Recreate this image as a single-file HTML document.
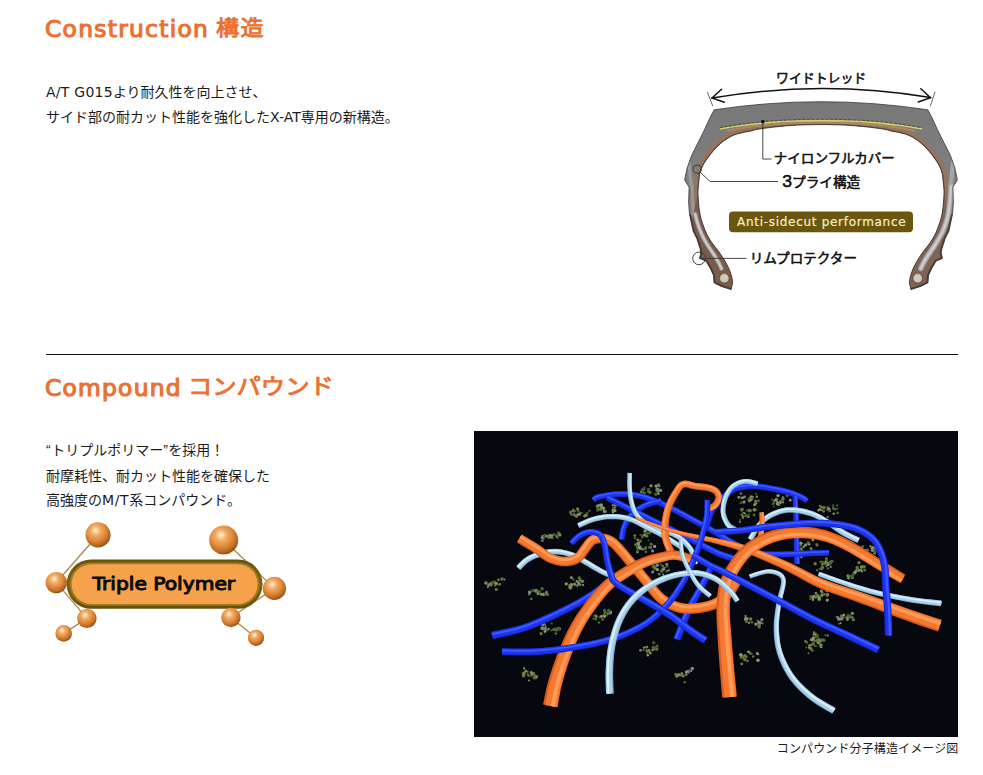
<!DOCTYPE html>
<html lang="ja">
<head>
<meta charset="utf-8">
<title>Construction / Compound</title>
<style>
html,body{margin:0;padding:0;background:#fff;}
body{width:983px;height:775px;position:relative;overflow:hidden;
  font-family:"DejaVu Sans","Liberation Sans","Noto Sans CJK JP",sans-serif;color:#1c1c1c;}
h2{position:absolute;left:0;margin:0;width:500px;height:30px;font-weight:normal;color:#ec7030;white-space:nowrap;}
h2 span{position:absolute;top:0;display:block;line-height:30px;transform-origin:0 50%;}
h2 .en{left:45.4px;top:-0.3px;font-size:22.2px;-webkit-text-stroke:1.1px #ec7030;letter-spacing:1.2px;transform:scaleX(1.054);}
#h2 .en{letter-spacing:1.15px;}
h2 .jp{font-family:"Liberation Sans","Noto Sans CJK JP",sans-serif;-webkit-text-stroke:0.9px #ec7030;}
#h1{top:14px;}
#h2{top:373px;}
#h1 .jp{left:216.4px;top:-0.6px;font-size:21px;letter-spacing:1.2px;transform:scaleX(1.1);}
#h2 .jp{left:188px;top:-0.6px;font-size:22px;transform:scaleX(1.104);}
p{position:absolute;left:46px;margin:0;font-size:14px;line-height:25px;white-space:nowrap;}
.lt{letter-spacing:0.25px;}
.q{font-family:"Liberation Sans","Noto Sans CJK JP",sans-serif;margin-right:0.5px;}
.l2{position:relative;top:0.7px;}
.mt{letter-spacing:0.6px;}
hr{position:absolute;left:46px;top:354px;width:912px;height:1px;border:0;margin:0;background:#111;}
#p1{top:80px;}
#p2{top:438px;}
#cap{position:absolute;right:24.6px;top:740px;font-size:12px;line-height:18px;white-space:nowrap;letter-spacing:0.12px;}
svg{position:absolute;display:block;}
#mol{left:474px;top:431px;}
#tire{left:670px;top:55px;}
#tp{left:36px;top:510px;}
</style>
</head>
<body>
<h2 id="h1"><span class="en">Construction</span> <span class="jp">構造</span></h2>
<p id="p1"><span class="lt">A/T G015</span>より耐久性を向上させ、<br>サイド部の耐カット性能を強化したX-AT専用の新構造。</p>
<svg id="tire" width="303" height="260" viewBox="670 55 303 260" aria-label="tire construction diagram">
<defs><clipPath id="tclip"><path d="M714.2,109.8 Q821.0,93.6 927.8,109.8 L932.2,118.1 L937.6,129.9 L943.9,142.5 L950.3,155.2 L954.8,167.8 L957.4,179.9 L954.7,184.4 L952.9,187.1 L953.4,202.5 L952.5,214.2 L950.6,223.2 L948.8,231.3 L945.2,238.5 L942.0,248.5 L941.2,253.0 L942.5,258.4 L936.2,261.0 L931.7,268.4 L928.5,275.6 L928.0,282.8 L920.8,286.4 L910.9,289.6 C910.7,288.3 909.5,284.5 909.5,282.0 C909.5,279.5 910.2,277.1 910.9,274.7 C911.6,272.3 912.4,270.1 913.6,267.5 C914.8,264.9 916.5,262.0 918.1,259.3 C919.8,256.6 921.5,253.9 923.5,251.2 C925.5,248.5 927.9,245.9 929.9,243.0 C931.9,240.1 933.8,237.0 935.3,234.0 C936.8,231.0 937.8,228.0 938.9,225.0 C940.0,222.0 940.9,219.6 941.6,216.0 C942.4,212.4 943.0,207.5 943.4,203.4 C943.8,199.3 944.1,195.5 944.0,191.6 C943.9,187.7 943.3,183.1 943.0,180.0 C942.7,176.9 942.7,175.5 942.1,173.2 C941.5,170.9 940.6,168.4 939.4,166.0 C938.2,163.6 936.7,161.4 934.9,158.8 C933.1,156.2 930.9,153.3 928.6,150.7 C926.3,148.1 924.0,145.7 921.3,143.4 C918.6,141.1 915.3,138.8 912.3,137.1 C909.3,135.4 906.7,134.5 903.3,133.5 C899.9,132.5 895.9,132.0 892.0,131.2 C888.1,130.4 886.7,129.5 880.0,128.6 C873.3,127.7 861.8,126.3 852.0,125.6 C842.2,124.9 831.3,124.6 821.0,124.6 C810.7,124.6 799.8,124.9 790.0,125.6 C780.2,126.3 768.7,127.7 762.0,128.6 C755.3,129.5 753.9,130.4 750.0,131.2 C746.1,132.0 742.1,132.5 738.7,133.5 C735.3,134.5 732.7,135.4 729.7,137.1 C726.7,138.8 723.4,141.1 720.7,143.4 C718.0,145.7 715.7,148.1 713.4,150.7 C711.1,153.3 708.9,156.2 707.1,158.8 C705.3,161.4 703.8,163.6 702.6,166.0 C701.4,168.4 700.5,170.9 699.9,173.2 C699.3,175.5 699.3,176.9 699.0,180.0 C698.7,183.1 698.1,187.7 698.0,191.6 C697.9,195.5 698.2,199.3 698.6,203.4 C699.0,207.5 699.6,212.4 700.4,216.0 C701.1,219.6 702.0,222.0 703.1,225.0 C704.2,228.0 705.2,231.0 706.7,234.0 C708.2,237.0 710.1,240.1 712.1,243.0 C714.1,245.9 716.5,248.5 718.5,251.2 C720.5,253.9 722.2,256.6 723.9,259.3 C725.5,262.0 727.2,264.9 728.4,267.5 C729.6,270.1 730.4,272.3 731.1,274.7 C731.8,277.1 732.5,279.5 732.5,282.0 C732.5,284.5 731.3,288.3 731.1,289.6 L721.2,286.4 L714.0,282.8 L713.5,275.6 L710.3,268.4 L705.8,261.0 L699.5,258.4 L700.8,253.0 L700.0,248.5 L696.8,238.5 L693.2,231.3 L691.4,223.2 L689.5,214.2 L688.6,202.5 L689.1,187.1 L687.3,184.4 L684.6,179.9 L687.2,167.8 L691.7,155.2 L698.1,142.5 L704.4,129.9 L709.8,118.1 L714.2,109.8Z"/></clipPath>
<linearGradient id="tg" x1="0" y1="0" x2="0" y2="1"><stop offset="0" stop-color="#787878"/><stop offset="0.35" stop-color="#7e7e7e"/><stop offset="1" stop-color="#888888"/></linearGradient></defs>
<path d="M714.2,109.8 Q821.0,93.6 927.8,109.8 L932.2,118.1 L937.6,129.9 L943.9,142.5 L950.3,155.2 L954.8,167.8 L957.4,179.9 L954.7,184.4 L952.9,187.1 L953.4,202.5 L952.5,214.2 L950.6,223.2 L948.8,231.3 L945.2,238.5 L942.0,248.5 L941.2,253.0 L942.5,258.4 L936.2,261.0 L931.7,268.4 L928.5,275.6 L928.0,282.8 L920.8,286.4 L910.9,289.6 C910.7,288.3 909.5,284.5 909.5,282.0 C909.5,279.5 910.2,277.1 910.9,274.7 C911.6,272.3 912.4,270.1 913.6,267.5 C914.8,264.9 916.5,262.0 918.1,259.3 C919.8,256.6 921.5,253.9 923.5,251.2 C925.5,248.5 927.9,245.9 929.9,243.0 C931.9,240.1 933.8,237.0 935.3,234.0 C936.8,231.0 937.8,228.0 938.9,225.0 C940.0,222.0 940.9,219.6 941.6,216.0 C942.4,212.4 943.0,207.5 943.4,203.4 C943.8,199.3 944.1,195.5 944.0,191.6 C943.9,187.7 943.3,183.1 943.0,180.0 C942.7,176.9 942.7,175.5 942.1,173.2 C941.5,170.9 940.6,168.4 939.4,166.0 C938.2,163.6 936.7,161.4 934.9,158.8 C933.1,156.2 930.9,153.3 928.6,150.7 C926.3,148.1 924.0,145.7 921.3,143.4 C918.6,141.1 915.3,138.8 912.3,137.1 C909.3,135.4 906.7,134.5 903.3,133.5 C899.9,132.5 895.9,132.0 892.0,131.2 C888.1,130.4 886.7,129.5 880.0,128.6 C873.3,127.7 861.8,126.3 852.0,125.6 C842.2,124.9 831.3,124.6 821.0,124.6 C810.7,124.6 799.8,124.9 790.0,125.6 C780.2,126.3 768.7,127.7 762.0,128.6 C755.3,129.5 753.9,130.4 750.0,131.2 C746.1,132.0 742.1,132.5 738.7,133.5 C735.3,134.5 732.7,135.4 729.7,137.1 C726.7,138.8 723.4,141.1 720.7,143.4 C718.0,145.7 715.7,148.1 713.4,150.7 C711.1,153.3 708.9,156.2 707.1,158.8 C705.3,161.4 703.8,163.6 702.6,166.0 C701.4,168.4 700.5,170.9 699.9,173.2 C699.3,175.5 699.3,176.9 699.0,180.0 C698.7,183.1 698.1,187.7 698.0,191.6 C697.9,195.5 698.2,199.3 698.6,203.4 C699.0,207.5 699.6,212.4 700.4,216.0 C701.1,219.6 702.0,222.0 703.1,225.0 C704.2,228.0 705.2,231.0 706.7,234.0 C708.2,237.0 710.1,240.1 712.1,243.0 C714.1,245.9 716.5,248.5 718.5,251.2 C720.5,253.9 722.2,256.6 723.9,259.3 C725.5,262.0 727.2,264.9 728.4,267.5 C729.6,270.1 730.4,272.3 731.1,274.7 C731.8,277.1 732.5,279.5 732.5,282.0 C732.5,284.5 731.3,288.3 731.1,289.6 L721.2,286.4 L714.0,282.8 L713.5,275.6 L710.3,268.4 L705.8,261.0 L699.5,258.4 L700.8,253.0 L700.0,248.5 L696.8,238.5 L693.2,231.3 L691.4,223.2 L689.5,214.2 L688.6,202.5 L689.1,187.1 L687.3,184.4 L684.6,179.9 L687.2,167.8 L691.7,155.2 L698.1,142.5 L704.4,129.9 L709.8,118.1 L714.2,109.8Z" fill="url(#tg)"/>
<g clip-path="url(#tclip)">
<path d="M688.2,160.0 C688.5,161.7 689.4,166.7 689.8,170.0 C690.2,173.3 690.1,176.7 690.6,180.0 C691.1,183.3 692.2,186.2 692.6,190.0 C693.0,193.8 692.8,199.0 693.0,203.0 C693.2,207.0 693.5,210.5 694.0,214.0 C694.5,217.5 695.7,222.3 696.0,224.0" fill="none" stroke="#9a9a9a" stroke-width="3.4" stroke-linecap="round"/>
<path d="M953.8,160.0 C953.5,161.7 952.6,166.7 952.2,170.0 C951.8,173.3 951.9,176.7 951.4,180.0 C950.9,183.3 949.8,186.2 949.4,190.0 C949.0,193.8 949.2,199.0 949.0,203.0 C948.8,207.0 948.5,210.5 948.0,214.0 C947.5,217.5 946.3,222.3 946.0,224.0" fill="none" stroke="#a6a6a6" stroke-width="4.2" stroke-linecap="round"/>
<path d="M910.9,289.6 C910.7,288.3 909.5,284.5 909.5,282.0 C909.5,279.5 910.2,277.1 910.9,274.7 C911.6,272.3 912.4,270.1 913.6,267.5 C914.8,264.9 916.5,262.0 918.1,259.3 C919.8,256.6 921.5,253.9 923.5,251.2 C925.5,248.5 927.9,245.9 929.9,243.0 C931.9,240.1 933.8,237.0 935.3,234.0 C936.8,231.0 937.8,228.0 938.9,225.0 C940.0,222.0 940.9,219.6 941.6,216.0 C942.4,212.4 943.0,207.5 943.4,203.4 C943.8,199.3 944.1,195.5 944.0,191.6 C943.9,187.7 943.3,183.1 943.0,180.0 C942.7,176.9 942.7,175.5 942.1,173.2 C941.5,170.9 940.6,168.4 939.4,166.0 C938.2,163.6 936.7,161.4 934.9,158.8 C933.1,156.2 930.9,153.3 928.6,150.7 C926.3,148.1 924.0,145.7 921.3,143.4 C918.6,141.1 915.3,138.8 912.3,137.1 C909.3,135.4 906.7,134.5 903.3,133.5 C899.9,132.5 895.9,132.0 892.0,131.2 C888.1,130.4 886.7,129.5 880.0,128.6 C873.3,127.7 861.8,126.3 852.0,125.6 C842.2,124.9 831.3,124.6 821.0,124.6 C810.7,124.6 799.8,124.9 790.0,125.6 C780.2,126.3 768.7,127.7 762.0,128.6 C755.3,129.5 753.9,130.4 750.0,131.2 C746.1,132.0 742.1,132.5 738.7,133.5 C735.3,134.5 732.7,135.4 729.7,137.1 C726.7,138.8 723.4,141.1 720.7,143.4 C718.0,145.7 715.7,148.1 713.4,150.7 C711.1,153.3 708.9,156.2 707.1,158.8 C705.3,161.4 703.8,163.6 702.6,166.0 C701.4,168.4 700.5,170.9 699.9,173.2 C699.3,175.5 699.3,176.9 699.0,180.0 C698.7,183.1 698.1,187.7 698.0,191.6 C697.9,195.5 698.2,199.3 698.6,203.4 C699.0,207.5 699.6,212.4 700.4,216.0 C701.1,219.6 702.0,222.0 703.1,225.0 C704.2,228.0 705.2,231.0 706.7,234.0 C708.2,237.0 710.1,240.1 712.1,243.0 C714.1,245.9 716.5,248.5 718.5,251.2 C720.5,253.9 722.2,256.6 723.9,259.3 C725.5,262.0 727.2,264.9 728.4,267.5 C729.6,270.1 730.4,272.3 731.1,274.7 C731.8,277.1 732.5,279.5 732.5,282.0 C732.5,284.5 731.3,288.3 731.1,289.6" fill="none" stroke="#96735f" stroke-width="8.6" stroke-linejoin="round"/>
<path d="M910.9,289.6 C910.7,288.3 909.5,284.5 909.5,282.0 C909.5,279.5 910.2,277.1 910.9,274.7 C911.6,272.3 912.4,270.1 913.6,267.5 C914.8,264.9 916.5,262.0 918.1,259.3 C919.8,256.6 921.5,253.9 923.5,251.2 C925.5,248.5 927.9,245.9 929.9,243.0 C931.9,240.1 933.8,237.0 935.3,234.0 C936.8,231.0 937.8,228.0 938.9,225.0 C940.0,222.0 940.9,219.6 941.6,216.0 C942.4,212.4 943.0,207.5 943.4,203.4 C943.8,199.3 944.1,195.5 944.0,191.6 C943.9,187.7 943.3,183.1 943.0,180.0 C942.7,176.9 942.7,175.5 942.1,173.2 C941.5,170.9 940.6,168.4 939.4,166.0 C938.2,163.6 936.7,161.4 934.9,158.8 C933.1,156.2 930.9,153.3 928.6,150.7 C926.3,148.1 924.0,145.7 921.3,143.4 C918.6,141.1 915.3,138.8 912.3,137.1 C909.3,135.4 906.7,134.5 903.3,133.5 C899.9,132.5 895.9,132.0 892.0,131.2 C888.1,130.4 886.7,129.5 880.0,128.6 C873.3,127.7 861.8,126.3 852.0,125.6 C842.2,124.9 831.3,124.6 821.0,124.6 C810.7,124.6 799.8,124.9 790.0,125.6 C780.2,126.3 768.7,127.7 762.0,128.6 C755.3,129.5 753.9,130.4 750.0,131.2 C746.1,132.0 742.1,132.5 738.7,133.5 C735.3,134.5 732.7,135.4 729.7,137.1 C726.7,138.8 723.4,141.1 720.7,143.4 C718.0,145.7 715.7,148.1 713.4,150.7 C711.1,153.3 708.9,156.2 707.1,158.8 C705.3,161.4 703.8,163.6 702.6,166.0 C701.4,168.4 700.5,170.9 699.9,173.2 C699.3,175.5 699.3,176.9 699.0,180.0 C698.7,183.1 698.1,187.7 698.0,191.6 C697.9,195.5 698.2,199.3 698.6,203.4 C699.0,207.5 699.6,212.4 700.4,216.0 C701.1,219.6 702.0,222.0 703.1,225.0 C704.2,228.0 705.2,231.0 706.7,234.0 C708.2,237.0 710.1,240.1 712.1,243.0 C714.1,245.9 716.5,248.5 718.5,251.2 C720.5,253.9 722.2,256.6 723.9,259.3 C725.5,262.0 727.2,264.9 728.4,267.5 C729.6,270.1 730.4,272.3 731.1,274.7 C731.8,277.1 732.5,279.5 732.5,282.0 C732.5,284.5 731.3,288.3 731.1,289.6" fill="none" stroke="#6c4c3b" stroke-width="1.6" stroke-linejoin="round"/>
<path d="M691.4,223.2 L693.2,231.3 L696.8,238.5 L700.0,248.5 L700.8,253.0 L699.5,258.4 L705.8,261.0 L710.3,268.4 L713.5,275.6 L714.0,282.8 L721.2,286.4 L731.1,289.6 L732.5,282.0 L731.1,274.7 L728.4,267.5 L723.9,259.3 L718.5,251.2 L712.1,243.0 L706.7,234.0 L703.1,225.0 L700.4,216.0 L698.6,203.4 L698.0,191.6Z" fill="#7b5c4c"/>
<path d="M950.6,223.2 L948.8,231.3 L945.2,238.5 L942.0,248.5 L941.2,253.0 L942.5,258.4 L936.2,261.0 L931.7,268.4 L928.5,275.6 L928.0,282.8 L920.8,286.4 L910.9,289.6 L909.5,282.0 L910.9,274.7 L913.6,267.5 L918.1,259.3 L923.5,251.2 L929.9,243.0 L935.3,234.0 L938.9,225.0 L941.6,216.0 L943.4,203.4 L944.0,191.6Z" fill="#7e6356"/>
<path d="M689.5,214.2 L691.4,223.2 L693.2,231.3 L696.8,238.5 L700.0,248.5 L700.8,253.0 L699.5,258.4 L705.8,261.0 L710.3,268.4 L713.5,275.6 L714.0,282.8 L721.2,286.4 L731.1,289.6" fill="none" stroke="#4a3a32" stroke-width="3"/>
<path d="M952.5,214.2 L950.6,223.2 L948.8,231.3 L945.2,238.5 L942.0,248.5 L941.2,253.0 L942.5,258.4 L936.2,261.0 L931.7,268.4 L928.5,275.6 L928.0,282.8 L920.8,286.4 L910.9,289.6" fill="none" stroke="#4a3a32" stroke-width="3"/>
<path d="M695.2,214.0 C695.5,215.3 696.4,219.4 697.2,222.0 C698.0,224.6 698.9,227.1 699.8,229.5 C700.7,231.9 701.6,234.2 702.8,236.5 C703.9,238.8 705.4,241.4 706.7,243.6 C708.0,245.8 709.3,247.6 710.6,249.6 C711.9,251.6 713.3,253.6 714.4,255.3 C715.5,257.0 716.3,258.5 717.2,260.0 C718.1,261.5 718.9,263.0 719.6,264.4 C720.3,265.8 721.1,267.9 721.4,268.6" fill="none" stroke="#9c8f88" stroke-width="4.4" stroke-linecap="round"/>
<path d="M695.2,214.0 C695.5,215.3 696.4,219.4 697.2,222.0 C698.0,224.6 698.9,227.1 699.8,229.5 C700.7,231.9 701.6,234.2 702.8,236.5 C703.9,238.8 705.4,241.4 706.7,243.6 C708.0,245.8 709.3,247.6 710.6,249.6 C711.9,251.6 713.3,253.6 714.4,255.3 C715.5,257.0 716.3,258.5 717.2,260.0 C718.1,261.5 718.9,263.0 719.6,264.4 C720.3,265.8 721.1,267.9 721.4,268.6" fill="none" stroke="#b9b5b2" stroke-width="3" stroke-linecap="round"/>
<path d="M695.2,214.0 C695.5,215.3 696.4,219.4 697.2,222.0 C698.0,224.6 698.9,227.1 699.8,229.5 C700.7,231.9 701.6,234.2 702.8,236.5 C703.9,238.8 705.4,241.4 706.7,243.6 C708.0,245.8 709.3,247.6 710.6,249.6 C711.9,251.6 713.3,253.6 714.4,255.3 C715.5,257.0 716.3,258.5 717.2,260.0 C718.1,261.5 718.9,263.0 719.6,264.4 C720.3,265.8 721.1,267.9 721.4,268.6" fill="none" stroke="#d0d0d0" stroke-width="1.4" stroke-linecap="round"/>
<path d="M951.2,186.0 C951.1,187.7 950.7,192.7 950.4,196.0 C950.1,199.3 949.8,202.7 949.4,206.0 C949.0,209.3 948.5,212.9 947.8,216.0 C947.1,219.1 946.3,221.9 945.4,224.5 C944.5,227.1 943.6,229.2 942.6,231.5 C941.6,233.8 940.4,235.8 939.2,238.0 C938.0,240.2 936.6,242.5 935.3,244.6 C934.0,246.7 932.7,248.5 931.4,250.4 C930.1,252.3 928.7,254.3 927.6,256.0 C926.5,257.7 925.7,259.1 924.8,260.6 C923.9,262.1 923.1,263.7 922.4,265.0 C921.7,266.3 921.1,268.0 920.8,268.6" fill="none" stroke="#9f9792" stroke-width="5.6" stroke-linecap="round"/>
<path d="M951.2,186.0 C951.1,187.7 950.7,192.7 950.4,196.0 C950.1,199.3 949.8,202.7 949.4,206.0 C949.0,209.3 948.5,212.9 947.8,216.0 C947.1,219.1 946.3,221.9 945.4,224.5 C944.5,227.1 943.6,229.2 942.6,231.5 C941.6,233.8 940.4,235.8 939.2,238.0 C938.0,240.2 936.6,242.5 935.3,244.6 C934.0,246.7 932.7,248.5 931.4,250.4 C930.1,252.3 928.7,254.3 927.6,256.0 C926.5,257.7 925.7,259.1 924.8,260.6 C923.9,262.1 923.1,263.7 922.4,265.0 C921.7,266.3 921.1,268.0 920.8,268.6" fill="none" stroke="#b4b2b0" stroke-width="4.2" stroke-linecap="round"/>
<path d="M951.2,186.0 C951.1,187.7 950.7,192.7 950.4,196.0 C950.1,199.3 949.8,202.7 949.4,206.0 C949.0,209.3 948.5,212.9 947.8,216.0 C947.1,219.1 946.3,221.9 945.4,224.5 C944.5,227.1 943.6,229.2 942.6,231.5 C941.6,233.8 940.4,235.8 939.2,238.0 C938.0,240.2 936.6,242.5 935.3,244.6 C934.0,246.7 932.7,248.5 931.4,250.4 C930.1,252.3 928.7,254.3 927.6,256.0 C926.5,257.7 925.7,259.1 924.8,260.6 C923.9,262.1 923.1,263.7 922.4,265.0 C921.7,266.3 921.1,268.0 920.8,268.6" fill="none" stroke="#cdcdcd" stroke-width="2" stroke-linecap="round"/>
<path d="M727.0,130.8 C730.8,130.1 742.0,127.7 750.0,126.6 C758.0,125.5 767.0,124.8 775.0,124.2 C783.0,123.6 790.3,123.1 798.0,122.8 C805.7,122.5 813.3,122.4 821.0,122.4 C828.7,122.4 836.3,122.5 844.0,122.8 C851.7,123.1 859.0,123.6 867.0,124.2 C875.0,124.8 884.0,125.5 892.0,126.6 C900.0,127.7 911.2,130.1 915.0,130.8" fill="none" stroke="#a98a58" stroke-width="2.2"/>
<path d="M719.8,129.0 C724.0,128.3 736.6,126.1 745.0,125.0 C753.4,123.9 761.7,123.1 770.0,122.4 C778.3,121.7 786.5,121.3 795.0,121.0 C803.5,120.7 812.3,120.6 821.0,120.6 C829.7,120.6 838.5,120.7 847.0,121.0 C855.5,121.3 863.7,121.7 872.0,122.4 C880.3,123.1 888.6,123.9 897.0,125.0 C905.4,126.1 918.0,128.3 922.2,129.0" fill="none" stroke="#d8cd72" stroke-width="1.6"/>
<path d="M719.8,127.6 C724.0,126.9 736.6,124.7 745.0,123.6 C753.4,122.5 761.7,121.7 770.0,121.0 C778.3,120.3 786.5,119.9 795.0,119.6 C803.5,119.3 812.3,119.2 821.0,119.2 C829.7,119.2 838.5,119.3 847.0,119.6 C855.5,119.9 863.7,120.3 872.0,121.0 C880.3,121.7 888.6,122.5 897.0,123.6 C905.4,124.7 918.0,126.9 922.2,127.6" fill="none" stroke="#4f5a2c" stroke-width="1.1" stroke-dasharray="3.2 1.4"/>
</g>
<path d="M714.2,109.8 Q821.0,93.6 927.8,109.8 L932.2,118.1 L937.6,129.9 L943.9,142.5 L950.3,155.2 L954.8,167.8 L957.4,179.9 L954.7,184.4 L952.9,187.1 L953.4,202.5 L952.5,214.2 L950.6,223.2 L948.8,231.3 L945.2,238.5 L942.0,248.5 L941.2,253.0 L942.5,258.4 L936.2,261.0 L931.7,268.4 L928.5,275.6 L928.0,282.8 L920.8,286.4 L910.9,289.6 C910.7,288.3 909.5,284.5 909.5,282.0 C909.5,279.5 910.2,277.1 910.9,274.7 C911.6,272.3 912.4,270.1 913.6,267.5 C914.8,264.9 916.5,262.0 918.1,259.3 C919.8,256.6 921.5,253.9 923.5,251.2 C925.5,248.5 927.9,245.9 929.9,243.0 C931.9,240.1 933.8,237.0 935.3,234.0 C936.8,231.0 937.8,228.0 938.9,225.0 C940.0,222.0 940.9,219.6 941.6,216.0 C942.4,212.4 943.0,207.5 943.4,203.4 C943.8,199.3 944.1,195.5 944.0,191.6 C943.9,187.7 943.3,183.1 943.0,180.0 C942.7,176.9 942.7,175.5 942.1,173.2 C941.5,170.9 940.6,168.4 939.4,166.0 C938.2,163.6 936.7,161.4 934.9,158.8 C933.1,156.2 930.9,153.3 928.6,150.7 C926.3,148.1 924.0,145.7 921.3,143.4 C918.6,141.1 915.3,138.8 912.3,137.1 C909.3,135.4 906.7,134.5 903.3,133.5 C899.9,132.5 895.9,132.0 892.0,131.2 C888.1,130.4 886.7,129.5 880.0,128.6 C873.3,127.7 861.8,126.3 852.0,125.6 C842.2,124.9 831.3,124.6 821.0,124.6 C810.7,124.6 799.8,124.9 790.0,125.6 C780.2,126.3 768.7,127.7 762.0,128.6 C755.3,129.5 753.9,130.4 750.0,131.2 C746.1,132.0 742.1,132.5 738.7,133.5 C735.3,134.5 732.7,135.4 729.7,137.1 C726.7,138.8 723.4,141.1 720.7,143.4 C718.0,145.7 715.7,148.1 713.4,150.7 C711.1,153.3 708.9,156.2 707.1,158.8 C705.3,161.4 703.8,163.6 702.6,166.0 C701.4,168.4 700.5,170.9 699.9,173.2 C699.3,175.5 699.3,176.9 699.0,180.0 C698.7,183.1 698.1,187.7 698.0,191.6 C697.9,195.5 698.2,199.3 698.6,203.4 C699.0,207.5 699.6,212.4 700.4,216.0 C701.1,219.6 702.0,222.0 703.1,225.0 C704.2,228.0 705.2,231.0 706.7,234.0 C708.2,237.0 710.1,240.1 712.1,243.0 C714.1,245.9 716.5,248.5 718.5,251.2 C720.5,253.9 722.2,256.6 723.9,259.3 C725.5,262.0 727.2,264.9 728.4,267.5 C729.6,270.1 730.4,272.3 731.1,274.7 C731.8,277.1 732.5,279.5 732.5,282.0 C732.5,284.5 731.3,288.3 731.1,289.6 L721.2,286.4 L714.0,282.8 L713.5,275.6 L710.3,268.4 L705.8,261.0 L699.5,258.4 L700.8,253.0 L700.0,248.5 L696.8,238.5 L693.2,231.3 L691.4,223.2 L689.5,214.2 L688.6,202.5 L689.1,187.1 L687.3,184.4 L684.6,179.9 L687.2,167.8 L691.7,155.2 L698.1,142.5 L704.4,129.9 L709.8,118.1 L714.2,109.8Z" fill="none" stroke="#383838" stroke-width="0.8" stroke-linejoin="round"/>
<circle cx="724.3" cy="278.2" r="5.3" fill="#5a4538"/>
<circle cx="724.3" cy="278.2" r="4.6" fill="#c8b27a"/>
<circle cx="724.3" cy="278.2" r="3.6" fill="#cbcbcb"/>
<circle cx="917.7" cy="278.2" r="5.3" fill="#5a4538"/>
<circle cx="917.7" cy="278.2" r="4.6" fill="#c8b27a"/>
<circle cx="917.7" cy="278.2" r="3.6" fill="#cbcbcb"/>
<g fill="none" stroke="#111" stroke-linecap="round">
<path stroke-width="1.5" d="M712,98 Q821,79.4 930.5,97.6"/>
<path stroke-width="1.5" d="M721.6,89.2 L712,98 L724.2,102.2"/>
<path stroke-width="1.5" d="M920.8,88.8 L930.5,97.6 L918.3,102"/>
<path stroke-width="0.8" stroke="#444" d="M707.5,92.2 L712.6,105.8"/>
<path stroke-width="0.8" stroke="#444" d="M935,92 L930.4,106"/>
</g>
<g fill="none" stroke="#333" stroke-width="0.9">
<path d="M762.8,121.6 L762.8,159 L771.5,159"/>
<path d="M700.2,172.3 L710.3,181.5 L778,181.5"/>
<path d="M705.4,258.4 L746.5,258.4"/>
<circle cx="697.2" cy="169.2" r="4.1"/>
<circle cx="699" cy="258.4" r="6.3"/>
</g>
<circle cx="762.8" cy="121.6" r="1.9" fill="#111"/>
<rect x="729" y="211.4" width="184" height="20.8" rx="4" fill="#6b560f"/>
<g font-family="'Liberation Sans','Noto Sans CJK JP',sans-serif" font-size="13.2" fill="#111" stroke="#111" stroke-width="0.55" stroke-linejoin="round">
<text x="776" y="82.9" textLength="90.2" lengthAdjust="spacingAndGlyphs">ワイドトレッド</text>
<text x="773.8" y="163" textLength="121" lengthAdjust="spacingAndGlyphs">ナイロンフルカバー</text>
<text x="782.2" y="186.5" textLength="78" lengthAdjust="spacingAndGlyphs"><tspan font-size="17">3</tspan>プライ構造</text>
<text x="749.8" y="262.8" textLength="107.2" lengthAdjust="spacingAndGlyphs">リムプロテクター</text>
</g>
<text x="737" y="226.2" textLength="168.6" lengthAdjust="spacing" font-family="'DejaVu Sans','Liberation Sans',sans-serif" font-size="12" fill="#f6efc4" stroke="#f6efc4" stroke-width="0.2">Anti-sidecut performance</text>
</svg>
<hr>
<h2 id="h2"><span class="en">Compound</span> <span class="jp">コンパウンド</span></h2>
<p id="p2"><span class="q">“</span>トリプルポリマー<span class="q">”</span>を採用！<br><span class="l2">耐摩耗性、耐カット性能を確保した</span><br>高強度の<span class="mt">M/T</span>系コンパウンド。</p>
<svg id="tp" width="270" height="150" viewBox="36 510 270 150" aria-label="Triple Polymer">
  <defs>
    <radialGradient id="ball" cx="0.42" cy="0.36" r="0.62" fx="0.40" fy="0.32">
      <stop offset="0" stop-color="#fff3e0"/>
      <stop offset="0.12" stop-color="#fcd9a8"/>
      <stop offset="0.3" stop-color="#f4ad66"/>
      <stop offset="0.62" stop-color="#e08a3c"/>
      <stop offset="0.88" stop-color="#bd6a22"/>
      <stop offset="1" stop-color="#9c5416"/>
    </radialGradient>
    <linearGradient id="rim" x1="0" y1="0" x2="0" y2="1">
      <stop offset="0" stop-color="#6a520c"/>
      <stop offset="0.5" stop-color="#7c6212"/>
      <stop offset="1" stop-color="#66500a"/>
    </linearGradient>
  </defs>
  <g stroke="#a48a48" stroke-width="1.3" fill="none">
    <path d="M98,535 L56.3,582.6 L86.9,618.4 L63.7,633.4"/>
    <path d="M223.7,540 L274.4,588.4 L230.9,617.5 L256,637.8"/>
  </g>
  <rect x="66.6" y="559.4" width="196" height="49.4" rx="24.7" fill="url(#rim)"/>
  <rect x="69.6" y="562.4" width="190" height="43.4" rx="21.7" fill="#9c7c1c"/>
  <rect x="71.6" y="564.2" width="186" height="39.8" rx="19.9" fill="#f6a24c"/>
  <circle cx="98" cy="534.8" r="12.6" fill="url(#ball)"/>
  <circle cx="56.3" cy="582.6" r="10.7" fill="url(#ball)"/>
  <circle cx="86.9" cy="618.4" r="9.7" fill="url(#ball)"/>
  <circle cx="63.7" cy="633.4" r="8.3" fill="url(#ball)"/>
  <circle cx="223.7" cy="540" r="14.5" fill="url(#ball)"/>
  <circle cx="274.4" cy="588.4" r="11.6" fill="url(#ball)"/>
  <circle cx="230.9" cy="617.5" r="9.7" fill="url(#ball)"/>
  <circle cx="256" cy="637.8" r="8.1" fill="url(#ball)"/>
  <text x="92.6" y="589.6" textLength="142.6" lengthAdjust="spacingAndGlyphs" font-family="'DejaVu Sans','Liberation Sans',sans-serif" font-size="18.4" fill="#0b0b0b" stroke="#0b0b0b" stroke-width="1.05" stroke-linejoin="round">Triple Polymer</text>
</svg>

<svg id="mol" width="484" height="306" viewBox="0 0 983 621" preserveAspectRatio="none" aria-label="compound molecular structure">
<rect width="983" height="621" fill="#07070f"/>
<g opacity="0.7">
<circle cx="141.3" cy="218.1" r="2.2" fill="#a8c0cc"/><circle cx="157.6" cy="212.3" r="2.3" fill="#a8c0cc"/><circle cx="138.1" cy="216.6" r="2.7" fill="#a8c0cc"/><circle cx="168.1" cy="212.9" r="3.5" fill="#6a9636"/><circle cx="159.5" cy="211.8" r="2.6" fill="#a8c0cc"/><circle cx="172.9" cy="208.3" r="2.9" fill="#6a9636"/><circle cx="139.2" cy="213.7" r="2.5" fill="#a8c0cc"/><circle cx="168.1" cy="214.3" r="2.2" fill="#90b050"/><circle cx="158.0" cy="215.0" r="2.1" fill="#88a84e"/><circle cx="138.9" cy="222.5" r="2.8" fill="#90b050"/><circle cx="156.5" cy="215.6" r="2.6" fill="#b4c870"/><circle cx="143.6" cy="212.3" r="3.1" fill="#90b050"/><circle cx="143.4" cy="212.4" r="3.2" fill="#557f2c"/><circle cx="146.0" cy="214.7" r="2.2" fill="#6a9636"/><circle cx="151.9" cy="216.1" r="2.7" fill="#b4c870"/><circle cx="171.6" cy="206.4" r="3.2" fill="#6a9636"/><circle cx="158.8" cy="217.3" r="2.6" fill="#88a84e"/><circle cx="153.9" cy="211.8" r="2.7" fill="#ccd890"/><circle cx="169.7" cy="216.5" r="2.1" fill="#88a84e"/><circle cx="163.2" cy="210.2" r="3.0" fill="#557f2c"/><circle cx="174.4" cy="210.9" r="3.4" fill="#b4c870"/><circle cx="147.9" cy="213.0" r="2.6" fill="#b4c870"/>
<circle cx="214.8" cy="165.9" r="2.4" fill="#88a84e"/><circle cx="210.9" cy="169.7" r="2.8" fill="#ccd890"/><circle cx="201.5" cy="162.1" r="3.3" fill="#90b050"/><circle cx="229.7" cy="166.8" r="3.1" fill="#557f2c"/><circle cx="234.3" cy="161.8" r="2.2" fill="#90b050"/><circle cx="201.8" cy="160.7" r="3.1" fill="#90b050"/><circle cx="195.6" cy="167.7" r="2.0" fill="#557f2c"/><circle cx="211.6" cy="162.1" r="3.0" fill="#557f2c"/><circle cx="208.1" cy="173.0" r="3.0" fill="#a8c0cc"/><circle cx="225.0" cy="172.2" r="3.4" fill="#b4c870"/><circle cx="226.5" cy="171.4" r="2.6" fill="#b4c870"/><circle cx="210.4" cy="158.2" r="3.0" fill="#b4c870"/><circle cx="197.7" cy="169.3" r="2.2" fill="#90b050"/><circle cx="219.1" cy="166.3" r="2.0" fill="#6a9636"/><circle cx="201.3" cy="169.9" r="2.1" fill="#6a9636"/><circle cx="203.5" cy="168.7" r="2.2" fill="#b4c870"/><circle cx="205.0" cy="162.5" r="2.2" fill="#6a9636"/><circle cx="214.7" cy="169.3" r="2.8" fill="#b4c870"/><circle cx="207.8" cy="171.0" r="2.4" fill="#88a84e"/><circle cx="228.5" cy="171.5" r="2.8" fill="#90b050"/><circle cx="203.5" cy="170.6" r="2.9" fill="#88a84e"/><circle cx="196.0" cy="164.4" r="2.5" fill="#a8c0cc"/>
<circle cx="253.7" cy="159.1" r="2.6" fill="#90b050"/><circle cx="258.8" cy="149.7" r="3.2" fill="#a8c0cc"/><circle cx="263.2" cy="156.8" r="3.4" fill="#ccd890"/><circle cx="282.5" cy="164.6" r="2.6" fill="#ccd890"/><circle cx="282.2" cy="156.7" r="2.0" fill="#88a84e"/><circle cx="251.3" cy="161.5" r="2.8" fill="#557f2c"/><circle cx="257.7" cy="151.3" r="3.5" fill="#ccd890"/><circle cx="289.5" cy="151.5" r="2.1" fill="#557f2c"/><circle cx="254.0" cy="150.4" r="3.0" fill="#b4c870"/><circle cx="286.0" cy="155.6" r="2.0" fill="#ccd890"/><circle cx="286.3" cy="150.3" r="3.1" fill="#ccd890"/><circle cx="286.5" cy="161.2" r="3.1" fill="#ccd890"/><circle cx="258.1" cy="159.8" r="2.5" fill="#88a84e"/><circle cx="281.9" cy="151.0" r="2.6" fill="#88a84e"/><circle cx="266.2" cy="163.4" r="3.6" fill="#90b050"/><circle cx="251.0" cy="152.5" r="3.4" fill="#a8c0cc"/><circle cx="282.4" cy="161.0" r="3.1" fill="#b4c870"/><circle cx="264.2" cy="163.3" r="2.9" fill="#a8c0cc"/><circle cx="250.9" cy="158.1" r="2.8" fill="#6a9636"/><circle cx="287.2" cy="146.2" r="3.6" fill="#b4c870"/><circle cx="257.8" cy="156.2" r="2.5" fill="#90b050"/><circle cx="259.6" cy="154.3" r="2.5" fill="#a8c0cc"/>
<circle cx="374.2" cy="126.9" r="3.1" fill="#b4c870"/><circle cx="372.9" cy="122.0" r="2.7" fill="#a8c0cc"/><circle cx="375.9" cy="111.4" r="2.8" fill="#a8c0cc"/><circle cx="374.8" cy="118.3" r="2.3" fill="#ccd890"/><circle cx="340.4" cy="123.2" r="3.0" fill="#b4c870"/><circle cx="344.6" cy="118.5" r="2.5" fill="#6a9636"/><circle cx="359.7" cy="110.9" r="3.4" fill="#6a9636"/><circle cx="342.0" cy="118.7" r="2.4" fill="#90b050"/><circle cx="370.0" cy="111.8" r="3.4" fill="#ccd890"/><circle cx="342.6" cy="121.6" r="3.0" fill="#557f2c"/><circle cx="359.3" cy="111.6" r="2.8" fill="#b4c870"/><circle cx="372.1" cy="118.0" r="3.5" fill="#a8c0cc"/><circle cx="369.0" cy="128.4" r="3.5" fill="#557f2c"/><circle cx="374.6" cy="109.1" r="3.3" fill="#90b050"/><circle cx="346.0" cy="125.9" r="3.1" fill="#6a9636"/><circle cx="357.6" cy="124.4" r="3.1" fill="#90b050"/><circle cx="371.6" cy="121.3" r="3.0" fill="#88a84e"/><circle cx="354.5" cy="118.7" r="3.4" fill="#557f2c"/><circle cx="378.9" cy="120.5" r="3.4" fill="#b4c870"/><circle cx="348.1" cy="134.7" r="3.3" fill="#88a84e"/><circle cx="345.9" cy="115.5" r="2.7" fill="#557f2c"/><circle cx="354.6" cy="123.4" r="3.2" fill="#6a9636"/>
<circle cx="341.3" cy="213.0" r="2.8" fill="#557f2c"/><circle cx="333.4" cy="219.8" r="2.2" fill="#6a9636"/><circle cx="354.8" cy="207.1" r="2.4" fill="#6a9636"/><circle cx="330.8" cy="234.4" r="2.3" fill="#ccd890"/><circle cx="351.0" cy="213.2" r="3.3" fill="#88a84e"/><circle cx="326.6" cy="212.2" r="2.9" fill="#90b050"/><circle cx="337.8" cy="210.6" r="2.1" fill="#557f2c"/><circle cx="346.4" cy="211.0" r="3.4" fill="#b4c870"/><circle cx="333.6" cy="222.1" r="2.1" fill="#557f2c"/><circle cx="352.0" cy="207.4" r="2.4" fill="#6a9636"/><circle cx="337.1" cy="238.1" r="3.5" fill="#b4c870"/><circle cx="333.0" cy="221.2" r="2.1" fill="#90b050"/><circle cx="354.4" cy="221.6" r="2.1" fill="#557f2c"/><circle cx="327.0" cy="217.0" r="3.0" fill="#557f2c"/><circle cx="341.9" cy="215.7" r="2.3" fill="#88a84e"/><circle cx="338.1" cy="223.2" r="3.6" fill="#6a9636"/><circle cx="328.1" cy="230.6" r="2.8" fill="#90b050"/><circle cx="331.9" cy="221.2" r="2.2" fill="#b4c870"/><circle cx="347.4" cy="203.1" r="3.4" fill="#ccd890"/><circle cx="357.2" cy="206.9" r="3.1" fill="#557f2c"/><circle cx="353.0" cy="199.6" r="3.2" fill="#88a84e"/><circle cx="332.7" cy="230.2" r="3.6" fill="#557f2c"/>
<circle cx="332.0" cy="227.1" r="2.3" fill="#b4c870"/><circle cx="334.8" cy="227.5" r="2.6" fill="#ccd890"/><circle cx="349.1" cy="245.3" r="2.5" fill="#88a84e"/><circle cx="348.6" cy="236.4" r="2.4" fill="#90b050"/><circle cx="330.9" cy="231.8" r="2.5" fill="#a8c0cc"/><circle cx="331.0" cy="238.8" r="2.3" fill="#557f2c"/><circle cx="337.6" cy="234.9" r="2.8" fill="#557f2c"/><circle cx="337.9" cy="238.1" r="3.2" fill="#a8c0cc"/><circle cx="333.6" cy="236.7" r="2.1" fill="#a8c0cc"/><circle cx="331.6" cy="232.3" r="3.0" fill="#557f2c"/><circle cx="332.0" cy="245.7" r="3.1" fill="#90b050"/><circle cx="359.0" cy="236.5" r="2.6" fill="#a8c0cc"/><circle cx="342.7" cy="240.0" r="3.0" fill="#88a84e"/><circle cx="336.0" cy="235.5" r="3.3" fill="#ccd890"/><circle cx="366.4" cy="234.2" r="2.8" fill="#ccd890"/><circle cx="367.2" cy="234.2" r="2.8" fill="#ccd890"/><circle cx="362.7" cy="243.5" r="3.3" fill="#a8c0cc"/><circle cx="359.8" cy="229.7" r="3.0" fill="#88a84e"/><circle cx="332.4" cy="242.9" r="2.6" fill="#6a9636"/><circle cx="347.8" cy="239.7" r="3.0" fill="#6a9636"/><circle cx="355.4" cy="236.1" r="2.7" fill="#6a9636"/><circle cx="333.9" cy="229.7" r="3.4" fill="#a8c0cc"/>
<circle cx="45.8" cy="309.3" r="2.1" fill="#ccd890"/><circle cx="33.8" cy="309.2" r="3.2" fill="#88a84e"/><circle cx="33.9" cy="312.2" r="2.6" fill="#ccd890"/><circle cx="41.8" cy="306.1" r="2.5" fill="#88a84e"/><circle cx="28.0" cy="316.8" r="2.2" fill="#a8c0cc"/><circle cx="35.1" cy="312.5" r="3.1" fill="#88a84e"/><circle cx="51.3" cy="311.3" r="2.4" fill="#b4c870"/><circle cx="53.3" cy="310.7" r="2.3" fill="#88a84e"/><circle cx="44.1" cy="309.2" r="2.7" fill="#b4c870"/><circle cx="29.6" cy="313.8" r="2.3" fill="#a8c0cc"/><circle cx="62.1" cy="301.4" r="2.1" fill="#b4c870"/><circle cx="45.0" cy="309.5" r="3.6" fill="#b4c870"/><circle cx="46.5" cy="321.8" r="2.9" fill="#6a9636"/><circle cx="29.4" cy="311.6" r="2.4" fill="#a8c0cc"/><circle cx="37.1" cy="307.4" r="3.4" fill="#557f2c"/><circle cx="49.7" cy="301.9" r="2.8" fill="#90b050"/><circle cx="56.8" cy="300.3" r="3.1" fill="#b4c870"/><circle cx="42.7" cy="313.6" r="2.2" fill="#88a84e"/><circle cx="37.5" cy="309.4" r="2.5" fill="#6a9636"/><circle cx="44.1" cy="321.6" r="2.2" fill="#b4c870"/><circle cx="58.5" cy="299.2" r="2.4" fill="#557f2c"/><circle cx="24.2" cy="308.6" r="3.6" fill="#b4c870"/>
<circle cx="124.2" cy="324.4" r="2.4" fill="#6a9636"/><circle cx="112.2" cy="331.2" r="2.5" fill="#88a84e"/><circle cx="147.4" cy="326.8" r="2.5" fill="#a8c0cc"/><circle cx="141.2" cy="331.6" r="3.5" fill="#ccd890"/><circle cx="145.5" cy="329.9" r="2.9" fill="#a8c0cc"/><circle cx="138.3" cy="320.2" r="3.5" fill="#6a9636"/><circle cx="126.3" cy="326.0" r="2.5" fill="#ccd890"/><circle cx="111.9" cy="327.3" r="2.2" fill="#a8c0cc"/><circle cx="128.7" cy="325.5" r="3.2" fill="#88a84e"/><circle cx="136.4" cy="331.4" r="3.0" fill="#b4c870"/><circle cx="121.7" cy="323.4" r="3.0" fill="#90b050"/><circle cx="112.9" cy="327.2" r="3.4" fill="#a8c0cc"/><circle cx="130.0" cy="330.2" r="2.7" fill="#ccd890"/><circle cx="116.4" cy="340.7" r="2.4" fill="#90b050"/><circle cx="116.7" cy="324.4" r="2.4" fill="#557f2c"/><circle cx="132.7" cy="326.2" r="3.2" fill="#6a9636"/><circle cx="126.1" cy="322.5" r="2.4" fill="#b4c870"/><circle cx="140.3" cy="330.7" r="2.4" fill="#b4c870"/><circle cx="149.0" cy="331.3" r="3.3" fill="#88a84e"/><circle cx="144.2" cy="331.6" r="2.4" fill="#6a9636"/><circle cx="119.6" cy="323.9" r="3.4" fill="#557f2c"/><circle cx="145.1" cy="330.5" r="2.2" fill="#6a9636"/>
<circle cx="216.3" cy="312.4" r="2.0" fill="#b4c870"/><circle cx="197.8" cy="297.6" r="2.8" fill="#ccd890"/><circle cx="201.8" cy="301.4" r="2.2" fill="#90b050"/><circle cx="206.5" cy="312.8" r="2.2" fill="#88a84e"/><circle cx="217.0" cy="304.0" r="2.1" fill="#b4c870"/><circle cx="213.6" cy="297.7" r="3.3" fill="#6a9636"/><circle cx="196.1" cy="319.1" r="3.5" fill="#557f2c"/><circle cx="209.1" cy="305.2" r="3.0" fill="#a8c0cc"/><circle cx="213.1" cy="309.9" r="3.5" fill="#a8c0cc"/><circle cx="193.3" cy="314.0" r="2.4" fill="#557f2c"/><circle cx="209.9" cy="313.7" r="2.4" fill="#b4c870"/><circle cx="197.9" cy="311.9" r="3.4" fill="#ccd890"/><circle cx="204.1" cy="310.6" r="3.1" fill="#b4c870"/><circle cx="198.4" cy="315.7" r="2.3" fill="#6a9636"/><circle cx="219.7" cy="305.4" r="3.1" fill="#90b050"/><circle cx="221.2" cy="304.6" r="2.8" fill="#90b050"/><circle cx="212.4" cy="307.3" r="2.3" fill="#b4c870"/><circle cx="215.5" cy="302.4" r="3.4" fill="#88a84e"/><circle cx="187.3" cy="310.1" r="3.3" fill="#ccd890"/><circle cx="194.5" cy="312.4" r="2.4" fill="#90b050"/><circle cx="221.5" cy="312.5" r="2.3" fill="#a8c0cc"/><circle cx="195.2" cy="317.1" r="3.5" fill="#b4c870"/>
<circle cx="264.1" cy="374.4" r="3.6" fill="#6a9636"/><circle cx="247.3" cy="381.7" r="3.1" fill="#6a9636"/><circle cx="244.9" cy="374.6" r="3.2" fill="#557f2c"/><circle cx="278.4" cy="366.9" r="2.5" fill="#90b050"/><circle cx="253.6" cy="388.7" r="2.5" fill="#6a9636"/><circle cx="265.8" cy="367.2" r="2.6" fill="#ccd890"/><circle cx="254.4" cy="378.7" r="2.1" fill="#557f2c"/><circle cx="257.5" cy="377.0" r="2.9" fill="#6a9636"/><circle cx="265.2" cy="363.7" r="3.3" fill="#557f2c"/><circle cx="261.1" cy="381.9" r="3.1" fill="#6a9636"/><circle cx="246.6" cy="376.4" r="2.6" fill="#557f2c"/><circle cx="272.7" cy="365.4" r="3.0" fill="#6a9636"/><circle cx="249.3" cy="376.9" r="2.1" fill="#b4c870"/><circle cx="243.0" cy="380.7" r="2.4" fill="#6a9636"/><circle cx="270.5" cy="373.3" r="2.5" fill="#557f2c"/><circle cx="273.9" cy="363.0" r="2.4" fill="#6a9636"/><circle cx="266.5" cy="368.9" r="3.2" fill="#6a9636"/><circle cx="265.4" cy="376.4" r="3.0" fill="#ccd890"/><circle cx="277.2" cy="369.1" r="3.1" fill="#b4c870"/><circle cx="259.1" cy="376.2" r="2.6" fill="#ccd890"/><circle cx="248.5" cy="375.2" r="2.3" fill="#b4c870"/><circle cx="271.7" cy="371.0" r="2.5" fill="#88a84e"/>
<circle cx="141.0" cy="400.6" r="2.6" fill="#b4c870"/><circle cx="166.0" cy="411.1" r="2.8" fill="#6a9636"/><circle cx="150.6" cy="402.9" r="2.1" fill="#88a84e"/><circle cx="157.0" cy="404.8" r="2.3" fill="#557f2c"/><circle cx="152.0" cy="401.6" r="2.1" fill="#a8c0cc"/><circle cx="138.8" cy="400.9" r="3.6" fill="#b4c870"/><circle cx="173.8" cy="401.8" r="3.0" fill="#b4c870"/><circle cx="161.9" cy="402.8" r="2.9" fill="#88a84e"/><circle cx="165.9" cy="400.8" r="2.5" fill="#557f2c"/><circle cx="157.9" cy="390.5" r="2.4" fill="#557f2c"/><circle cx="145.5" cy="396.5" r="2.2" fill="#90b050"/><circle cx="170.3" cy="401.7" r="2.3" fill="#a8c0cc"/><circle cx="137.6" cy="399.6" r="2.4" fill="#a8c0cc"/><circle cx="167.2" cy="404.4" r="2.7" fill="#88a84e"/><circle cx="136.2" cy="411.0" r="3.3" fill="#90b050"/><circle cx="171.6" cy="400.7" r="3.4" fill="#6a9636"/><circle cx="144.2" cy="406.8" r="2.9" fill="#ccd890"/><circle cx="172.1" cy="402.7" r="2.8" fill="#557f2c"/><circle cx="142.3" cy="392.1" r="3.5" fill="#88a84e"/><circle cx="139.4" cy="393.9" r="3.1" fill="#a8c0cc"/><circle cx="148.9" cy="404.7" r="2.3" fill="#6a9636"/><circle cx="145.2" cy="400.9" r="3.2" fill="#a8c0cc"/>
<circle cx="126.8" cy="500.1" r="2.3" fill="#557f2c"/><circle cx="108.8" cy="488.3" r="2.1" fill="#90b050"/><circle cx="116.1" cy="489.5" r="2.6" fill="#ccd890"/><circle cx="116.8" cy="496.0" r="2.9" fill="#88a84e"/><circle cx="121.7" cy="492.9" r="3.1" fill="#557f2c"/><circle cx="111.2" cy="496.8" r="2.5" fill="#6a9636"/><circle cx="118.4" cy="492.1" r="3.2" fill="#ccd890"/><circle cx="125.8" cy="502.0" r="2.3" fill="#88a84e"/><circle cx="123.9" cy="497.2" r="2.7" fill="#90b050"/><circle cx="127.4" cy="498.4" r="2.9" fill="#b4c870"/><circle cx="109.6" cy="494.2" r="2.9" fill="#6a9636"/><circle cx="121.1" cy="493.4" r="2.1" fill="#b4c870"/><circle cx="120.8" cy="491.7" r="2.6" fill="#90b050"/><circle cx="100.8" cy="496.6" r="3.5" fill="#90b050"/><circle cx="101.9" cy="481.9" r="2.3" fill="#ccd890"/><circle cx="100.3" cy="492.3" r="3.6" fill="#6a9636"/><circle cx="111.7" cy="506.4" r="2.1" fill="#b4c870"/><circle cx="122.4" cy="500.9" r="3.3" fill="#88a84e"/><circle cx="101.6" cy="492.8" r="3.0" fill="#b4c870"/><circle cx="104.0" cy="488.6" r="2.3" fill="#b4c870"/><circle cx="105.2" cy="487.3" r="2.6" fill="#b4c870"/><circle cx="100.5" cy="495.7" r="3.3" fill="#88a84e"/>
<circle cx="370.8" cy="442.8" r="3.3" fill="#88a84e"/><circle cx="338.2" cy="445.1" r="2.7" fill="#a8c0cc"/><circle cx="368.3" cy="440.5" r="2.9" fill="#557f2c"/><circle cx="349.1" cy="439.1" r="2.6" fill="#88a84e"/><circle cx="355.2" cy="445.1" r="2.7" fill="#b4c870"/><circle cx="353.2" cy="446.3" r="3.2" fill="#a8c0cc"/><circle cx="354.6" cy="448.1" r="2.1" fill="#6a9636"/><circle cx="352.2" cy="452.5" r="2.1" fill="#557f2c"/><circle cx="352.2" cy="444.5" r="2.2" fill="#88a84e"/><circle cx="370.3" cy="437.9" r="3.2" fill="#557f2c"/><circle cx="358.0" cy="450.4" r="3.0" fill="#b4c870"/><circle cx="366.3" cy="442.3" r="3.4" fill="#6a9636"/><circle cx="372.6" cy="435.8" r="2.2" fill="#90b050"/><circle cx="364.9" cy="429.5" r="3.5" fill="#557f2c"/><circle cx="372.2" cy="442.6" r="2.1" fill="#90b050"/><circle cx="353.0" cy="455.1" r="2.4" fill="#ccd890"/><circle cx="344.9" cy="439.7" r="2.2" fill="#b4c870"/><circle cx="351.8" cy="437.9" r="2.3" fill="#b4c870"/><circle cx="344.4" cy="444.5" r="2.3" fill="#6a9636"/><circle cx="351.4" cy="446.4" r="3.5" fill="#88a84e"/><circle cx="362.6" cy="444.4" r="2.4" fill="#ccd890"/><circle cx="363.9" cy="438.7" r="3.0" fill="#6a9636"/>
<circle cx="442.5" cy="481.4" r="2.4" fill="#6a9636"/><circle cx="430.7" cy="489.2" r="2.6" fill="#ccd890"/><circle cx="441.0" cy="487.3" r="2.2" fill="#a8c0cc"/><circle cx="428.0" cy="509.9" r="2.7" fill="#6a9636"/><circle cx="417.5" cy="495.5" r="2.8" fill="#ccd890"/><circle cx="422.2" cy="492.4" r="2.9" fill="#ccd890"/><circle cx="436.3" cy="490.1" r="2.4" fill="#6a9636"/><circle cx="422.0" cy="494.6" r="2.7" fill="#88a84e"/><circle cx="431.1" cy="494.1" r="3.0" fill="#90b050"/><circle cx="412.0" cy="495.2" r="2.0" fill="#6a9636"/><circle cx="425.5" cy="497.5" r="2.7" fill="#90b050"/><circle cx="423.2" cy="497.3" r="2.3" fill="#90b050"/><circle cx="434.0" cy="487.8" r="2.4" fill="#ccd890"/><circle cx="416.6" cy="496.3" r="2.1" fill="#6a9636"/><circle cx="415.7" cy="493.8" r="2.4" fill="#ccd890"/><circle cx="410.2" cy="493.7" r="3.3" fill="#88a84e"/><circle cx="443.5" cy="482.0" r="3.5" fill="#a8c0cc"/><circle cx="437.9" cy="485.6" r="2.3" fill="#90b050"/><circle cx="411.1" cy="498.6" r="2.4" fill="#90b050"/><circle cx="413.1" cy="497.3" r="2.2" fill="#ccd890"/><circle cx="433.8" cy="488.8" r="2.3" fill="#b4c870"/><circle cx="433.3" cy="487.9" r="3.0" fill="#a8c0cc"/>
<circle cx="564.0" cy="452.0" r="2.1" fill="#88a84e"/><circle cx="575.2" cy="451.4" r="2.8" fill="#ccd890"/><circle cx="560.6" cy="450.6" r="2.1" fill="#b4c870"/><circle cx="567.0" cy="457.7" r="2.4" fill="#90b050"/><circle cx="544.7" cy="458.7" r="3.4" fill="#557f2c"/><circle cx="576.9" cy="452.7" r="2.4" fill="#ccd890"/><circle cx="541.3" cy="453.7" r="3.3" fill="#88a84e"/><circle cx="559.5" cy="448.7" r="2.5" fill="#557f2c"/><circle cx="577.1" cy="452.9" r="2.0" fill="#a8c0cc"/><circle cx="550.3" cy="455.8" r="3.3" fill="#90b050"/><circle cx="549.9" cy="464.1" r="3.4" fill="#90b050"/><circle cx="555.6" cy="466.6" r="2.6" fill="#90b050"/><circle cx="576.8" cy="465.2" r="3.6" fill="#ccd890"/><circle cx="557.2" cy="448.1" r="2.8" fill="#ccd890"/><circle cx="543.8" cy="472.6" r="2.9" fill="#90b050"/><circle cx="553.0" cy="458.9" r="2.6" fill="#90b050"/><circle cx="562.6" cy="451.2" r="2.0" fill="#6a9636"/><circle cx="544.4" cy="457.2" r="2.6" fill="#90b050"/><circle cx="546.4" cy="459.8" r="3.0" fill="#88a84e"/><circle cx="542.2" cy="459.4" r="3.2" fill="#6a9636"/><circle cx="542.1" cy="454.6" r="3.5" fill="#ccd890"/><circle cx="560.7" cy="452.0" r="2.1" fill="#88a84e"/>
<circle cx="585.9" cy="390.4" r="2.3" fill="#90b050"/><circle cx="551.8" cy="380.8" r="3.5" fill="#ccd890"/><circle cx="578.6" cy="394.5" r="2.5" fill="#88a84e"/><circle cx="553.4" cy="386.8" r="3.3" fill="#6a9636"/><circle cx="576.0" cy="384.7" r="2.0" fill="#557f2c"/><circle cx="559.6" cy="388.0" r="2.1" fill="#557f2c"/><circle cx="578.8" cy="394.7" r="2.8" fill="#a8c0cc"/><circle cx="584.7" cy="382.6" r="3.2" fill="#a8c0cc"/><circle cx="580.2" cy="393.5" r="2.6" fill="#6a9636"/><circle cx="577.8" cy="387.7" r="2.9" fill="#a8c0cc"/><circle cx="577.8" cy="389.9" r="2.3" fill="#557f2c"/><circle cx="551.5" cy="375.2" r="2.5" fill="#90b050"/><circle cx="579.0" cy="391.5" r="2.8" fill="#6a9636"/><circle cx="581.4" cy="388.8" r="3.5" fill="#90b050"/><circle cx="572.5" cy="391.9" r="3.5" fill="#a8c0cc"/><circle cx="561.8" cy="381.7" r="3.5" fill="#90b050"/><circle cx="558.3" cy="389.5" r="2.1" fill="#ccd890"/><circle cx="579.3" cy="398.1" r="2.9" fill="#88a84e"/><circle cx="554.6" cy="381.0" r="3.4" fill="#b4c870"/><circle cx="579.3" cy="388.9" r="3.4" fill="#b4c870"/><circle cx="551.1" cy="382.7" r="2.8" fill="#a8c0cc"/><circle cx="564.5" cy="388.2" r="2.4" fill="#88a84e"/>
<circle cx="691.3" cy="435.0" r="2.1" fill="#88a84e"/><circle cx="691.5" cy="425.4" r="2.2" fill="#a8c0cc"/><circle cx="702.6" cy="427.8" r="2.7" fill="#90b050"/><circle cx="696.0" cy="426.0" r="2.9" fill="#557f2c"/><circle cx="673.3" cy="426.8" r="2.8" fill="#90b050"/><circle cx="681.4" cy="439.4" r="3.1" fill="#ccd890"/><circle cx="703.8" cy="434.2" r="3.2" fill="#90b050"/><circle cx="694.5" cy="436.8" r="2.3" fill="#557f2c"/><circle cx="684.3" cy="441.7" r="3.6" fill="#88a84e"/><circle cx="679.4" cy="451.1" r="2.2" fill="#88a84e"/><circle cx="687.2" cy="445.4" r="2.5" fill="#88a84e"/><circle cx="680.9" cy="435.7" r="3.0" fill="#6a9636"/><circle cx="674.8" cy="439.3" r="2.0" fill="#6a9636"/><circle cx="704.9" cy="437.6" r="3.1" fill="#b4c870"/><circle cx="689.3" cy="430.9" r="2.4" fill="#90b050"/><circle cx="698.5" cy="428.8" r="3.2" fill="#6a9636"/><circle cx="704.8" cy="425.6" r="3.0" fill="#88a84e"/><circle cx="704.2" cy="435.5" r="3.2" fill="#88a84e"/><circle cx="705.2" cy="433.5" r="2.4" fill="#ccd890"/><circle cx="675.9" cy="429.1" r="2.7" fill="#6a9636"/><circle cx="682.3" cy="434.7" r="2.4" fill="#b4c870"/><circle cx="685.7" cy="434.0" r="3.0" fill="#88a84e"/>
<circle cx="694.5" cy="329.3" r="2.8" fill="#b4c870"/><circle cx="706.8" cy="334.6" r="2.3" fill="#ccd890"/><circle cx="706.1" cy="333.6" r="3.5" fill="#b4c870"/><circle cx="683.4" cy="335.8" r="2.9" fill="#557f2c"/><circle cx="688.3" cy="342.4" r="2.6" fill="#a8c0cc"/><circle cx="708.2" cy="318.0" r="2.9" fill="#b4c870"/><circle cx="705.2" cy="324.5" r="2.6" fill="#ccd890"/><circle cx="693.9" cy="336.7" r="3.5" fill="#88a84e"/><circle cx="688.4" cy="337.2" r="3.5" fill="#ccd890"/><circle cx="706.7" cy="327.0" r="2.6" fill="#a8c0cc"/><circle cx="683.2" cy="340.7" r="2.1" fill="#6a9636"/><circle cx="717.5" cy="334.0" r="3.1" fill="#88a84e"/><circle cx="694.4" cy="336.8" r="2.6" fill="#88a84e"/><circle cx="718.3" cy="332.0" r="3.6" fill="#90b050"/><circle cx="716.0" cy="325.3" r="2.1" fill="#ccd890"/><circle cx="711.4" cy="331.4" r="2.8" fill="#90b050"/><circle cx="703.1" cy="336.1" r="3.1" fill="#557f2c"/><circle cx="717.4" cy="343.2" r="3.3" fill="#ccd890"/><circle cx="698.1" cy="333.7" r="3.2" fill="#90b050"/><circle cx="701.3" cy="341.7" r="3.4" fill="#ccd890"/><circle cx="690.2" cy="335.6" r="3.1" fill="#b4c870"/><circle cx="700.4" cy="338.0" r="3.2" fill="#ccd890"/>
<circle cx="744.7" cy="381.6" r="3.0" fill="#b4c870"/><circle cx="741.4" cy="391.2" r="2.2" fill="#557f2c"/><circle cx="747.0" cy="381.0" r="3.4" fill="#a8c0cc"/><circle cx="766.2" cy="377.6" r="2.8" fill="#90b050"/><circle cx="746.8" cy="375.5" r="3.5" fill="#90b050"/><circle cx="759.5" cy="374.1" r="3.0" fill="#557f2c"/><circle cx="758.7" cy="381.0" r="2.6" fill="#b4c870"/><circle cx="741.0" cy="382.1" r="3.3" fill="#b4c870"/><circle cx="744.5" cy="390.0" r="2.1" fill="#ccd890"/><circle cx="768.5" cy="370.1" r="3.3" fill="#a8c0cc"/><circle cx="768.7" cy="378.0" r="2.1" fill="#a8c0cc"/><circle cx="770.5" cy="382.9" r="3.4" fill="#88a84e"/><circle cx="756.9" cy="378.9" r="2.8" fill="#90b050"/><circle cx="758.5" cy="383.0" r="2.7" fill="#b4c870"/><circle cx="739.4" cy="378.8" r="3.0" fill="#a8c0cc"/><circle cx="763.9" cy="377.1" r="3.3" fill="#90b050"/><circle cx="751.2" cy="373.4" r="2.7" fill="#ccd890"/><circle cx="751.1" cy="378.1" r="2.1" fill="#88a84e"/><circle cx="759.9" cy="377.3" r="2.1" fill="#a8c0cc"/><circle cx="763.6" cy="375.8" r="3.3" fill="#557f2c"/><circle cx="736.6" cy="376.9" r="2.1" fill="#90b050"/><circle cx="763.5" cy="377.9" r="2.2" fill="#88a84e"/>
<circle cx="778.0" cy="277.4" r="3.2" fill="#a8c0cc"/><circle cx="768.9" cy="297.7" r="2.5" fill="#b4c870"/><circle cx="768.5" cy="293.6" r="3.3" fill="#557f2c"/><circle cx="772.4" cy="288.2" r="3.6" fill="#a8c0cc"/><circle cx="787.0" cy="275.8" r="3.3" fill="#b4c870"/><circle cx="770.6" cy="291.0" r="3.1" fill="#557f2c"/><circle cx="763.2" cy="294.4" r="2.6" fill="#6a9636"/><circle cx="776.7" cy="283.6" r="2.9" fill="#b4c870"/><circle cx="759.2" cy="293.7" r="3.3" fill="#90b050"/><circle cx="774.4" cy="286.0" r="3.1" fill="#ccd890"/><circle cx="788.2" cy="284.9" r="2.2" fill="#a8c0cc"/><circle cx="779.0" cy="278.0" r="3.0" fill="#88a84e"/><circle cx="782.2" cy="283.1" r="3.0" fill="#b4c870"/><circle cx="767.6" cy="298.3" r="2.3" fill="#88a84e"/><circle cx="759.8" cy="295.8" r="2.0" fill="#88a84e"/><circle cx="782.0" cy="267.2" r="3.3" fill="#90b050"/><circle cx="777.0" cy="283.6" r="2.1" fill="#b4c870"/><circle cx="760.6" cy="298.5" r="3.0" fill="#a8c0cc"/><circle cx="793.4" cy="282.3" r="3.3" fill="#6a9636"/><circle cx="785.7" cy="281.7" r="2.9" fill="#b4c870"/><circle cx="789.1" cy="276.0" r="3.0" fill="#b4c870"/><circle cx="792.3" cy="275.6" r="3.6" fill="#88a84e"/>
<circle cx="707.6" cy="276.8" r="3.4" fill="#90b050"/><circle cx="715.8" cy="273.8" r="2.0" fill="#b4c870"/><circle cx="719.0" cy="278.9" r="2.3" fill="#6a9636"/><circle cx="696.8" cy="282.4" r="2.0" fill="#b4c870"/><circle cx="718.7" cy="268.9" r="3.5" fill="#90b050"/><circle cx="706.2" cy="279.7" r="3.1" fill="#88a84e"/><circle cx="724.0" cy="267.3" r="2.9" fill="#88a84e"/><circle cx="709.5" cy="267.8" r="3.5" fill="#88a84e"/><circle cx="701.8" cy="280.1" r="2.1" fill="#6a9636"/><circle cx="724.8" cy="265.5" r="3.3" fill="#88a84e"/><circle cx="692.9" cy="269.6" r="3.5" fill="#90b050"/><circle cx="724.6" cy="275.8" r="2.1" fill="#a8c0cc"/><circle cx="703.9" cy="265.7" r="2.3" fill="#88a84e"/><circle cx="727.9" cy="264.2" r="2.6" fill="#6a9636"/><circle cx="715.0" cy="265.1" r="3.2" fill="#b4c870"/><circle cx="707.4" cy="266.2" r="3.3" fill="#557f2c"/><circle cx="712.5" cy="269.0" r="3.1" fill="#88a84e"/><circle cx="723.2" cy="269.6" r="3.4" fill="#557f2c"/><circle cx="719.4" cy="271.5" r="2.5" fill="#ccd890"/><circle cx="707.2" cy="270.8" r="2.6" fill="#90b050"/><circle cx="715.7" cy="259.5" r="2.7" fill="#ccd890"/><circle cx="716.2" cy="261.8" r="2.4" fill="#557f2c"/>
<circle cx="684.4" cy="238.8" r="2.5" fill="#6a9636"/><circle cx="663.7" cy="227.9" r="3.6" fill="#ccd890"/><circle cx="668.3" cy="247.6" r="3.1" fill="#a8c0cc"/><circle cx="695.8" cy="229.9" r="2.9" fill="#557f2c"/><circle cx="680.4" cy="229.4" r="3.2" fill="#ccd890"/><circle cx="697.0" cy="231.7" r="2.5" fill="#90b050"/><circle cx="661.2" cy="232.2" r="2.9" fill="#557f2c"/><circle cx="662.0" cy="244.4" r="2.7" fill="#b4c870"/><circle cx="664.6" cy="241.8" r="2.6" fill="#90b050"/><circle cx="678.9" cy="226.2" r="3.4" fill="#557f2c"/><circle cx="679.3" cy="227.7" r="2.3" fill="#90b050"/><circle cx="664.3" cy="239.6" r="3.1" fill="#ccd890"/><circle cx="673.5" cy="231.2" r="3.4" fill="#a8c0cc"/><circle cx="669.6" cy="235.1" r="2.6" fill="#b4c870"/><circle cx="663.2" cy="232.1" r="2.5" fill="#90b050"/><circle cx="660.1" cy="232.1" r="2.8" fill="#557f2c"/><circle cx="664.9" cy="255.2" r="2.9" fill="#ccd890"/><circle cx="684.2" cy="237.7" r="2.4" fill="#90b050"/><circle cx="688.3" cy="221.0" r="2.9" fill="#ccd890"/><circle cx="685.5" cy="239.9" r="2.4" fill="#90b050"/><circle cx="662.2" cy="240.1" r="2.0" fill="#6a9636"/><circle cx="662.6" cy="242.3" r="3.4" fill="#557f2c"/>
<circle cx="817.9" cy="238.3" r="3.0" fill="#a8c0cc"/><circle cx="816.4" cy="235.8" r="3.5" fill="#88a84e"/><circle cx="789.1" cy="234.7" r="2.8" fill="#88a84e"/><circle cx="787.0" cy="239.3" r="2.3" fill="#ccd890"/><circle cx="819.0" cy="240.3" r="3.5" fill="#6a9636"/><circle cx="817.3" cy="236.5" r="3.4" fill="#6a9636"/><circle cx="816.1" cy="237.9" r="2.8" fill="#ccd890"/><circle cx="809.1" cy="236.8" r="3.6" fill="#ccd890"/><circle cx="783.6" cy="248.9" r="3.1" fill="#90b050"/><circle cx="793.5" cy="248.7" r="2.7" fill="#a8c0cc"/><circle cx="805.0" cy="233.7" r="2.2" fill="#b4c870"/><circle cx="799.4" cy="241.1" r="2.7" fill="#90b050"/><circle cx="813.9" cy="247.5" r="3.1" fill="#b4c870"/><circle cx="786.9" cy="236.4" r="2.3" fill="#6a9636"/><circle cx="814.3" cy="244.1" r="3.4" fill="#557f2c"/><circle cx="786.5" cy="246.2" r="3.5" fill="#b4c870"/><circle cx="816.6" cy="236.0" r="2.7" fill="#6a9636"/><circle cx="793.8" cy="241.9" r="2.4" fill="#ccd890"/><circle cx="784.3" cy="239.6" r="2.1" fill="#88a84e"/><circle cx="809.1" cy="242.0" r="3.4" fill="#a8c0cc"/><circle cx="798.2" cy="243.8" r="2.2" fill="#90b050"/><circle cx="791.9" cy="246.2" r="2.5" fill="#ccd890"/>
<circle cx="709.9" cy="163.5" r="2.2" fill="#b4c870"/><circle cx="738.5" cy="166.2" r="3.0" fill="#6a9636"/><circle cx="730.6" cy="167.7" r="2.5" fill="#ccd890"/><circle cx="710.8" cy="155.6" r="3.6" fill="#90b050"/><circle cx="717.3" cy="159.4" r="2.2" fill="#90b050"/><circle cx="711.1" cy="163.0" r="2.1" fill="#90b050"/><circle cx="729.5" cy="157.0" r="2.7" fill="#6a9636"/><circle cx="718.5" cy="174.6" r="2.2" fill="#a8c0cc"/><circle cx="699.8" cy="160.8" r="2.6" fill="#90b050"/><circle cx="702.5" cy="151.9" r="2.3" fill="#b4c870"/><circle cx="722.6" cy="162.6" r="2.4" fill="#ccd890"/><circle cx="706.8" cy="161.0" r="2.1" fill="#a8c0cc"/><circle cx="704.2" cy="153.0" r="2.3" fill="#557f2c"/><circle cx="706.1" cy="154.2" r="3.1" fill="#88a84e"/><circle cx="732.8" cy="158.4" r="3.1" fill="#6a9636"/><circle cx="721.0" cy="158.3" r="3.2" fill="#ccd890"/><circle cx="702.1" cy="159.6" r="3.0" fill="#ccd890"/><circle cx="738.3" cy="157.6" r="2.0" fill="#6a9636"/><circle cx="737.6" cy="151.1" r="2.4" fill="#557f2c"/><circle cx="722.3" cy="161.9" r="2.1" fill="#557f2c"/><circle cx="729.2" cy="151.4" r="2.8" fill="#557f2c"/><circle cx="718.5" cy="154.8" r="2.1" fill="#a8c0cc"/>
<circle cx="616.8" cy="148.4" r="3.1" fill="#ccd890"/><circle cx="617.5" cy="131.1" r="3.4" fill="#ccd890"/><circle cx="618.9" cy="149.0" r="2.8" fill="#b4c870"/><circle cx="627.7" cy="145.0" r="2.2" fill="#a8c0cc"/><circle cx="616.9" cy="149.1" r="2.2" fill="#90b050"/><circle cx="616.5" cy="146.6" r="3.5" fill="#ccd890"/><circle cx="608.7" cy="153.0" r="2.0" fill="#557f2c"/><circle cx="627.7" cy="135.0" r="2.7" fill="#a8c0cc"/><circle cx="613.6" cy="138.3" r="3.1" fill="#6a9636"/><circle cx="608.0" cy="146.7" r="2.7" fill="#6a9636"/><circle cx="628.4" cy="139.2" r="2.6" fill="#6a9636"/><circle cx="610.3" cy="141.5" r="2.4" fill="#a8c0cc"/><circle cx="613.7" cy="140.1" r="2.3" fill="#b4c870"/><circle cx="636.1" cy="131.3" r="2.6" fill="#88a84e"/><circle cx="622.9" cy="144.3" r="3.6" fill="#b4c870"/><circle cx="606.2" cy="139.5" r="2.5" fill="#557f2c"/><circle cx="614.2" cy="140.0" r="3.3" fill="#a8c0cc"/><circle cx="642.3" cy="140.3" r="2.6" fill="#ccd890"/><circle cx="627.0" cy="138.0" r="3.5" fill="#88a84e"/><circle cx="616.1" cy="145.4" r="3.1" fill="#b4c870"/><circle cx="607.0" cy="148.0" r="2.7" fill="#557f2c"/><circle cx="625.8" cy="142.1" r="2.4" fill="#6a9636"/>
<circle cx="552.3" cy="171.8" r="3.3" fill="#6a9636"/><circle cx="570.0" cy="161.5" r="2.1" fill="#6a9636"/><circle cx="560.3" cy="163.0" r="3.0" fill="#557f2c"/><circle cx="568.8" cy="170.4" r="3.0" fill="#6a9636"/><circle cx="544.0" cy="161.5" r="2.5" fill="#6a9636"/><circle cx="547.2" cy="166.0" r="2.3" fill="#88a84e"/><circle cx="540.5" cy="180.6" r="2.1" fill="#557f2c"/><circle cx="557.8" cy="161.1" r="2.7" fill="#90b050"/><circle cx="557.5" cy="173.9" r="2.5" fill="#a8c0cc"/><circle cx="543.2" cy="159.4" r="3.2" fill="#6a9636"/><circle cx="544.9" cy="158.9" r="3.0" fill="#90b050"/><circle cx="543.9" cy="170.0" r="2.6" fill="#88a84e"/><circle cx="569.8" cy="159.5" r="2.5" fill="#ccd890"/><circle cx="546.2" cy="173.0" r="2.3" fill="#90b050"/><circle cx="558.0" cy="169.9" r="2.3" fill="#557f2c"/><circle cx="572.4" cy="160.0" r="2.9" fill="#557f2c"/><circle cx="553.9" cy="161.6" r="2.1" fill="#557f2c"/><circle cx="539.8" cy="184.7" r="2.1" fill="#a8c0cc"/><circle cx="569.1" cy="160.0" r="3.3" fill="#b4c870"/><circle cx="549.5" cy="167.0" r="2.2" fill="#ccd890"/><circle cx="546.2" cy="175.9" r="2.7" fill="#90b050"/><circle cx="561.1" cy="161.3" r="3.1" fill="#90b050"/>
<circle cx="572.1" cy="142.2" r="3.4" fill="#88a84e"/><circle cx="574.6" cy="133.3" r="2.4" fill="#b4c870"/><circle cx="563.0" cy="134.0" r="3.4" fill="#b4c870"/><circle cx="537.9" cy="134.6" r="2.9" fill="#ccd890"/><circle cx="542.1" cy="126.9" r="2.7" fill="#90b050"/><circle cx="569.8" cy="149.9" r="3.0" fill="#ccd890"/><circle cx="542.7" cy="145.7" r="3.2" fill="#557f2c"/><circle cx="549.4" cy="133.6" r="2.8" fill="#b4c870"/><circle cx="561.8" cy="139.4" r="3.4" fill="#88a84e"/><circle cx="558.0" cy="139.5" r="2.5" fill="#b4c870"/><circle cx="559.6" cy="141.9" r="2.9" fill="#b4c870"/><circle cx="541.3" cy="135.2" r="2.5" fill="#557f2c"/><circle cx="572.1" cy="146.7" r="3.6" fill="#90b050"/><circle cx="573.1" cy="127.5" r="2.0" fill="#6a9636"/><circle cx="548.4" cy="144.1" r="3.2" fill="#a8c0cc"/><circle cx="559.4" cy="137.1" r="2.8" fill="#b4c870"/><circle cx="558.6" cy="137.8" r="2.1" fill="#557f2c"/><circle cx="564.8" cy="134.7" r="3.5" fill="#b4c870"/><circle cx="564.9" cy="137.2" r="2.8" fill="#557f2c"/><circle cx="563.9" cy="139.3" r="2.2" fill="#a8c0cc"/><circle cx="545.3" cy="135.7" r="3.0" fill="#ccd890"/><circle cx="577.9" cy="141.7" r="3.1" fill="#557f2c"/>
<circle cx="364.0" cy="275.4" r="3.3" fill="#6a9636"/><circle cx="380.2" cy="284.0" r="3.0" fill="#6a9636"/><circle cx="372.3" cy="272.3" r="3.4" fill="#a8c0cc"/><circle cx="376.1" cy="290.5" r="2.8" fill="#90b050"/><circle cx="392.4" cy="283.9" r="2.3" fill="#b4c870"/><circle cx="384.4" cy="291.6" r="2.2" fill="#a8c0cc"/><circle cx="383.2" cy="274.2" r="2.7" fill="#88a84e"/><circle cx="391.9" cy="274.4" r="3.1" fill="#557f2c"/><circle cx="381.8" cy="284.9" r="2.9" fill="#6a9636"/><circle cx="386.9" cy="277.7" r="2.3" fill="#90b050"/><circle cx="391.5" cy="270.6" r="2.8" fill="#a8c0cc"/><circle cx="366.1" cy="274.4" r="2.7" fill="#90b050"/><circle cx="364.5" cy="284.0" r="2.0" fill="#6a9636"/><circle cx="362.5" cy="286.5" r="2.8" fill="#a8c0cc"/><circle cx="379.3" cy="271.0" r="2.0" fill="#88a84e"/><circle cx="390.5" cy="284.9" r="2.2" fill="#557f2c"/><circle cx="369.6" cy="279.0" r="2.2" fill="#88a84e"/><circle cx="396.0" cy="282.6" r="2.1" fill="#a8c0cc"/><circle cx="367.8" cy="278.3" r="3.4" fill="#90b050"/><circle cx="383.4" cy="279.5" r="2.7" fill="#6a9636"/><circle cx="384.8" cy="280.4" r="3.4" fill="#a8c0cc"/><circle cx="372.5" cy="281.1" r="3.3" fill="#ccd890"/>
<circle cx="705.9" cy="422.6" r="2.4" fill="#6a9636"/><circle cx="695.3" cy="417.9" r="2.9" fill="#88a84e"/><circle cx="694.5" cy="412.5" r="3.3" fill="#6a9636"/><circle cx="691.9" cy="426.2" r="2.3" fill="#90b050"/><circle cx="699.1" cy="430.3" r="2.9" fill="#b4c870"/><circle cx="685.6" cy="423.5" r="3.4" fill="#a8c0cc"/><circle cx="691.2" cy="412.4" r="3.3" fill="#b4c870"/><circle cx="690.7" cy="409.1" r="2.6" fill="#90b050"/><circle cx="697.7" cy="415.3" r="3.1" fill="#557f2c"/><circle cx="695.6" cy="424.7" r="2.4" fill="#90b050"/><circle cx="686.7" cy="424.9" r="2.2" fill="#ccd890"/><circle cx="699.9" cy="424.9" r="3.3" fill="#ccd890"/><circle cx="689.3" cy="418.9" r="2.6" fill="#b4c870"/><circle cx="718.3" cy="414.8" r="2.5" fill="#90b050"/><circle cx="700.1" cy="421.2" r="2.2" fill="#88a84e"/><circle cx="711.2" cy="425.2" r="3.0" fill="#557f2c"/><circle cx="699.9" cy="425.2" r="3.0" fill="#b4c870"/><circle cx="689.0" cy="421.3" r="3.2" fill="#ccd890"/><circle cx="709.6" cy="424.3" r="3.2" fill="#88a84e"/><circle cx="697.5" cy="425.0" r="3.1" fill="#88a84e"/><circle cx="689.3" cy="430.7" r="2.3" fill="#88a84e"/><circle cx="713.6" cy="414.3" r="2.3" fill="#557f2c"/>
</g>
<path fill="#1426cc" d="M38.6,422.5 L45.5,421.0 L55.0,418.9 L66.4,416.5 L78.6,413.6 L90.9,410.5 L102.3,407.1 L112.9,403.4 L123.4,399.3 L133.7,394.9 L143.8,390.4 L153.6,385.9 L163.0,381.6 L172.1,377.4 L180.9,373.1 L189.5,368.9 L197.7,364.7 L205.7,360.4 L213.4,356.2 L220.8,352.0 L227.7,347.9 L234.4,343.7 L240.8,339.5 L247.3,335.2 L254.0,330.7 L260.8,325.7 L267.6,320.4 L274.2,315.1 L280.8,309.9 L287.3,305.0 L293.6,300.7 L300.0,296.9 L306.5,293.3 L313.0,289.9 L319.5,286.8 L326.0,283.9 L332.5,281.1 L339.4,278.5 L346.9,275.9 L354.4,273.5 L361.5,271.4 L367.5,269.6 L371.9,268.2 L368.1,255.8 L363.8,257.1 L357.8,258.9 L350.6,261.0 L342.8,263.4 L334.9,266.1 L327.5,268.9 L320.7,271.7 L313.9,274.7 L307.0,277.9 L300.2,281.4 L293.3,285.2 L286.4,289.3 L279.4,293.9 L272.5,299.0 L265.8,304.3 L259.1,309.6 L252.5,314.7 L246.0,319.3 L239.6,323.7 L233.2,327.9 L226.9,331.9 L220.4,335.8 L213.7,339.8 L206.6,343.8 L199.0,347.9 L191.2,352.0 L183.0,356.1 L174.6,360.2 L166.0,364.3 L157.0,368.4 L147.6,372.6 L137.9,377.0 L127.9,381.4 L117.8,385.6 L107.7,389.4 L97.7,392.9 L87.0,396.0 L75.1,399.0 L63.1,401.7 L51.9,404.0 L42.3,406.0 L35.4,407.5Z"/>
<path fill="#1d35ee" d="M38.1,420.1 L45.0,418.6 L54.5,416.5 L65.9,414.1 L78.1,411.3 L90.3,408.2 L101.5,404.8 L112.0,401.2 L122.5,397.1 L132.8,392.7 L142.9,388.3 L152.7,383.8 L162.1,379.5 L171.1,375.3 L179.9,371.1 L188.4,366.9 L196.7,362.6 L204.6,358.4 L212.3,354.2 L219.6,350.0 L226.5,345.9 L233.2,341.8 L239.6,337.7 L246.1,333.4 L252.7,328.9 L259.5,323.9 L266.2,318.7 L272.9,313.3 L279.5,308.1 L286.0,303.2 L292.5,298.9 L299.0,295.0 L305.5,291.4 L312.0,288.0 L318.6,284.9 L325.1,282.0 L331.7,279.2 L338.6,276.5 L346.2,273.9 L353.8,271.5 L360.9,269.4 L366.9,267.6 L371.3,266.2 L368.3,256.3 L363.9,257.6 L357.9,259.4 L350.7,261.5 L342.9,263.9 L335.1,266.6 L327.7,269.3 L320.9,272.2 L314.1,275.2 L307.3,278.4 L300.4,281.9 L293.6,285.6 L286.7,289.7 L279.7,294.4 L272.9,299.5 L266.1,304.7 L259.4,310.0 L252.9,315.1 L246.3,319.8 L239.9,324.1 L233.5,328.3 L227.2,332.4 L220.7,336.3 L214.0,340.3 L206.8,344.3 L199.3,348.4 L191.4,352.5 L183.3,356.6 L174.9,360.7 L166.2,364.8 L157.2,368.9 L147.8,373.2 L138.1,377.6 L128.1,381.9 L118.0,386.1 L107.9,390.0 L97.9,393.5 L87.1,396.6 L75.3,399.6 L63.2,402.3 L52.0,404.6 L42.4,406.6 L35.5,408.1Z"/>
<path fill="#3c5aff" d="M36.9,414.4 L43.8,412.9 L53.3,410.9 L64.6,408.5 L76.7,405.7 L88.8,402.7 L99.8,399.4 L110.1,395.9 L120.4,391.9 L130.6,387.6 L140.6,383.2 L150.4,378.8 L159.8,374.5 L168.8,370.3 L177.5,366.1 L186.0,362.0 L194.2,357.8 L202.1,353.7 L209.7,349.5 L217.0,345.4 L223.8,341.4 L230.3,337.3 L236.7,333.2 L243.1,329.0 L249.7,324.5 L256.3,319.7 L263.0,314.6 L269.7,309.3 L276.3,304.0 L283.0,299.0 L289.7,294.5 L296.4,290.5 L303.1,286.9 L309.8,283.5 L316.4,280.3 L323.1,277.3 L329.8,274.5 L337.0,271.8 L344.7,269.2 L352.3,266.7 L359.5,264.6 L365.5,262.8 L369.8,261.5 L368.8,258.0 L364.5,259.3 L358.4,261.1 L351.3,263.2 L343.5,265.7 L335.7,268.3 L328.4,271.1 L321.6,273.9 L314.9,276.9 L308.1,280.1 L301.3,283.5 L294.5,287.3 L287.7,291.3 L280.8,295.9 L274.0,301.0 L267.3,306.3 L260.6,311.5 L254.0,316.6 L247.5,321.4 L241.0,325.8 L234.6,330.0 L228.2,334.0 L221.8,338.0 L215.0,342.0 L207.8,346.0 L200.2,350.2 L192.3,354.3 L184.2,358.4 L175.8,362.5 L167.1,366.6 L158.1,370.8 L148.7,375.0 L138.9,379.4 L129.0,383.8 L118.8,388.0 L108.6,392.0 L98.5,395.5 L87.7,398.6 L75.8,401.6 L63.7,404.3 L52.4,406.7 L42.9,408.7 L35.9,410.2Z"/>
<path fill="#1426cc" d="M419.1,425.8 L420.5,422.2 L422.4,417.3 L424.6,411.4 L427.0,405.1 L429.5,398.8 L431.9,392.8 L434.1,387.0 L436.4,381.2 L438.8,375.4 L441.2,369.6 L443.7,363.9 L446.4,358.2 L449.2,352.6 L452.4,347.1 L455.7,341.4 L459.1,335.6 L462.6,329.5 L466.0,323.2 L469.6,316.2 L473.4,308.6 L477.2,300.8 L480.7,293.5 L483.7,287.3 L485.8,282.9 L474.2,277.1 L472.0,281.5 L468.9,287.7 L465.3,294.9 L461.4,302.6 L457.5,310.1 L454.0,316.8 L450.6,322.7 L447.2,328.5 L443.7,334.2 L440.2,340.0 L436.8,345.8 L433.6,351.8 L430.7,357.8 L427.9,363.9 L425.4,369.8 L422.9,375.7 L420.5,381.5 L418.1,387.2 L415.6,393.2 L413.1,399.6 L410.5,405.9 L408.2,411.8 L406.3,416.7 L404.9,420.2Z"/>
<path fill="#1d35ee" d="M416.9,424.9 L418.2,421.3 L420.1,416.4 L422.3,410.6 L424.8,404.2 L427.3,397.9 L429.7,391.9 L432.0,386.2 L434.3,380.4 L436.6,374.5 L439.1,368.7 L441.6,362.9 L444.3,357.2 L447.3,351.5 L450.4,345.9 L453.8,340.2 L457.2,334.4 L460.7,328.4 L464.1,322.2 L467.7,315.3 L471.5,307.6 L475.3,299.8 L478.8,292.5 L481.8,286.4 L484.0,282.0 L474.6,277.4 L472.4,281.8 L469.4,287.9 L465.8,295.1 L461.9,302.8 L458.0,310.3 L454.5,317.0 L451.1,323.0 L447.7,328.8 L444.2,334.5 L440.7,340.3 L437.3,346.1 L434.1,352.1 L431.2,358.1 L428.5,364.1 L425.9,370.1 L423.4,375.9 L421.1,381.7 L418.7,387.4 L416.2,393.4 L413.6,399.8 L411.1,406.2 L408.8,412.0 L406.8,416.9 L405.4,420.4Z"/>
<path fill="#3c5aff" d="M411.4,422.8 L412.8,419.2 L414.7,414.3 L417.0,408.5 L419.5,402.2 L422.0,395.8 L424.5,389.8 L426.8,384.1 L429.1,378.3 L431.5,372.4 L434.0,366.5 L436.7,360.6 L439.5,354.7 L442.5,349.0 L445.8,343.2 L449.2,337.5 L452.7,331.8 L456.1,325.9 L459.5,319.7 L463.1,312.9 L466.9,305.3 L470.8,297.6 L474.3,290.3 L477.4,284.2 L479.5,279.8 L476.3,278.2 L474.1,282.6 L471.0,288.7 L467.4,295.9 L463.6,303.6 L459.7,311.2 L456.2,317.9 L452.8,323.9 L449.3,329.8 L445.9,335.5 L442.4,341.3 L439.1,347.0 L435.9,353.0 L433.0,358.9 L430.3,364.9 L427.8,370.8 L425.3,376.7 L423.0,382.5 L420.6,388.2 L418.1,394.2 L415.6,400.6 L413.1,406.9 L410.8,412.8 L408.8,417.7 L407.4,421.2Z"/>
<path fill="#1426cc" d="M245.1,145.0 L246.6,144.1 L248.2,142.9 L249.8,141.8 L251.7,140.7 L254.1,139.7 L257.4,138.7 L262.0,137.8 L267.6,136.7 L273.9,135.7 L280.5,134.9 L287.0,134.3 L293.2,133.9 L299.2,133.8 L305.1,133.9 L311.1,134.1 L317.0,134.6 L323.0,135.3 L328.9,136.3 L334.9,137.5 L340.9,139.1 L347.0,140.8 L353.1,142.8 L359.3,144.9 L365.4,147.2 L371.4,149.6 L377.5,152.3 L383.6,155.1 L389.7,158.1 L395.9,161.2 L402.0,164.3 L408.2,167.4 L414.4,170.7 L420.5,174.0 L426.8,177.4 L433.0,180.8 L439.2,184.2 L445.4,187.5 L451.5,190.7 L457.5,193.9 L463.6,197.1 L469.7,200.5 L476.0,204.1 L482.6,208.0 L489.3,212.1 L496.2,216.4 L503.2,220.8 L510.1,225.1 L517.1,229.1 L524.4,233.2 L532.1,237.3 L539.9,241.3 L547.0,245.0 L553.0,248.0 L557.3,250.2 L562.7,239.8 L558.4,237.5 L552.4,234.5 L545.3,230.8 L537.6,226.9 L530.0,222.8 L522.9,218.9 L516.2,214.9 L509.4,210.8 L502.4,206.4 L495.5,202.1 L488.7,197.9 L482.0,193.9 L475.5,190.2 L469.2,186.8 L463.0,183.5 L457.0,180.3 L450.9,177.1 L444.8,173.8 L438.6,170.5 L432.4,167.1 L426.2,163.6 L419.9,160.3 L413.6,156.9 L407.4,153.7 L401.1,150.6 L394.9,147.5 L388.6,144.5 L382.3,141.5 L376.0,138.8 L369.6,136.2 L363.3,133.8 L356.9,131.6 L350.5,129.5 L344.0,127.7 L337.5,126.0 L331.1,124.7 L324.6,123.7 L318.2,122.9 L311.8,122.3 L305.5,122.1 L299.1,122.0 L292.8,122.1 L286.1,122.5 L279.2,123.2 L272.2,124.1 L265.7,125.1 L259.7,126.2 L254.6,127.3 L250.2,128.6 L246.5,130.1 L243.6,131.8 L241.4,133.3 L239.9,134.3 L238.9,135.0Z"/>
<path fill="#1d35ee" d="M244.1,143.4 L245.5,142.5 L247.1,141.4 L248.8,140.2 L250.9,139.0 L253.5,137.9 L257.0,136.9 L261.6,135.9 L267.3,134.9 L273.6,133.9 L280.3,133.0 L286.9,132.4 L293.2,132.0 L299.2,131.9 L305.2,132.0 L311.2,132.2 L317.2,132.7 L323.2,133.5 L329.3,134.4 L335.3,135.7 L341.4,137.2 L347.6,139.0 L353.7,141.0 L359.9,143.2 L366.1,145.4 L372.2,147.9 L378.3,150.6 L384.4,153.4 L390.5,156.4 L396.7,159.5 L402.9,162.6 L409.1,165.7 L415.2,169.0 L421.4,172.4 L427.7,175.8 L433.9,179.2 L440.1,182.5 L446.3,185.8 L452.3,189.0 L458.4,192.2 L464.5,195.5 L470.7,198.9 L477.0,202.5 L483.5,206.4 L490.3,210.5 L497.2,214.8 L504.2,219.2 L511.1,223.4 L518.0,227.5 L525.3,231.5 L533.0,235.6 L540.7,239.6 L547.8,243.3 L553.8,246.3 L558.2,248.6 L562.5,240.2 L558.1,237.9 L552.1,234.9 L545.1,231.2 L537.4,227.3 L529.8,223.2 L522.7,219.3 L516.0,215.3 L509.1,211.2 L502.2,206.8 L495.3,202.5 L488.4,198.3 L481.7,194.3 L475.2,190.6 L469.0,187.2 L462.8,183.9 L456.7,180.7 L450.7,177.5 L444.6,174.2 L438.4,170.9 L432.2,167.5 L426.0,164.1 L419.7,160.7 L413.4,157.4 L407.2,154.2 L400.9,151.0 L394.7,147.9 L388.4,144.9 L382.2,142.0 L375.8,139.2 L369.5,136.6 L363.1,134.3 L356.7,132.0 L350.3,130.0 L343.9,128.1 L337.4,126.5 L331.0,125.2 L324.6,124.1 L318.2,123.3 L311.8,122.8 L305.5,122.5 L299.1,122.5 L292.8,122.6 L286.1,123.0 L279.2,123.6 L272.3,124.5 L265.7,125.6 L259.8,126.6 L254.7,127.7 L250.4,129.0 L246.7,130.6 L243.8,132.2 L241.7,133.7 L240.2,134.7 L239.1,135.4Z"/>
<path fill="#3c5aff" d="M241.8,139.6 L243.0,138.8 L244.5,137.7 L246.4,136.4 L248.9,135.0 L252.0,133.7 L255.9,132.5 L260.7,131.5 L266.6,130.4 L273.0,129.4 L279.8,128.6 L286.5,127.9 L293.0,127.5 L299.2,127.4 L305.3,127.5 L311.5,127.8 L317.7,128.3 L323.9,129.0 L330.1,130.0 L336.3,131.3 L342.6,132.9 L348.9,134.7 L355.2,136.7 L361.4,138.9 L367.7,141.3 L373.9,143.8 L380.1,146.5 L386.3,149.4 L392.5,152.4 L398.7,155.5 L404.9,158.6 L411.1,161.8 L417.4,165.1 L423.6,168.4 L429.8,171.8 L436.0,175.2 L442.2,178.6 L448.4,181.9 L454.4,185.1 L460.5,188.3 L466.6,191.5 L472.8,195.0 L479.2,198.6 L485.9,202.5 L492.7,206.7 L499.6,211.0 L506.5,215.4 L513.4,219.6 L520.2,223.6 L527.4,227.6 L535.1,231.7 L542.8,235.6 L549.9,239.3 L555.9,242.3 L560.2,244.6 L561.7,241.6 L557.4,239.4 L551.4,236.3 L544.3,232.7 L536.6,228.7 L529.0,224.7 L521.9,220.7 L515.1,216.8 L508.2,212.6 L501.3,208.2 L494.4,203.9 L487.6,199.7 L480.9,195.7 L474.4,192.1 L468.2,188.6 L462.0,185.4 L456.0,182.1 L449.9,178.9 L443.8,175.7 L437.6,172.3 L431.4,168.9 L425.2,165.5 L418.9,162.1 L412.7,158.8 L406.4,155.6 L400.2,152.5 L394.0,149.4 L387.7,146.4 L381.5,143.5 L375.2,140.7 L368.9,138.2 L362.5,135.8 L356.2,133.6 L349.8,131.6 L343.5,129.7 L337.1,128.1 L330.7,126.8 L324.3,125.8 L318.0,125.0 L311.7,124.5 L305.4,124.2 L299.1,124.1 L292.9,124.2 L286.3,124.6 L279.4,125.3 L272.5,126.2 L266.0,127.2 L260.1,128.3 L255.1,129.3 L250.9,130.6 L247.5,132.1 L244.7,133.6 L242.6,135.0 L241.1,136.1 L240.0,136.8Z"/>
<path fill="#1426cc" d="M476.2,201.9 L477.5,197.8 L479.1,192.0 L481.0,185.3 L483.2,178.4 L485.5,172.0 L487.7,166.9 L490.1,162.7 L492.9,158.8 L495.9,155.0 L498.9,151.6 L502.0,148.3 L504.7,145.3 L506.9,142.8 L508.6,141.0 L510.1,139.6 L511.7,138.2 L513.6,136.8 L515.9,134.9 L518.7,132.6 L521.3,130.3 L523.9,128.1 L526.6,126.1 L529.6,124.3 L533.1,122.9 L537.4,121.6 L542.5,120.5 L548.1,119.5 L554.0,118.8 L560.0,118.3 L566.0,118.2 L572.1,118.4 L578.5,118.9 L585.1,119.7 L591.9,120.8 L598.5,121.9 L604.9,123.0 L611.1,124.1 L617.2,125.3 L623.1,126.6 L628.8,127.9 L634.2,129.3 L639.3,130.7 L644.0,132.2 L648.5,133.9 L652.8,135.6 L656.7,137.3 L660.3,138.9 L663.3,140.3 L665.7,141.5 L667.5,142.7 L668.9,143.8 L670.1,144.8 L671.3,145.8 L672.3,146.6 L679.7,137.4 L678.9,136.7 L677.8,135.8 L676.2,134.5 L674.2,132.9 L671.6,131.3 L668.7,129.7 L665.3,128.1 L661.5,126.4 L657.3,124.6 L652.8,122.7 L647.9,120.9 L642.7,119.3 L637.4,117.7 L631.7,116.2 L625.8,114.8 L619.6,113.5 L613.4,112.2 L607.1,111.0 L600.6,109.9 L593.8,108.7 L586.9,107.6 L579.8,106.7 L572.8,106.1 L566.0,105.8 L559.4,106.0 L552.8,106.5 L546.3,107.2 L540.1,108.3 L534.3,109.5 L528.9,111.1 L524.1,113.1 L519.8,115.6 L516.2,118.2 L513.1,120.8 L510.5,123.1 L508.1,125.1 L505.8,126.8 L503.7,128.5 L501.7,130.2 L499.7,132.0 L497.6,134.2 L495.3,136.7 L492.6,139.7 L489.5,143.0 L486.1,146.8 L482.7,151.1 L479.3,155.8 L476.3,161.1 L473.5,167.3 L471.0,174.3 L468.7,181.6 L466.7,188.4 L465.0,194.1 L463.8,198.1Z"/>
<path fill="#1d35ee" d="M474.2,201.3 L475.5,197.2 L477.1,191.4 L479.1,184.7 L481.3,177.8 L483.6,171.3 L485.9,166.0 L488.4,161.6 L491.2,157.5 L494.3,153.7 L497.4,150.2 L500.5,146.9 L503.2,143.9 L505.4,141.4 L507.2,139.6 L508.8,138.1 L510.4,136.7 L512.3,135.2 L514.7,133.3 L517.4,131.1 L520.0,128.8 L522.7,126.5 L525.5,124.4 L528.7,122.5 L532.4,121.0 L536.9,119.7 L542.1,118.5 L547.8,117.6 L553.8,116.8 L559.9,116.4 L566.0,116.2 L572.2,116.4 L578.7,117.0 L585.4,117.8 L592.2,118.8 L598.9,120.0 L605.3,121.1 L611.5,122.2 L617.6,123.4 L623.5,124.7 L629.3,126.0 L634.7,127.5 L639.8,128.9 L644.6,130.4 L649.2,132.1 L653.5,133.8 L657.5,135.5 L661.1,137.1 L664.2,138.6 L666.6,139.9 L668.5,141.1 L670.1,142.3 L671.4,143.4 L672.5,144.4 L673.5,145.1 L679.4,137.8 L678.6,137.1 L677.5,136.2 L675.9,134.9 L673.9,133.3 L671.4,131.7 L668.5,130.1 L665.1,128.5 L661.4,126.8 L657.2,125.0 L652.6,123.2 L647.7,121.4 L642.6,119.7 L637.3,118.2 L631.6,116.7 L625.7,115.3 L619.5,113.9 L613.3,112.7 L607.0,111.5 L600.5,110.4 L593.7,109.2 L586.8,108.1 L579.8,107.2 L572.8,106.6 L566.0,106.3 L559.4,106.5 L552.8,107.0 L546.4,107.7 L540.2,108.8 L534.4,110.0 L529.1,111.6 L524.3,113.6 L520.1,116.0 L516.5,118.6 L513.4,121.1 L510.8,123.5 L508.4,125.5 L506.1,127.2 L504.0,128.9 L502.1,130.5 L500.1,132.4 L498.0,134.5 L495.7,137.1 L493.0,140.0 L489.9,143.4 L486.5,147.2 L483.1,151.4 L479.8,156.1 L476.7,161.4 L474.0,167.5 L471.5,174.5 L469.2,181.7 L467.2,188.5 L465.5,194.2 L464.3,198.3Z"/>
<path fill="#3c5aff" d="M469.5,199.8 L470.7,195.8 L472.4,190.0 L474.4,183.3 L476.6,176.2 L479.0,169.5 L481.5,163.8 L484.3,159.0 L487.4,154.6 L490.6,150.6 L493.8,147.0 L496.9,143.6 L499.6,140.7 L501.9,138.1 L503.8,136.2 L505.6,134.5 L507.4,133.0 L509.4,131.4 L511.7,129.6 L514.2,127.5 L516.9,125.1 L519.8,122.7 L522.9,120.4 L526.6,118.3 L530.8,116.5 L535.7,115.1 L541.2,113.9 L547.1,112.9 L553.3,112.1 L559.7,111.7 L566.0,111.5 L572.5,111.7 L579.2,112.3 L586.1,113.2 L592.9,114.3 L599.6,115.4 L606.1,116.5 L612.3,117.7 L618.5,118.9 L624.5,120.2 L630.4,121.6 L635.9,123.1 L641.1,124.5 L646.1,126.1 L650.8,127.9 L655.2,129.6 L659.3,131.4 L663.0,133.1 L666.2,134.6 L668.9,136.0 L671.1,137.4 L672.9,138.8 L674.3,139.9 L675.4,140.9 L676.3,141.6 L678.3,139.0 L677.5,138.4 L676.4,137.4 L674.9,136.2 L673.0,134.7 L670.6,133.1 L667.7,131.6 L664.4,130.0 L660.7,128.3 L656.5,126.5 L652.0,124.7 L647.2,123.0 L642.1,121.3 L636.8,119.8 L631.2,118.3 L625.3,116.9 L619.2,115.6 L613.0,114.3 L606.7,113.2 L600.2,112.0 L593.5,110.9 L586.5,109.8 L579.6,108.9 L572.7,108.3 L566.0,108.1 L559.5,108.2 L553.0,108.7 L546.6,109.4 L540.5,110.5 L534.9,111.7 L529.7,113.2 L525.1,115.1 L521.0,117.5 L517.6,120.0 L514.6,122.5 L512.0,124.8 L509.5,126.9 L507.2,128.6 L505.1,130.3 L503.2,131.9 L501.3,133.6 L499.3,135.7 L497.0,138.3 L494.3,141.2 L491.2,144.6 L487.9,148.3 L484.5,152.5 L481.3,157.1 L478.3,162.2 L475.7,168.2 L473.2,175.1 L470.9,182.2 L468.9,189.0 L467.3,194.8 L466.0,198.8Z"/>
<path fill="#1426cc" d="M646.7,130.3 L646.9,135.1 L647.2,141.7 L647.6,149.6 L647.9,158.2 L648.2,166.9 L648.5,175.2 L648.7,183.2 L648.8,191.6 L649.0,200.1 L649.1,208.6 L649.2,217.0 L649.3,225.1 L649.4,233.4 L649.6,242.2 L649.7,250.8 L649.9,258.7 L650.0,265.3 L650.1,270.1 L661.9,269.9 L661.8,265.0 L661.6,258.4 L661.4,250.5 L661.2,241.9 L660.9,233.2 L660.7,224.9 L660.5,216.8 L660.3,208.4 L660.2,199.9 L660.0,191.4 L659.8,183.0 L659.5,174.8 L659.2,166.5 L658.8,157.7 L658.3,149.1 L657.9,141.2 L657.6,134.6 L657.3,129.7Z"/>
<path fill="#1d35ee" d="M648.4,130.2 L648.6,135.0 L648.9,141.7 L649.3,149.5 L649.6,158.1 L650.0,166.8 L650.3,175.1 L650.5,183.2 L650.6,191.6 L650.8,200.1 L650.9,208.6 L651.0,217.0 L651.1,225.1 L651.3,233.4 L651.4,242.1 L651.6,250.7 L651.8,258.6 L651.9,265.3 L652.0,270.1 L661.4,269.9 L661.3,265.0 L661.1,258.4 L660.9,250.5 L660.7,241.9 L660.5,233.2 L660.3,224.9 L660.1,216.8 L659.9,208.4 L659.7,199.9 L659.5,191.4 L659.3,183.0 L659.1,174.8 L658.7,166.5 L658.3,157.7 L657.9,149.1 L657.5,141.2 L657.1,134.6 L656.9,129.8Z"/>
<path fill="#3c5aff" d="M652.4,130.0 L652.7,134.8 L653.0,141.5 L653.4,149.4 L653.8,157.9 L654.1,166.7 L654.4,175.0 L654.7,183.1 L654.9,191.5 L655.0,200.0 L655.2,208.5 L655.3,216.9 L655.5,225.0 L655.6,233.3 L655.8,242.0 L656.0,250.6 L656.2,258.5 L656.4,265.2 L656.5,270.0 L659.8,269.9 L659.7,265.1 L659.5,258.4 L659.3,250.5 L659.1,242.0 L658.9,233.2 L658.7,224.9 L658.5,216.8 L658.3,208.5 L658.1,199.9 L658.0,191.4 L657.8,183.0 L657.5,174.9 L657.2,166.6 L656.8,157.8 L656.4,149.2 L656.0,141.3 L655.6,134.7 L655.4,129.8Z"/>
<path fill="#1426cc" d="M305.8,220.9 L306.3,218.1 L306.8,214.3 L307.4,210.0 L308.2,205.4 L309.2,201.0 L310.5,197.1 L312.2,193.1 L314.0,189.1 L316.1,185.1 L318.4,181.3 L321.1,177.6 L324.2,174.2 L327.9,170.8 L332.4,167.3 L337.3,163.9 L342.4,160.7 L347.6,157.8 L352.4,155.4 L357.3,153.5 L362.7,151.8 L368.2,150.5 L373.4,149.4 L377.9,148.5 L381.3,147.8 L378.7,136.2 L375.5,137.0 L371.0,137.8 L365.6,139.0 L359.6,140.5 L353.4,142.3 L347.6,144.6 L342.1,147.4 L336.4,150.5 L330.8,154.0 L325.4,157.8 L320.3,161.7 L315.8,165.8 L311.9,170.2 L308.6,174.7 L305.8,179.3 L303.4,183.9 L301.3,188.4 L299.5,192.9 L297.8,197.9 L296.6,203.1 L295.7,208.1 L295.1,212.7 L294.6,216.4 L294.2,219.1Z"/>
<path fill="#1d35ee" d="M304.0,220.6 L304.4,217.8 L304.9,214.1 L305.5,209.7 L306.3,205.1 L307.4,200.5 L308.8,196.4 L310.4,192.4 L312.3,188.2 L314.4,184.2 L316.8,180.2 L319.6,176.4 L322.8,172.8 L326.7,169.3 L331.3,165.8 L336.3,162.3 L341.5,159.0 L346.7,156.1 L351.6,153.7 L356.7,151.7 L362.2,150.0 L367.8,148.7 L373.0,147.6 L377.6,146.7 L380.9,145.9 L378.8,136.7 L375.6,137.4 L371.1,138.3 L365.7,139.5 L359.7,140.9 L353.6,142.8 L347.8,145.0 L342.3,147.8 L336.7,150.9 L331.1,154.4 L325.7,158.1 L320.6,162.1 L316.2,166.2 L312.3,170.5 L309.0,174.9 L306.2,179.5 L303.8,184.1 L301.8,188.6 L299.9,193.1 L298.3,198.0 L297.1,203.2 L296.2,208.2 L295.5,212.8 L295.1,216.5 L294.6,219.2Z"/>
<path fill="#3c5aff" d="M299.5,219.9 L300.0,217.2 L300.5,213.5 L301.1,209.0 L301.9,204.2 L303.1,199.3 L304.6,194.8 L306.3,190.6 L308.3,186.3 L310.5,182.0 L313.1,177.7 L316.2,173.6 L319.7,169.7 L323.8,165.9 L328.6,162.1 L333.8,158.5 L339.2,155.2 L344.6,152.2 L349.8,149.6 L355.2,147.4 L361.0,145.7 L366.8,144.3 L372.1,143.2 L376.6,142.3 L379.9,141.5 L379.2,138.3 L376.0,139.0 L371.5,139.9 L366.0,141.1 L360.1,142.5 L354.1,144.3 L348.5,146.6 L343.1,149.2 L337.5,152.3 L332.0,155.8 L326.7,159.5 L321.7,163.3 L317.3,167.3 L313.6,171.5 L310.4,175.9 L307.7,180.3 L305.3,184.8 L303.3,189.3 L301.5,193.7 L299.9,198.4 L298.7,203.5 L297.8,208.5 L297.2,213.0 L296.7,216.7 L296.3,219.4Z"/>
<path fill="#1426cc" d="M267.4,140.3 L271.7,142.5 L277.7,145.5 L284.8,149.1 L292.5,152.9 L300.2,156.8 L307.3,160.4 L313.9,163.6 L320.3,166.9 L326.7,170.1 L333.2,173.4 L340.0,176.8 L347.3,180.4 L355.0,184.3 L363.2,188.4 L371.6,192.7 L380.2,197.0 L388.8,201.3 L397.2,205.5 L405.6,209.7 L413.9,213.9 L422.2,218.1 L430.5,222.3 L438.9,226.4 L447.2,230.6 L455.5,234.9 L464.1,239.4 L472.7,244.0 L481.2,248.3 L489.6,252.4 L497.6,255.9 L505.6,259.0 L513.7,261.6 L521.4,263.8 L528.4,265.6 L534.1,267.1 L538.3,268.3 L541.7,255.7 L537.4,254.6 L531.6,253.1 L524.8,251.3 L517.4,249.2 L509.8,246.8 L502.4,244.1 L494.9,240.8 L486.9,236.9 L478.5,232.7 L470.0,228.2 L461.4,223.7 L452.8,219.4 L444.5,215.2 L436.1,211.1 L427.8,206.9 L419.4,202.8 L411.1,198.6 L402.8,194.5 L394.3,190.3 L385.7,186.0 L377.1,181.7 L368.7,177.5 L360.5,173.4 L352.7,169.6 L345.5,166.0 L338.6,162.6 L332.1,159.3 L325.7,156.1 L319.2,152.9 L312.7,149.6 L305.5,146.1 L297.8,142.3 L290.2,138.4 L283.0,134.9 L277.0,131.9 L272.6,129.7Z"/>
<path fill="#1d35ee" d="M268.2,138.6 L272.6,140.8 L278.6,143.8 L285.7,147.4 L293.4,151.2 L301.1,155.1 L308.2,158.6 L314.7,161.9 L321.1,165.1 L327.5,168.4 L334.1,171.6 L340.9,175.1 L348.2,178.7 L355.9,182.6 L364.1,186.7 L372.5,190.9 L381.1,195.2 L389.7,199.5 L398.1,203.8 L406.4,207.9 L414.8,212.1 L423.1,216.3 L431.4,220.5 L439.8,224.7 L448.1,228.8 L456.5,233.1 L465.0,237.6 L473.6,242.2 L482.1,246.5 L490.4,250.5 L498.4,254.0 L506.3,257.0 L514.3,259.6 L522.0,261.8 L528.9,263.6 L534.6,265.1 L538.8,266.3 L541.6,256.2 L537.3,255.1 L531.5,253.6 L524.7,251.8 L517.3,249.7 L509.6,247.3 L502.2,244.5 L494.7,241.2 L486.7,237.4 L478.3,233.1 L469.7,228.7 L461.1,224.2 L452.6,219.8 L444.3,215.7 L435.9,211.5 L427.6,207.4 L419.2,203.2 L410.9,199.1 L402.5,194.9 L394.1,190.7 L385.5,186.4 L376.9,182.1 L368.4,177.9 L360.3,173.9 L352.5,170.0 L345.2,166.4 L338.4,163.0 L331.9,159.7 L325.4,156.5 L319.0,153.3 L312.5,150.1 L305.3,146.5 L297.6,142.7 L289.9,138.9 L282.8,135.3 L276.8,132.3 L272.4,130.1Z"/>
<path fill="#3c5aff" d="M270.2,134.6 L274.6,136.8 L280.6,139.8 L287.7,143.3 L295.4,147.2 L303.1,151.0 L310.2,154.6 L316.8,157.8 L323.2,161.1 L329.6,164.3 L336.1,167.5 L343.0,170.9 L350.2,174.6 L358.0,178.4 L366.1,182.5 L374.6,186.7 L383.2,191.0 L391.8,195.3 L400.2,199.6 L408.6,203.7 L416.9,207.9 L425.2,212.1 L433.6,216.2 L441.9,220.4 L450.2,224.6 L458.7,228.9 L467.3,233.4 L475.9,237.9 L484.3,242.2 L492.5,246.1 L500.2,249.5 L507.9,252.4 L515.7,254.9 L523.3,257.1 L530.1,258.9 L535.9,260.3 L540.1,261.5 L541.1,258.0 L536.8,256.8 L531.0,255.4 L524.2,253.6 L516.8,251.5 L509.1,249.0 L501.5,246.2 L494.0,242.9 L485.9,239.0 L477.5,234.7 L468.9,230.2 L460.3,225.7 L451.8,221.4 L443.5,217.2 L435.1,213.1 L426.8,208.9 L418.4,204.8 L410.1,200.6 L401.8,196.5 L393.3,192.2 L384.7,188.0 L376.1,183.7 L367.7,179.5 L359.5,175.4 L351.7,171.5 L344.5,167.9 L337.7,164.5 L331.1,161.2 L324.7,158.0 L318.3,154.8 L311.7,151.6 L304.6,148.0 L296.9,144.2 L289.2,140.4 L282.1,136.8 L276.0,133.8 L271.7,131.6Z"/>
<path fill="#1426cc" d="M558.9,250.8 L562.0,251.4 L566.1,252.3 L571.3,253.3 L577.2,254.3 L583.7,255.3 L590.6,255.9 L598.1,256.2 L606.2,256.3 L614.9,256.3 L623.7,256.2 L632.6,256.1 L641.1,255.9 L649.8,255.7 L658.6,255.3 L667.5,255.0 L676.1,254.6 L684.1,254.2 L691.2,253.9 L697.7,253.7 L703.8,253.5 L709.3,253.3 L714.1,253.1 L718.2,253.0 L721.2,252.9 L720.8,241.1 L717.8,241.2 L713.8,241.3 L708.9,241.5 L703.4,241.7 L697.3,241.9 L690.8,242.1 L683.6,242.4 L675.5,242.8 L667.0,243.2 L658.2,243.5 L649.4,243.9 L640.9,244.1 L632.3,244.3 L623.5,244.4 L614.8,244.5 L606.3,244.5 L598.4,244.4 L591.4,244.1 L585.0,243.5 L579.0,242.7 L573.5,241.7 L568.5,240.7 L564.3,239.8 L561.1,239.2Z"/>
<path fill="#1d35ee" d="M559.2,248.9 L562.4,249.5 L566.5,250.4 L571.6,251.4 L577.5,252.5 L583.9,253.4 L590.7,254.0 L598.1,254.3 L606.2,254.5 L614.8,254.4 L623.7,254.3 L632.5,254.2 L641.1,254.0 L649.7,253.8 L658.6,253.5 L667.4,253.1 L676.0,252.7 L684.0,252.3 L691.2,252.0 L697.6,251.8 L703.7,251.6 L709.3,251.4 L714.1,251.2 L718.1,251.1 L721.1,251.0 L720.8,241.6 L717.8,241.7 L713.8,241.8 L709.0,241.9 L703.4,242.1 L697.3,242.3 L690.8,242.6 L683.6,242.9 L675.6,243.2 L667.0,243.6 L658.2,244.0 L649.4,244.3 L640.9,244.6 L632.3,244.7 L623.5,244.9 L614.8,245.0 L606.3,245.0 L598.4,244.9 L591.4,244.6 L585.0,244.0 L579.0,243.2 L573.4,242.2 L568.4,241.2 L564.2,240.3 L561.0,239.7Z"/>
<path fill="#3c5aff" d="M560.1,244.5 L563.2,245.1 L567.4,246.0 L572.5,247.0 L578.2,248.1 L584.4,248.9 L591.0,249.5 L598.2,249.8 L606.3,250.0 L614.8,250.0 L623.6,249.9 L632.4,249.7 L641.0,249.5 L649.5,249.3 L658.4,249.0 L667.2,248.6 L675.8,248.2 L683.8,247.8 L691.0,247.5 L697.5,247.3 L703.6,247.1 L709.1,246.9 L713.9,246.8 L718.0,246.6 L721.0,246.5 L720.9,243.2 L717.8,243.3 L713.8,243.4 L709.0,243.6 L703.5,243.8 L697.4,244.0 L690.9,244.2 L683.7,244.5 L675.6,244.9 L667.1,245.3 L658.3,245.7 L649.4,246.0 L640.9,246.2 L632.4,246.4 L623.6,246.6 L614.8,246.7 L606.3,246.7 L598.3,246.5 L591.2,246.2 L584.8,245.6 L578.7,244.8 L573.1,243.8 L568.1,242.8 L563.9,241.9 L560.7,241.3Z"/>
<path fill="#7fadd0" d="M94.1,282.2 L96.2,280.1 L99.0,277.2 L102.2,273.9 L105.7,270.5 L109.4,267.5 L113.0,264.9 L117.1,262.7 L121.6,260.5 L126.5,258.4 L131.5,256.5 L136.5,254.9 L141.4,253.5 L146.1,252.4 L150.9,251.6 L155.6,250.9 L160.3,250.6 L165.0,250.5 L169.6,250.6 L174.3,251.1 L179.1,251.9 L184.0,252.9 L188.8,254.2 L193.6,255.7 L198.1,257.2 L202.2,258.9 L206.2,260.8 L210.2,262.8 L214.1,265.1 L218.1,267.4 L222.3,269.8 L226.4,272.2 L230.7,274.7 L234.9,277.3 L239.2,279.9 L243.4,282.4 L247.3,284.7 L250.8,286.7 L254.0,288.5 L257.2,290.2 L260.5,291.9 L264.1,293.5 L268.2,295.1 L273.2,296.7 L279.0,298.3 L284.9,299.8 L290.6,301.2 L295.4,302.3 L298.7,303.1 L301.3,292.9 L297.9,292.0 L293.1,290.8 L287.6,289.5 L281.8,287.9 L276.3,286.4 L271.8,284.9 L268.2,283.5 L265.1,282.1 L262.2,280.7 L259.3,279.1 L256.2,277.3 L252.7,275.3 L248.9,273.1 L244.9,270.7 L240.7,268.0 L236.4,265.4 L232.0,262.7 L227.7,260.2 L223.6,257.9 L219.6,255.5 L215.5,253.2 L211.2,250.9 L206.7,248.7 L201.9,246.8 L197.0,245.1 L191.9,243.5 L186.6,242.1 L181.2,240.9 L175.8,240.0 L170.4,239.4 L165.0,239.2 L159.7,239.3 L154.4,239.7 L149.1,240.4 L143.9,241.3 L138.6,242.5 L133.2,243.9 L127.8,245.7 L122.3,247.7 L116.9,250.0 L111.8,252.4 L107.0,255.1 L102.3,258.3 L98.0,261.9 L94.1,265.6 L90.7,269.1 L87.9,271.9 L85.9,273.8Z"/>
<path fill="#a8d0ea" d="M92.8,280.8 L94.9,278.8 L97.6,275.9 L100.9,272.6 L104.5,269.2 L108.2,266.0 L112.1,263.3 L116.2,261.0 L120.9,258.8 L125.8,256.7 L130.9,254.8 L136.0,253.1 L140.9,251.8 L145.8,250.6 L150.6,249.8 L155.4,249.1 L160.2,248.8 L165.0,248.6 L169.7,248.8 L174.5,249.3 L179.5,250.1 L184.4,251.2 L189.3,252.5 L194.1,254.0 L198.7,255.5 L202.9,257.2 L207.0,259.2 L211.0,261.3 L215.0,263.5 L219.0,265.9 L223.1,268.2 L227.3,270.6 L231.6,273.2 L235.9,275.8 L240.1,278.5 L244.2,280.9 L248.2,283.2 L251.7,285.2 L254.9,287.0 L258.0,288.7 L261.2,290.3 L264.7,291.9 L268.8,293.4 L273.7,295.0 L279.4,296.6 L285.4,298.1 L291.0,299.5 L295.8,300.7 L299.1,301.5 L301.2,293.3 L297.8,292.4 L293.0,291.2 L287.4,289.9 L281.6,288.4 L276.2,286.8 L271.6,285.3 L268.0,283.9 L264.9,282.5 L262.0,281.0 L259.1,279.4 L256.0,277.6 L252.5,275.7 L248.7,273.5 L244.6,271.0 L240.4,268.4 L236.1,265.7 L231.8,263.1 L227.5,260.6 L223.4,258.3 L219.4,255.9 L215.3,253.5 L211.0,251.3 L206.5,249.1 L201.8,247.2 L196.9,245.5 L191.8,243.9 L186.5,242.5 L181.2,241.3 L175.7,240.4 L170.4,239.8 L165.0,239.6 L159.7,239.7 L154.5,240.1 L149.2,240.8 L144.0,241.7 L138.7,242.9 L133.4,244.4 L127.9,246.1 L122.4,248.2 L117.1,250.4 L112.0,252.8 L107.2,255.5 L102.6,258.6 L98.3,262.2 L94.4,265.9 L91.0,269.4 L88.2,272.2 L86.2,274.2Z"/>
<path fill="#dcf1fc" d="M89.7,277.7 L91.7,275.6 L94.5,272.8 L97.8,269.4 L101.5,265.9 L105.6,262.5 L109.8,259.6 L114.2,257.1 L119.1,254.8 L124.2,252.6 L129.5,250.7 L134.8,249.0 L139.9,247.6 L144.9,246.4 L149.9,245.5 L155.0,244.9 L160.0,244.5 L165.0,244.4 L170.0,244.6 L175.1,245.1 L180.3,245.9 L185.4,247.1 L190.5,248.4 L195.4,249.9 L200.2,251.6 L204.6,253.4 L208.9,255.4 L213.0,257.6 L217.1,259.9 L221.1,262.3 L225.2,264.6 L229.4,267.1 L233.7,269.7 L238.0,272.3 L242.3,274.9 L246.3,277.4 L250.2,279.6 L253.7,281.6 L256.9,283.4 L259.9,285.1 L263.0,286.6 L266.3,288.1 L270.1,289.6 L274.9,291.1 L280.5,292.7 L286.4,294.2 L292.0,295.6 L296.7,296.7 L300.1,297.6 L300.8,294.7 L297.4,293.9 L292.7,292.7 L287.1,291.3 L281.3,289.8 L275.8,288.3 L271.1,286.8 L267.5,285.3 L264.3,283.9 L261.3,282.4 L258.4,280.8 L255.2,279.0 L251.7,277.0 L247.9,274.8 L243.9,272.3 L239.6,269.7 L235.3,267.1 L231.0,264.4 L226.8,262.0 L222.7,259.6 L218.6,257.2 L214.5,254.9 L210.3,252.7 L205.9,250.5 L201.2,248.7 L196.4,247.0 L191.4,245.4 L186.2,244.0 L180.9,242.9 L175.5,242.0 L170.3,241.4 L165.0,241.2 L159.8,241.3 L154.6,241.7 L149.4,242.4 L144.3,243.3 L139.1,244.5 L133.8,245.9 L128.4,247.7 L123.0,249.7 L117.7,251.9 L112.7,254.3 L108.1,256.9 L103.6,259.9 L99.4,263.5 L95.5,267.1 L92.2,270.5 L89.4,273.4 L87.4,275.3Z"/>
<path fill="#7fadd0" d="M561.2,299.1 L565.8,297.7 L572.2,295.6 L579.5,293.2 L587.1,291.1 L594.2,289.8 L599.9,289.5 L605.1,290.1 L610.4,291.3 L615.2,293.0 L619.1,295.2 L621.8,297.9 L623.4,301.2 L623.8,306.2 L622.8,313.2 L620.8,321.6 L618.3,330.8 L615.8,340.2 L614.0,349.1 L612.7,357.6 L611.4,366.0 L610.3,374.4 L609.3,382.9 L608.7,391.5 L608.6,400.1 L608.8,408.6 L609.3,417.1 L610.1,425.7 L611.3,434.3 L613.1,443.0 L615.5,451.7 L618.5,460.5 L622.0,469.4 L626.1,478.3 L630.6,487.0 L635.6,495.5 L641.0,503.6 L647.0,511.3 L653.4,518.8 L660.3,525.9 L667.4,532.7 L674.7,539.1 L682.0,545.2 L690.0,551.1 L698.8,556.9 L707.6,562.3 L715.8,567.1 L722.6,571.0 L727.5,573.9 L734.5,562.1 L729.5,559.2 L722.5,555.3 L714.4,550.7 L705.8,545.6 L697.5,540.3 L690.0,534.8 L683.0,529.2 L676.0,523.2 L669.2,516.8 L662.6,510.2 L656.5,503.4 L651.0,496.4 L645.9,489.0 L641.1,481.1 L636.8,473.0 L632.8,464.7 L629.4,456.4 L626.5,448.3 L624.2,440.3 L622.4,432.3 L621.2,424.3 L620.3,416.2 L619.7,408.1 L619.4,399.9 L619.5,391.9 L619.9,383.8 L620.7,375.6 L621.7,367.4 L622.9,359.1 L624.0,350.9 L625.6,342.4 L627.9,333.3 L630.3,324.0 L632.4,314.9 L633.4,306.4 L632.6,298.8 L629.4,292.4 L624.7,287.8 L619.0,284.5 L612.8,282.4 L606.5,281.1 L600.1,280.5 L593.0,280.9 L585.0,282.6 L577.0,284.9 L569.5,287.4 L563.2,289.6 L558.8,290.9Z"/>
<path fill="#a8d0ea" d="M560.8,297.8 L565.4,296.4 L571.7,294.3 L579.1,291.9 L586.8,289.8 L594.0,288.4 L599.9,288.1 L605.3,288.7 L610.8,289.9 L615.8,291.6 L619.9,294.0 L623.0,297.1 L624.9,300.8 L625.3,306.2 L624.4,313.5 L622.3,322.0 L619.8,331.2 L617.4,340.5 L615.6,349.4 L614.3,357.8 L613.1,366.2 L612.0,374.6 L611.0,383.0 L610.4,391.5 L610.3,400.0 L610.5,408.5 L611.0,417.0 L611.9,425.5 L613.1,434.0 L614.9,442.6 L617.3,451.2 L620.2,459.9 L623.8,468.6 L627.8,477.4 L632.3,486.1 L637.3,494.5 L642.6,502.5 L648.5,510.1 L654.9,517.4 L661.7,524.5 L668.8,531.2 L676.0,537.5 L683.3,543.5 L691.2,549.4 L699.9,555.1 L708.7,560.4 L716.9,565.2 L723.7,569.1 L728.6,572.0 L734.2,562.5 L729.2,559.6 L722.2,555.8 L714.1,551.2 L705.6,546.1 L697.2,540.7 L689.7,535.3 L682.7,529.6 L675.7,523.6 L668.8,517.2 L662.3,510.6 L656.1,503.7 L650.6,496.7 L645.5,489.2 L640.7,481.4 L636.3,473.2 L632.4,464.9 L629.0,456.6 L626.1,448.4 L623.7,440.4 L622.0,432.4 L620.7,424.4 L619.9,416.3 L619.3,408.1 L619.0,399.9 L619.0,391.9 L619.5,383.7 L620.3,375.6 L621.3,367.3 L622.5,359.0 L623.6,350.8 L625.2,342.3 L627.5,333.2 L629.9,323.9 L632.0,314.9 L633.0,306.4 L632.2,298.9 L629.1,292.7 L624.4,288.1 L618.8,284.9 L612.7,282.8 L606.5,281.5 L600.1,280.8 L593.0,281.3 L585.1,282.9 L577.1,285.2 L569.6,287.7 L563.3,289.9 L558.9,291.3Z"/>
<path fill="#dcf1fc" d="M559.9,294.7 L564.4,293.3 L570.7,291.2 L578.1,288.7 L586.0,286.5 L593.5,285.0 L600.0,284.6 L605.8,285.3 L611.7,286.5 L617.2,288.4 L622.1,291.2 L625.9,295.0 L628.4,299.9 L629.0,306.3 L628.0,314.1 L625.9,322.9 L623.5,332.1 L621.1,341.4 L619.4,350.1 L618.2,358.4 L617.0,366.7 L615.9,375.0 L615.1,383.4 L614.5,391.7 L614.4,400.0 L614.7,408.3 L615.2,416.6 L616.1,424.9 L617.3,433.3 L619.1,441.6 L621.4,449.9 L624.4,458.3 L627.9,466.8 L631.9,475.4 L636.3,483.8 L641.2,492.0 L646.4,499.7 L652.1,507.1 L658.4,514.2 L665.1,521.0 L672.1,527.5 L679.2,533.7 L686.3,539.6 L694.0,545.3 L702.6,550.8 L711.3,556.0 L719.4,560.7 L726.3,564.6 L731.3,567.5 L733.2,564.2 L728.2,561.3 L721.3,557.4 L713.2,552.8 L704.6,547.6 L696.1,542.2 L688.6,536.7 L681.5,531.0 L674.5,524.9 L667.6,518.5 L661.0,511.8 L654.8,504.8 L649.2,497.7 L644.0,490.2 L639.2,482.2 L634.9,473.9 L630.9,465.5 L627.4,457.1 L624.5,448.9 L622.2,440.8 L620.4,432.7 L619.2,424.6 L618.3,416.4 L617.8,408.2 L617.5,400.0 L617.5,391.8 L618.0,383.6 L618.8,375.4 L619.9,367.1 L621.1,358.8 L622.2,350.5 L623.8,342.0 L626.1,332.8 L628.6,323.6 L630.6,314.6 L631.7,306.4 L630.9,299.2 L628.0,293.4 L623.6,289.1 L618.3,286.1 L612.4,284.0 L606.2,282.8 L600.1,282.1 L593.2,282.5 L585.4,284.1 L577.4,286.4 L569.9,288.9 L563.6,291.0 L559.2,292.4Z"/>
<path fill="#7fadd0" d="M698.4,294.5 L704.4,296.7 L712.7,299.8 L722.6,303.5 L733.3,307.4 L744.2,311.2 L754.4,314.8 L764.0,318.0 L773.6,321.1 L783.3,324.2 L793.3,327.3 L803.7,330.2 L814.7,333.1 L826.7,336.0 L839.4,338.8 L852.6,341.5 L865.7,344.1 L878.3,346.5 L890.1,348.5 L901.5,350.3 L913.1,351.8 L924.1,353.1 L934.0,354.2 L942.3,355.1 L948.4,355.8 L949.6,344.2 L943.5,343.6 L935.2,342.7 L925.3,341.7 L914.4,340.5 L903.1,339.1 L891.9,337.5 L880.3,335.5 L867.7,333.3 L854.7,330.9 L841.6,328.3 L829.0,325.6 L817.3,322.9 L806.4,320.1 L796.2,317.3 L786.3,314.4 L776.7,311.4 L767.2,308.3 L757.6,305.2 L747.4,301.9 L736.6,298.1 L725.9,294.3 L716.0,290.7 L707.7,287.7 L701.6,285.5Z"/>
<path fill="#a8d0ea" d="M698.9,293.0 L704.9,295.3 L713.2,298.3 L723.1,302.0 L733.8,305.9 L744.7,309.7 L754.9,313.2 L764.5,316.4 L774.1,319.6 L783.8,322.7 L793.8,325.7 L804.2,328.6 L815.1,331.5 L827.0,334.3 L839.8,337.1 L852.9,339.8 L866.0,342.4 L878.7,344.7 L890.4,346.8 L901.8,348.5 L913.3,350.0 L924.3,351.3 L934.2,352.4 L942.5,353.3 L948.6,353.9 L949.6,344.7 L943.4,344.0 L935.1,343.2 L925.3,342.2 L914.4,341.0 L903.0,339.6 L891.8,337.9 L880.2,336.0 L867.6,333.7 L854.6,331.3 L841.5,328.7 L828.9,326.0 L817.2,323.3 L806.3,320.6 L796.1,317.7 L786.2,314.8 L776.6,311.8 L767.0,308.7 L757.5,305.6 L747.3,302.2 L736.5,298.5 L725.8,294.7 L715.9,291.1 L707.6,288.1 L701.5,285.9Z"/>
<path fill="#dcf1fc" d="M700.1,289.6 L706.2,291.8 L714.5,294.9 L724.4,298.5 L735.1,302.4 L745.9,306.2 L756.1,309.6 L765.7,312.8 L775.3,315.9 L784.9,318.9 L794.9,321.9 L805.2,324.8 L816.1,327.6 L827.9,330.4 L840.6,333.1 L853.7,335.8 L866.8,338.3 L879.4,340.6 L891.1,342.6 L902.4,344.3 L913.8,345.7 L924.7,347.0 L934.6,348.0 L942.9,348.9 L949.1,349.5 L949.4,346.3 L943.3,345.6 L935.0,344.8 L925.1,343.8 L914.2,342.6 L902.8,341.1 L891.6,339.5 L879.9,337.5 L867.4,335.3 L854.3,332.8 L841.2,330.2 L828.6,327.4 L816.8,324.7 L806.0,322.0 L795.7,319.1 L785.8,316.2 L776.1,313.2 L766.6,310.1 L757.0,307.0 L746.8,303.5 L736.0,299.8 L725.3,295.9 L715.4,292.4 L707.1,289.3 L701.0,287.1Z"/>
<path fill="#7fadd0" d="M311.2,84.9 L311.2,88.2 L311.1,92.7 L311.0,98.1 L310.9,103.9 L310.9,109.8 L311.2,115.3 L311.5,120.4 L312.0,125.7 L312.5,130.9 L313.3,136.1 L314.1,141.2 L315.2,146.2 L316.5,150.9 L317.8,155.5 L319.4,160.0 L321.2,164.4 L323.4,168.7 L325.9,172.8 L328.8,176.6 L332.0,180.2 L335.4,183.5 L339.2,186.6 L343.2,189.6 L347.5,192.3 L352.2,194.8 L357.2,197.0 L362.4,198.9 L367.6,200.8 L372.8,202.6 L378.2,204.7 L383.9,207.0 L389.9,209.2 L396.0,211.5 L401.8,213.8 L407.3,216.4 L412.2,219.3 L416.8,222.6 L421.2,226.3 L425.4,230.2 L429.2,234.4 L432.7,238.6 L435.5,242.7 L437.9,247.2 L439.8,252.4 L441.5,258.0 L442.8,263.3 L444.0,268.0 L444.9,271.4 L455.1,268.6 L454.2,265.4 L453.1,260.8 L451.6,255.1 L449.8,249.0 L447.4,242.9 L444.5,237.3 L441.0,232.3 L437.1,227.5 L432.7,222.9 L428.1,218.5 L423.1,214.4 L417.8,210.7 L412.1,207.3 L405.9,204.4 L399.7,201.9 L393.4,199.6 L387.5,197.4 L381.8,195.3 L376.4,193.1 L370.9,191.2 L365.8,189.4 L360.9,187.7 L356.5,185.8 L352.5,183.7 L348.8,181.3 L345.3,178.8 L342.1,176.1 L339.1,173.3 L336.5,170.3 L334.1,167.2 L332.0,163.9 L330.2,160.3 L328.6,156.5 L327.2,152.5 L325.9,148.2 L324.8,143.8 L323.7,139.3 L322.9,134.6 L322.2,129.7 L321.6,124.7 L321.2,119.7 L320.8,114.7 L320.6,109.5 L320.5,103.9 L320.5,98.2 L320.6,92.9 L320.7,88.4 L320.8,85.1Z"/>
<path fill="#a8d0ea" d="M312.8,85.0 L312.7,88.2 L312.6,92.7 L312.5,98.1 L312.4,103.9 L312.5,109.7 L312.7,115.2 L313.1,120.3 L313.5,125.5 L314.1,130.7 L314.8,135.9 L315.7,140.9 L316.8,145.8 L318.0,150.4 L319.3,155.0 L320.9,159.4 L322.7,163.8 L324.8,167.9 L327.2,171.9 L330.0,175.6 L333.1,179.1 L336.5,182.3 L340.1,185.4 L344.1,188.2 L348.3,190.9 L352.9,193.4 L357.8,195.5 L362.9,197.4 L368.1,199.2 L373.4,201.1 L378.7,203.2 L384.4,205.4 L390.5,207.7 L396.6,209.9 L402.5,212.3 L408.1,215.0 L413.1,217.9 L417.8,221.3 L422.3,225.1 L426.6,229.1 L430.5,233.3 L434.0,237.6 L437.0,241.8 L439.4,246.5 L441.4,251.9 L443.1,257.5 L444.5,262.9 L445.6,267.6 L446.5,271.0 L454.7,268.7 L453.8,265.5 L452.7,260.9 L451.2,255.3 L449.4,249.2 L447.1,243.1 L444.1,237.5 L440.7,232.5 L436.8,227.8 L432.4,223.2 L427.8,218.8 L422.8,214.8 L417.6,211.0 L411.9,207.7 L405.8,204.8 L399.5,202.3 L393.3,200.0 L387.3,197.8 L381.7,195.6 L376.2,193.5 L370.8,191.6 L365.6,189.8 L360.8,188.0 L356.4,186.1 L352.3,184.0 L348.6,181.6 L345.0,179.1 L341.8,176.4 L338.8,173.6 L336.2,170.6 L333.8,167.4 L331.6,164.1 L329.8,160.5 L328.2,156.6 L326.8,152.6 L325.5,148.3 L324.4,143.9 L323.3,139.4 L322.5,134.7 L321.8,129.8 L321.3,124.7 L320.8,119.7 L320.4,114.7 L320.2,109.5 L320.1,103.9 L320.2,98.2 L320.3,92.9 L320.3,88.3 L320.4,85.1Z"/>
<path fill="#dcf1fc" d="M316.4,85.0 L316.3,88.3 L316.2,92.8 L316.1,98.1 L316.1,103.9 L316.2,109.6 L316.4,115.0 L316.8,120.0 L317.2,125.1 L317.8,130.3 L318.5,135.3 L319.3,140.2 L320.4,144.9 L321.6,149.4 L322.9,153.8 L324.4,158.1 L326.1,162.2 L328.0,166.1 L330.3,169.8 L332.9,173.2 L335.8,176.5 L339.0,179.5 L342.5,182.4 L346.2,185.1 L350.2,187.7 L354.5,190.0 L359.2,192.0 L364.2,193.8 L369.4,195.6 L374.7,197.5 L380.1,199.6 L385.8,201.8 L391.8,204.0 L398.0,206.3 L404.1,208.8 L409.9,211.5 L415.2,214.7 L420.2,218.2 L424.9,222.1 L429.4,226.3 L433.5,230.7 L437.2,235.2 L440.4,239.8 L443.0,244.9 L445.2,250.6 L447.0,256.4 L448.4,261.9 L449.5,266.6 L450.4,269.9 L453.3,269.1 L452.4,265.8 L451.2,261.2 L449.8,255.7 L448.0,249.7 L445.7,243.7 L442.9,238.3 L439.5,233.4 L435.7,228.7 L431.4,224.2 L426.8,219.9 L421.9,215.9 L416.8,212.2 L411.2,209.0 L405.2,206.1 L399.0,203.6 L392.8,201.3 L386.8,199.2 L381.2,197.0 L375.7,194.9 L370.3,192.9 L365.2,191.2 L360.3,189.3 L355.7,187.4 L351.6,185.2 L347.8,182.8 L344.2,180.2 L340.9,177.4 L337.8,174.5 L335.1,171.5 L332.6,168.2 L330.4,164.7 L328.6,161.1 L326.9,157.1 L325.5,153.0 L324.2,148.7 L323.0,144.3 L322.0,139.7 L321.2,134.9 L320.5,129.9 L319.9,124.9 L319.5,119.8 L319.1,114.8 L318.9,109.6 L318.8,103.9 L318.8,98.2 L318.9,92.8 L319.0,88.3 L319.1,85.0Z"/>
<path fill="#7fadd0" d="M533.5,195.3 L531.7,194.4 L529.2,193.2 L526.7,191.9 L524.1,190.5 L522.0,188.8 L520.2,186.8 L518.3,184.1 L516.4,180.6 L514.5,176.7 L513.0,172.6 L511.8,168.5 L511.1,164.5 L511.0,160.3 L511.3,155.6 L512.0,150.8 L513.0,145.9 L514.3,141.1 L515.7,136.8 L517.4,132.7 L519.3,128.7 L521.5,124.9 L523.8,121.5 L526.4,118.4 L529.1,115.8 L532.2,113.6 L535.8,111.5 L539.7,109.8 L543.7,108.4 L547.7,107.4 L551.3,106.8 L555.1,106.8 L559.3,107.5 L563.9,108.5 L568.2,109.7 L572.0,110.9 L574.8,111.6 L577.2,102.4 L574.6,101.7 L570.9,100.5 L566.3,99.2 L561.2,98.0 L555.8,97.2 L550.7,97.2 L545.8,97.9 L540.9,99.1 L536.1,100.7 L531.4,102.8 L526.9,105.3 L522.9,108.2 L519.2,111.6 L515.9,115.4 L513.0,119.6 L510.5,124.0 L508.2,128.6 L506.3,133.2 L504.6,138.2 L503.1,143.5 L501.9,149.0 L501.1,154.6 L500.7,160.1 L500.9,165.5 L501.7,170.7 L503.1,175.9 L505.0,180.8 L507.1,185.3 L509.4,189.5 L511.8,193.2 L514.8,196.5 L518.2,199.2 L521.6,201.2 L524.6,202.7 L526.9,203.8 L528.5,204.7Z"/>
<path fill="#a8d0ea" d="M532.7,196.8 L530.9,195.9 L528.5,194.7 L525.8,193.4 L523.2,191.9 L520.8,190.0 L518.8,187.8 L516.9,184.9 L514.9,181.3 L513.0,177.4 L511.4,173.2 L510.2,168.9 L509.5,164.7 L509.3,160.3 L509.6,155.5 L510.3,150.5 L511.4,145.5 L512.7,140.7 L514.2,136.2 L515.9,132.0 L517.9,127.9 L520.1,124.1 L522.6,120.5 L525.3,117.3 L528.1,114.6 L531.4,112.2 L535.1,110.1 L539.1,108.4 L543.2,106.9 L547.4,105.9 L551.2,105.3 L555.2,105.3 L559.6,106.0 L564.2,107.0 L568.6,108.3 L572.4,109.4 L575.2,110.1 L577.1,102.8 L574.5,102.1 L570.8,100.9 L566.2,99.6 L561.1,98.4 L555.8,97.6 L550.7,97.5 L545.8,98.3 L541.0,99.4 L536.2,101.1 L531.6,103.1 L527.1,105.6 L523.1,108.5 L519.5,111.9 L516.3,115.7 L513.4,119.8 L510.8,124.2 L508.6,128.7 L506.7,133.4 L505.0,138.3 L503.5,143.6 L502.3,149.1 L501.5,154.6 L501.1,160.1 L501.3,165.4 L502.1,170.7 L503.5,175.8 L505.4,180.6 L507.5,185.2 L509.8,189.2 L512.2,192.9 L515.1,196.2 L518.5,198.8 L521.8,200.8 L524.8,202.3 L527.1,203.4 L528.7,204.3Z"/>
<path fill="#dcf1fc" d="M530.8,200.4 L529.1,199.5 L526.7,198.3 L523.9,196.9 L520.9,195.2 L518.1,193.0 L515.7,190.3 L513.5,187.0 L511.4,183.2 L509.4,178.9 L507.6,174.4 L506.3,169.7 L505.6,165.0 L505.4,160.2 L505.8,155.1 L506.5,149.8 L507.6,144.6 L509.0,139.5 L510.6,134.9 L512.4,130.4 L514.5,126.1 L516.9,122.0 L519.6,118.2 L522.5,114.7 L525.7,111.7 L529.4,109.1 L533.4,106.8 L537.7,104.9 L542.2,103.4 L546.6,102.3 L551.0,101.6 L555.5,101.6 L560.3,102.4 L565.2,103.5 L569.6,104.8 L573.4,105.9 L576.1,106.6 L576.8,104.0 L574.1,103.3 L570.4,102.2 L565.8,100.9 L560.8,99.7 L555.7,98.9 L550.8,98.9 L546.1,99.6 L541.4,100.7 L536.7,102.3 L532.2,104.3 L527.9,106.7 L524.0,109.6 L520.5,112.8 L517.4,116.5 L514.5,120.5 L512.1,124.8 L509.9,129.3 L508.0,133.9 L506.3,138.7 L504.9,143.9 L503.7,149.3 L502.9,154.8 L502.6,160.1 L502.7,165.3 L503.5,170.3 L504.9,175.3 L506.7,180.1 L508.8,184.5 L511.0,188.5 L513.3,192.0 L516.1,195.1 L519.3,197.6 L522.5,199.5 L525.4,201.0 L527.8,202.1 L529.4,203.0Z"/>
<path fill="#7fadd0" d="M565.6,222.6 L567.2,219.8 L569.4,215.9 L571.9,211.4 L574.6,206.6 L577.5,202.1 L580.3,198.2 L583.1,194.7 L586.0,191.2 L588.9,188.0 L592.1,184.9 L595.4,182.1 L599.0,179.5 L603.1,177.0 L607.7,174.6 L612.6,172.3 L617.5,170.3 L622.5,168.6 L627.3,167.3 L631.8,166.4 L636.3,165.9 L640.8,165.6 L645.5,165.7 L650.3,166.0 L655.3,166.5 L660.7,167.3 L666.3,168.4 L672.1,169.8 L677.9,171.4 L683.6,173.2 L688.9,175.2 L693.9,177.4 L698.7,179.9 L703.4,182.7 L708.2,185.6 L713.0,188.7 L717.9,191.8 L722.9,195.0 L727.8,198.3 L732.7,201.8 L737.8,205.3 L742.9,208.8 L748.1,212.0 L753.6,215.1 L759.5,218.1 L765.4,221.0 L770.7,223.5 L775.2,225.7 L778.5,227.3 L783.5,216.7 L780.2,215.2 L775.7,213.0 L770.4,210.5 L764.7,207.8 L759.1,204.9 L753.9,202.0 L749.1,199.1 L744.2,195.8 L739.3,192.4 L734.2,188.9 L729.1,185.5 L724.1,182.2 L719.1,179.1 L714.2,176.0 L709.2,173.0 L704.1,170.0 L698.7,167.3 L693.1,164.8 L687.2,162.6 L681.1,160.7 L674.9,159.0 L668.6,157.5 L662.5,156.4 L656.7,155.5 L651.2,154.9 L645.8,154.6 L640.5,154.6 L635.3,154.9 L630.1,155.6 L624.7,156.7 L619.3,158.2 L613.7,160.1 L608.2,162.3 L602.8,164.8 L597.7,167.6 L593.0,170.5 L588.7,173.6 L584.8,177.0 L581.2,180.5 L577.9,184.2 L574.8,187.9 L571.7,191.8 L568.6,196.2 L565.5,201.1 L562.6,206.1 L560.0,210.8 L557.9,214.6 L556.4,217.4Z"/>
<path fill="#a8d0ea" d="M564.1,221.8 L565.7,219.0 L567.9,215.1 L570.4,210.5 L573.2,205.8 L576.1,201.2 L578.9,197.2 L581.8,193.6 L584.7,190.1 L587.7,186.8 L590.9,183.7 L594.3,180.8 L598.0,178.1 L602.3,175.5 L606.9,173.0 L611.9,170.7 L616.9,168.7 L622.0,166.9 L626.9,165.6 L631.5,164.7 L636.2,164.1 L640.8,163.9 L645.5,163.9 L650.4,164.2 L655.5,164.7 L661.0,165.6 L666.7,166.7 L672.6,168.1 L678.4,169.7 L684.2,171.5 L689.6,173.5 L694.6,175.8 L699.5,178.3 L704.3,181.1 L709.1,184.1 L714.0,187.2 L718.9,190.3 L723.9,193.4 L728.8,196.8 L733.8,200.3 L738.8,203.8 L743.9,207.2 L749.0,210.4 L754.5,213.4 L760.3,216.4 L766.2,219.3 L771.5,221.9 L776.0,224.0 L779.3,225.6 L783.3,217.2 L780.0,215.6 L775.5,213.5 L770.2,210.9 L764.5,208.2 L758.8,205.3 L753.7,202.4 L748.9,199.5 L744.0,196.2 L739.0,192.8 L734.0,189.3 L728.9,185.8 L723.8,182.6 L718.8,179.5 L713.9,176.4 L709.0,173.3 L703.9,170.4 L698.5,167.7 L692.9,165.2 L687.1,163.0 L681.0,161.1 L674.8,159.4 L668.6,158.0 L662.5,156.8 L656.6,155.9 L651.1,155.4 L645.8,155.1 L640.6,155.1 L635.4,155.4 L630.1,156.0 L624.8,157.1 L619.4,158.6 L613.9,160.5 L608.4,162.7 L603.0,165.2 L597.9,168.0 L593.2,170.9 L589.0,174.0 L585.1,177.3 L581.5,180.8 L578.2,184.5 L575.1,188.2 L572.1,192.0 L568.9,196.4 L565.9,201.4 L563.0,206.3 L560.4,211.0 L558.3,214.9 L556.8,217.6Z"/>
<path fill="#dcf1fc" d="M560.6,219.8 L562.2,217.0 L564.3,213.1 L566.9,208.5 L569.7,203.7 L572.7,198.9 L575.7,194.7 L578.6,191.0 L581.6,187.4 L584.8,184.0 L588.1,180.6 L591.8,177.5 L595.8,174.6 L600.2,171.9 L605.1,169.3 L610.2,166.9 L615.5,164.8 L620.8,163.0 L625.9,161.6 L630.9,160.6 L635.8,160.0 L640.7,159.7 L645.6,159.7 L650.7,160.0 L656.1,160.6 L661.7,161.4 L667.6,162.5 L673.6,163.9 L679.6,165.6 L685.5,167.5 L691.2,169.6 L696.5,171.9 L701.6,174.6 L706.5,177.4 L711.4,180.4 L716.3,183.5 L721.2,186.6 L726.3,189.8 L731.3,193.3 L736.3,196.7 L741.3,200.2 L746.2,203.5 L751.2,206.6 L756.6,209.6 L762.3,212.5 L768.1,215.3 L773.4,217.9 L777.9,220.0 L781.2,221.6 L782.6,218.6 L779.3,217.1 L774.8,214.9 L769.5,212.4 L763.8,209.6 L758.1,206.7 L752.9,203.8 L748.0,200.8 L743.1,197.6 L738.1,194.1 L733.1,190.6 L728.0,187.2 L723.0,183.9 L718.0,180.8 L713.1,177.7 L708.2,174.7 L703.1,171.8 L697.8,169.1 L692.4,166.7 L686.6,164.5 L680.5,162.6 L674.4,160.9 L668.2,159.5 L662.2,158.3 L656.4,157.5 L651.0,156.9 L645.7,156.6 L640.6,156.6 L635.5,156.9 L630.4,157.6 L625.2,158.6 L619.9,160.0 L614.4,161.9 L609.0,164.1 L603.7,166.6 L598.7,169.3 L594.1,172.1 L589.9,175.1 L586.1,178.4 L582.6,181.9 L579.3,185.4 L576.3,189.1 L573.3,192.9 L570.2,197.3 L567.1,202.1 L564.3,207.1 L561.7,211.7 L559.6,215.6 L558.0,218.3Z"/>
<path fill="#7fadd0" d="M214.2,196.8 L217.3,195.4 L221.4,193.5 L226.3,191.2 L231.6,188.9 L236.8,186.7 L241.6,185.0 L246.3,183.7 L251.1,182.5 L255.9,181.4 L260.8,180.5 L265.6,179.8 L270.4,179.3 L275.3,179.0 L280.2,178.9 L285.1,179.0 L290.0,179.2 L294.7,179.7 L299.2,180.2 L303.5,181.0 L307.5,181.8 L311.4,182.8 L315.2,184.0 L319.1,185.4 L323.0,186.9 L326.9,188.6 L330.7,190.5 L334.6,192.6 L338.7,194.9 L343.0,197.3 L347.6,199.7 L352.3,202.0 L357.0,204.3 L361.8,206.5 L366.7,208.9 L371.9,211.6 L377.4,214.6 L383.8,218.4 L391.3,223.0 L399.0,227.9 L406.4,232.6 L412.7,236.6 L417.2,239.5 L422.8,230.5 L418.4,227.7 L412.1,223.7 L404.7,219.0 L396.9,214.0 L389.3,209.3 L382.6,205.4 L376.9,202.2 L371.4,199.4 L366.4,197.0 L361.5,194.7 L356.9,192.5 L352.4,190.3 L348.1,188.0 L343.9,185.7 L339.7,183.4 L335.6,181.1 L331.4,179.0 L327.0,177.1 L322.7,175.4 L318.5,174.0 L314.3,172.7 L309.9,171.5 L305.5,170.5 L300.8,169.8 L295.9,169.1 L290.8,168.7 L285.5,168.4 L280.2,168.3 L274.8,168.4 L269.6,168.7 L264.3,169.3 L259.1,170.0 L253.8,171.0 L248.6,172.1 L243.5,173.5 L238.4,175.0 L233.0,176.8 L227.4,179.1 L221.9,181.5 L216.9,183.9 L212.8,185.8 L209.8,187.2Z"/>
<path fill="#a8d0ea" d="M213.5,195.3 L216.5,193.9 L220.7,191.9 L225.6,189.7 L230.9,187.3 L236.2,185.2 L241.1,183.4 L245.8,182.0 L250.7,180.8 L255.6,179.7 L260.5,178.8 L265.4,178.1 L270.3,177.6 L275.2,177.3 L280.2,177.2 L285.2,177.3 L290.1,177.6 L294.9,178.0 L299.5,178.6 L303.8,179.3 L307.9,180.2 L311.8,181.2 L315.7,182.4 L319.6,183.8 L323.6,185.3 L327.6,187.1 L331.5,189.0 L335.5,191.2 L339.5,193.4 L343.8,195.8 L348.4,198.2 L353.0,200.5 L357.7,202.7 L362.5,205.0 L367.5,207.4 L372.7,210.1 L378.2,213.1 L384.7,217.0 L392.2,221.6 L399.9,226.5 L407.3,231.2 L413.6,235.2 L418.1,238.0 L422.6,230.9 L418.2,228.1 L411.9,224.0 L404.5,219.3 L396.7,214.4 L389.1,209.7 L382.4,205.8 L376.7,202.6 L371.3,199.8 L366.2,197.4 L361.3,195.1 L356.7,192.9 L352.2,190.7 L347.9,188.4 L343.7,186.0 L339.5,183.7 L335.4,181.5 L331.2,179.4 L326.9,177.5 L322.6,175.8 L318.4,174.4 L314.2,173.1 L309.8,171.9 L305.4,171.0 L300.7,170.2 L295.8,169.6 L290.7,169.1 L285.5,168.8 L280.2,168.7 L274.9,168.8 L269.6,169.1 L264.4,169.7 L259.1,170.4 L253.9,171.4 L248.7,172.6 L243.6,173.9 L238.5,175.4 L233.2,177.2 L227.6,179.5 L222.1,181.9 L217.1,184.2 L213.0,186.2 L210.0,187.6Z"/>
<path fill="#dcf1fc" d="M211.8,191.6 L214.8,190.2 L219.0,188.3 L223.9,186.0 L229.3,183.6 L234.7,181.4 L239.9,179.6 L244.8,178.2 L249.8,176.9 L254.8,175.8 L259.9,174.8 L264.9,174.1 L270.0,173.6 L275.0,173.3 L280.2,173.2 L285.3,173.3 L290.4,173.5 L295.3,174.0 L300.1,174.6 L304.5,175.3 L308.8,176.3 L312.9,177.3 L317.0,178.6 L321.0,180.0 L325.2,181.6 L329.3,183.4 L333.3,185.4 L337.4,187.6 L341.5,189.9 L345.7,192.3 L350.2,194.6 L354.8,196.9 L359.4,199.1 L364.2,201.4 L369.3,203.8 L374.6,206.5 L380.2,209.6 L386.8,213.5 L394.3,218.2 L402.1,223.1 L409.5,227.8 L415.8,231.8 L420.2,234.6 L421.8,232.1 L417.4,229.3 L411.1,225.3 L403.7,220.6 L395.9,215.6 L388.3,211.0 L381.7,207.1 L376.0,203.9 L370.6,201.2 L365.5,198.7 L360.7,196.4 L356.1,194.2 L351.5,192.0 L347.2,189.7 L342.9,187.3 L338.8,185.0 L334.7,182.8 L330.5,180.7 L326.3,178.9 L322.1,177.2 L317.9,175.8 L313.7,174.5 L309.5,173.4 L305.1,172.4 L300.5,171.6 L295.7,171.0 L290.6,170.6 L285.4,170.3 L280.2,170.2 L274.9,170.3 L269.7,170.6 L264.6,171.2 L259.4,171.9 L254.2,172.9 L249.1,174.0 L244.0,175.3 L239.0,176.8 L233.7,178.6 L228.2,180.9 L222.7,183.3 L217.8,185.6 L213.6,187.5 L210.6,188.9Z"/>
<path fill="#dc5c1c" d="M406.9,242.0 L405.6,239.2 L403.9,235.6 L401.9,231.4 L400.0,226.9 L398.4,222.5 L397.2,218.3 L396.4,214.1 L395.7,209.7 L395.3,205.1 L395.0,200.4 L395.0,195.6 L395.3,190.6 L395.8,185.3 L396.5,179.7 L397.5,173.9 L398.7,168.1 L400.2,162.6 L401.8,157.3 L403.6,152.2 L405.8,147.1 L408.3,142.1 L410.9,137.3 L413.4,132.8 L416.0,128.7 L418.3,124.9 L420.5,121.4 L422.4,118.7 L424.1,116.6 L425.6,115.3 L427.0,114.6 L428.8,114.4 L431.5,114.6 L435.2,115.4 L439.5,116.6 L444.2,117.8 L448.9,118.7 L453.5,119.3 L458.0,119.7 L462.4,120.1 L466.5,120.5 L470.3,120.9 L473.5,121.6 L476.5,122.3 L479.2,123.2 L481.6,124.1 L483.6,125.0 L485.2,125.9 L486.5,126.9 L487.6,128.1 L488.6,129.4 L489.4,130.8 L490.0,132.2 L490.3,133.6 L490.4,134.7 L490.2,136.0 L489.6,137.8 L488.7,140.0 L487.5,142.2 L486.3,144.1 L485.2,145.6 L484.1,146.6 L482.6,147.6 L480.7,148.6 L478.6,149.5 L476.6,150.4 L475.1,151.2 L480.9,162.8 L482.1,162.2 L484.0,161.4 L486.5,160.3 L489.3,158.8 L492.2,156.9 L494.8,154.4 L497.0,151.7 L498.8,148.9 L500.5,145.8 L502.0,142.5 L503.1,139.0 L503.6,135.3 L503.4,131.7 L502.7,128.3 L501.4,125.2 L499.8,122.2 L497.8,119.5 L495.5,117.1 L492.8,114.9 L489.9,113.2 L486.8,111.7 L483.5,110.5 L480.1,109.4 L476.5,108.4 L472.4,107.6 L468.1,107.0 L463.7,106.6 L459.3,106.2 L455.0,105.7 L451.1,105.3 L447.3,104.5 L443.1,103.3 L438.5,102.1 L433.7,101.0 L428.4,100.5 L423.0,101.4 L418.2,103.6 L414.4,106.6 L411.4,110.1 L408.8,113.7 L406.4,117.5 L404.0,121.3 L401.4,125.6 L398.5,130.4 L395.7,135.6 L393.0,141.2 L390.4,146.9 L388.2,152.7 L386.4,158.6 L384.7,164.8 L383.4,171.1 L382.2,177.4 L381.3,183.5 L380.7,189.4 L380.4,195.1 L380.4,200.7 L380.6,206.1 L381.1,211.4 L381.8,216.6 L382.8,221.7 L384.3,227.0 L386.2,232.4 L388.3,237.4 L390.3,241.8 L392.0,245.5 L393.1,248.0Z"/>
<path fill="#f47a32" d="M404.7,242.9 L403.4,240.2 L401.7,236.6 L399.8,232.3 L397.8,227.8 L396.1,223.2 L394.9,218.8 L394.0,214.5 L393.4,210.0 L392.9,205.3 L392.7,200.5 L392.7,195.5 L392.9,190.4 L393.5,185.0 L394.2,179.3 L395.3,173.4 L396.5,167.6 L398.0,161.9 L399.6,156.6 L401.5,151.4 L403.8,146.2 L406.3,141.1 L408.9,136.2 L411.5,131.6 L414.1,127.5 L416.4,123.7 L418.6,120.2 L420.6,117.3 L422.6,115.0 L424.4,113.5 L426.4,112.5 L428.7,112.2 L431.9,112.5 L435.8,113.3 L440.1,114.5 L444.7,115.7 L449.3,116.6 L453.8,117.1 L458.2,117.5 L462.6,117.9 L466.8,118.3 L470.6,118.8 L474.0,119.5 L477.1,120.3 L479.9,121.1 L482.4,122.1 L484.6,123.1 L486.4,124.2 L488.0,125.4 L489.3,126.7 L490.4,128.3 L491.4,129.9 L492.0,131.6 L492.4,133.3 L492.5,134.8 L492.3,136.5 L491.6,138.6 L490.6,140.9 L489.3,143.2 L488.0,145.4 L486.7,147.0 L485.4,148.2 L483.7,149.4 L481.6,150.5 L479.5,151.4 L477.5,152.3 L476.1,153.0 L480.6,162.4 L481.9,161.8 L483.8,160.9 L486.2,159.8 L489.0,158.4 L491.9,156.5 L494.4,154.1 L496.5,151.4 L498.4,148.6 L500.1,145.5 L501.5,142.3 L502.6,138.8 L503.1,135.3 L502.9,131.8 L502.2,128.5 L501.0,125.4 L499.4,122.5 L497.4,119.8 L495.1,117.4 L492.5,115.4 L489.6,113.6 L486.6,112.2 L483.4,111.0 L480.0,109.9 L476.4,109.0 L472.4,108.2 L468.1,107.6 L463.6,107.1 L459.2,106.7 L454.9,106.3 L451.0,105.8 L447.2,105.0 L442.9,103.9 L438.4,102.6 L433.6,101.5 L428.4,101.1 L423.2,101.9 L418.5,104.1 L414.8,107.0 L411.8,110.4 L409.3,114.0 L406.9,117.8 L404.5,121.6 L401.9,125.9 L399.0,130.7 L396.2,135.9 L393.5,141.4 L391.0,147.1 L388.8,152.9 L386.9,158.8 L385.3,165.0 L383.9,171.2 L382.8,177.5 L381.9,183.6 L381.3,189.5 L381.0,195.2 L381.0,200.7 L381.2,206.1 L381.7,211.4 L382.4,216.5 L383.4,221.6 L384.8,226.8 L386.7,232.1 L388.8,237.1 L390.9,241.6 L392.6,245.2 L393.7,247.8Z"/>
<path fill="#ff9a58" d="M399.5,245.2 L398.3,242.6 L396.6,239.0 L394.6,234.6 L392.6,229.8 L390.8,224.9 L389.4,220.1 L388.5,215.4 L387.8,210.6 L387.4,205.7 L387.1,200.6 L387.1,195.3 L387.4,190.0 L388.0,184.3 L388.8,178.4 L389.9,172.4 L391.2,166.3 L392.7,160.4 L394.5,154.8 L396.5,149.3 L398.9,143.9 L401.5,138.6 L404.2,133.6 L406.9,128.9 L409.5,124.7 L411.9,120.9 L414.2,117.3 L416.4,114.0 L418.9,111.2 L421.6,109.0 L424.8,107.5 L428.6,106.9 L432.7,107.3 L437.0,108.2 L441.4,109.4 L445.8,110.6 L450.1,111.5 L454.3,112.0 L458.7,112.4 L463.1,112.8 L467.4,113.2 L471.4,113.7 L475.1,114.5 L478.5,115.3 L481.5,116.3 L484.4,117.4 L487.0,118.6 L489.3,120.0 L491.4,121.6 L493.1,123.5 L494.7,125.5 L495.9,127.8 L496.8,130.1 L497.4,132.6 L497.5,135.0 L497.2,137.6 L496.3,140.3 L495.1,143.1 L493.6,145.8 L492.0,148.2 L490.4,150.4 L488.5,152.1 L486.2,153.6 L483.8,154.9 L481.5,156.0 L479.6,156.8 L478.2,157.5 L479.8,160.7 L481.1,160.1 L483.0,159.3 L485.4,158.2 L488.1,156.8 L490.7,155.0 L493.1,152.8 L495.0,150.4 L496.8,147.7 L498.4,144.7 L499.8,141.6 L500.8,138.4 L501.2,135.2 L501.1,132.1 L500.4,129.0 L499.3,126.2 L497.8,123.5 L496.0,121.0 L493.9,118.8 L491.4,116.9 L488.7,115.3 L485.9,113.9 L482.8,112.7 L479.5,111.7 L476.0,110.8 L472.1,110.0 L467.8,109.4 L463.5,109.0 L459.1,108.6 L454.7,108.2 L450.7,107.7 L446.7,106.9 L442.4,105.7 L437.9,104.5 L433.3,103.5 L428.5,103.0 L423.7,103.8 L419.5,105.7 L416.2,108.4 L413.4,111.6 L410.9,115.1 L408.6,118.8 L406.2,122.6 L403.5,126.9 L400.8,131.7 L398.0,136.8 L395.3,142.2 L392.8,147.8 L390.7,153.5 L388.9,159.3 L387.3,165.4 L385.9,171.6 L384.8,177.8 L383.9,183.8 L383.4,189.6 L383.0,195.2 L383.0,200.7 L383.3,206.0 L383.7,211.1 L384.4,216.1 L385.4,221.1 L386.8,226.2 L388.7,231.4 L390.8,236.3 L392.8,240.7 L394.5,244.3 L395.6,246.9Z"/>
<path fill="#dc5c1c" d="M579.0,165.3 L579.1,168.0 L579.3,171.7 L579.6,175.9 L579.7,180.6 L579.7,185.3 L579.6,189.7 L579.1,194.5 L578.3,200.0 L577.4,205.7 L576.4,211.1 L575.6,215.8 L575.1,219.1 L586.9,220.9 L587.4,217.6 L588.0,212.9 L588.8,207.4 L589.5,201.5 L590.1,195.6 L590.4,190.3 L590.5,185.3 L590.3,180.2 L589.9,175.3 L589.5,170.9 L589.2,167.3 L589.0,164.7Z"/>
<path fill="#f47a32" d="M580.6,165.2 L580.7,167.9 L581.0,171.6 L581.2,175.8 L581.4,180.5 L581.5,185.3 L581.3,189.8 L580.8,194.7 L580.1,200.2 L579.2,206.0 L578.3,211.4 L577.5,216.1 L577.0,219.4 L586.5,220.8 L586.9,217.5 L587.5,212.9 L588.3,207.3 L589.0,201.4 L589.7,195.6 L590.0,190.3 L590.0,185.3 L589.9,180.2 L589.5,175.3 L589.1,171.0 L588.8,167.3 L588.6,164.7Z"/>
<path fill="#ff9a58" d="M584.4,165.0 L584.6,167.6 L584.9,171.3 L585.2,175.6 L585.4,180.4 L585.5,185.3 L585.4,190.0 L585.0,195.1 L584.3,200.8 L583.5,206.6 L582.7,212.1 L582.0,216.8 L581.5,220.1 L584.8,220.6 L585.3,217.3 L585.9,212.6 L586.7,207.1 L587.5,201.2 L588.1,195.4 L588.5,190.2 L588.5,185.3 L588.4,180.2 L588.1,175.4 L587.7,171.1 L587.4,167.4 L587.2,164.8Z"/>
<path fill="#dc5c1c" d="M329.1,179.3 L331.4,180.3 L334.5,181.6 L338.2,183.2 L342.4,185.0 L347.1,186.9 L352.0,188.8 L357.3,190.8 L363.1,193.1 L369.3,195.4 L375.8,197.8 L382.4,200.1 L388.9,202.3 L395.2,204.4 L401.3,206.3 L407.5,208.2 L414.0,210.1 L421.1,212.0 L429.0,214.1 L438.1,216.4 L448.2,218.7 L458.9,221.1 L469.7,223.5 L480.1,226.0 L489.8,228.4 L498.7,230.7 L507.1,232.9 L515.2,235.2 L523.0,237.5 L530.9,240.0 L538.9,242.7 L547.0,245.6 L555.1,248.7 L563.3,252.0 L571.5,255.4 L579.7,258.9 L588.0,262.4 L596.0,265.9 L603.9,269.4 L611.7,272.9 L619.7,276.6 L628.1,280.7 L637.1,285.1 L646.5,290.0 L656.4,295.5 L666.8,301.4 L677.9,307.4 L689.6,313.4 L702.1,319.2 L715.3,324.6 L729.2,329.9 L743.6,334.9 L758.2,340.0 L772.8,345.1 L787.3,350.4 L802.2,355.9 L817.6,361.8 L833.2,367.8 L848.6,373.7 L863.3,379.3 L877.0,384.3 L890.1,389.0 L903.0,393.5 L915.2,397.7 L926.2,401.5 L935.3,404.5 L942.0,406.9 L950.0,383.1 L943.1,380.9 L934.0,377.9 L923.0,374.4 L910.8,370.4 L898.0,366.1 L885.0,361.7 L871.4,357.0 L856.7,351.7 L841.3,346.2 L825.5,340.5 L809.8,335.0 L794.7,329.6 L779.8,324.6 L765.0,319.8 L750.3,315.1 L736.1,310.4 L722.6,305.6 L709.9,300.8 L698.0,295.7 L686.7,290.2 L675.8,284.6 L665.2,279.1 L655.0,273.8 L644.9,268.9 L635.5,264.7 L626.8,260.8 L618.5,257.3 L610.4,254.0 L602.3,250.8 L594.0,247.6 L585.6,244.3 L577.2,241.1 L568.7,237.9 L560.2,234.9 L551.7,232.0 L543.1,229.3 L534.7,227.0 L526.4,224.9 L518.2,223.1 L509.9,221.3 L501.3,219.5 L492.2,217.6 L482.3,215.7 L471.7,213.7 L460.8,211.6 L450.1,209.7 L440.0,207.7 L431.0,205.9 L423.1,204.1 L416.0,202.4 L409.5,200.8 L403.4,199.2 L397.3,197.5 L391.1,195.7 L384.6,193.7 L378.0,191.5 L371.5,189.3 L365.3,187.1 L359.4,185.1 L354.0,183.2 L349.1,181.4 L344.5,179.7 L340.2,178.2 L336.4,176.7 L333.3,175.6 L330.9,174.7Z"/>
<path fill="#f47a32" d="M329.4,178.6 L331.7,179.5 L334.8,180.8 L338.5,182.4 L342.7,184.2 L347.4,186.0 L352.3,187.9 L357.6,189.9 L363.4,192.1 L369.7,194.4 L376.2,196.8 L382.8,199.1 L389.3,201.3 L395.5,203.3 L401.6,205.2 L407.8,207.0 L414.3,208.9 L421.4,210.8 L429.3,212.8 L438.4,215.0 L448.5,217.3 L459.2,219.6 L470.0,222.0 L480.5,224.3 L490.2,226.6 L499.1,228.9 L507.5,231.1 L515.6,233.3 L523.6,235.5 L531.5,237.9 L539.5,240.5 L547.7,243.4 L555.9,246.5 L564.2,249.7 L572.4,253.1 L580.7,256.5 L588.9,260.0 L597.0,263.5 L604.9,266.9 L612.7,270.4 L620.8,274.1 L629.3,278.1 L638.3,282.5 L647.9,287.4 L657.8,292.9 L668.3,298.7 L679.3,304.7 L691.0,310.6 L703.4,316.3 L716.5,321.6 L730.3,326.7 L744.6,331.8 L759.2,336.8 L773.9,341.8 L788.5,347.0 L803.4,352.6 L818.9,358.4 L834.5,364.4 L849.9,370.2 L864.6,375.7 L878.3,380.7 L891.3,385.3 L904.3,389.8 L916.5,394.0 L927.4,397.7 L936.5,400.8 L943.3,403.1 L949.6,384.1 L942.8,381.9 L933.7,378.9 L922.7,375.3 L910.5,371.3 L897.7,367.0 L884.7,362.6 L871.1,357.8 L856.4,352.6 L840.9,347.1 L825.2,341.4 L809.5,335.8 L794.4,330.5 L779.5,325.4 L764.7,320.6 L750.0,315.8 L735.8,311.1 L722.3,306.4 L709.6,301.5 L697.7,296.4 L686.4,290.9 L675.4,285.3 L664.9,279.7 L654.6,274.4 L644.6,269.6 L635.2,265.3 L626.5,261.5 L618.2,258.0 L610.1,254.6 L602.0,251.4 L593.8,248.2 L585.4,244.9 L577.0,241.7 L568.5,238.5 L560.0,235.4 L551.5,232.5 L543.0,229.9 L534.6,227.5 L526.3,225.4 L518.1,223.5 L509.8,221.7 L501.2,220.0 L492.1,218.1 L482.3,216.1 L471.6,214.0 L460.8,212.0 L450.1,210.0 L439.9,208.1 L430.9,206.2 L423.0,204.4 L415.9,202.7 L409.4,201.1 L403.3,199.5 L397.2,197.8 L391.0,195.9 L384.5,193.9 L377.9,191.8 L371.4,189.6 L365.2,187.4 L359.3,185.3 L354.0,183.4 L349.0,181.7 L344.4,180.0 L340.1,178.4 L336.3,176.9 L333.2,175.8 L330.9,174.9Z"/>
<path fill="#ff9a58" d="M330.1,176.8 L332.4,177.7 L335.5,179.0 L339.3,180.5 L343.5,182.2 L348.2,183.9 L353.1,185.8 L358.4,187.7 L364.3,189.9 L370.5,192.1 L377.0,194.4 L383.6,196.6 L390.1,198.7 L396.3,200.6 L402.4,202.5 L408.6,204.2 L415.1,206.0 L422.2,207.8 L430.1,209.7 L439.2,211.7 L449.3,213.8 L460.0,216.0 L470.8,218.2 L481.3,220.4 L491.1,222.6 L500.1,224.7 L508.6,226.6 L516.8,228.6 L524.9,230.7 L532.9,233.0 L541.2,235.5 L549.5,238.2 L557.9,241.2 L566.2,244.4 L574.6,247.7 L582.9,251.0 L591.2,254.4 L599.4,257.8 L607.4,261.1 L615.3,264.5 L623.5,268.1 L632.1,272.0 L641.3,276.4 L651.1,281.2 L661.2,286.6 L671.7,292.3 L682.6,298.1 L694.2,303.8 L706.3,309.3 L719.2,314.4 L732.9,319.3 L747.2,324.2 L761.8,329.1 L776.6,334.0 L791.3,339.2 L806.3,344.6 L821.9,350.3 L837.6,356.1 L853.0,361.8 L867.7,367.2 L881.3,372.1 L894.3,376.6 L907.2,381.0 L919.4,385.1 L930.4,388.8 L939.5,391.8 L946.3,394.1 L948.5,387.4 L941.7,385.2 L932.6,382.2 L921.6,378.6 L909.4,374.6 L896.6,370.2 L883.6,365.8 L870.0,361.0 L855.3,355.7 L839.8,350.1 L824.1,344.4 L808.5,338.7 L793.4,333.4 L778.6,328.3 L763.7,323.4 L749.1,318.6 L734.9,313.9 L721.3,309.1 L708.5,304.1 L696.5,298.9 L685.1,293.3 L674.2,287.6 L663.7,282.0 L653.4,276.7 L643.5,271.8 L634.2,267.5 L625.5,263.7 L617.2,260.1 L609.2,256.8 L601.2,253.5 L592.9,250.3 L584.6,246.9 L576.2,243.7 L567.7,240.4 L559.3,237.4 L550.8,234.4 L542.4,231.7 L534.0,229.3 L525.8,227.2 L517.7,225.2 L509.4,223.4 L500.8,221.5 L491.8,219.6 L481.9,217.5 L471.4,215.4 L460.5,213.3 L449.8,211.3 L439.7,209.3 L430.6,207.4 L422.7,205.5 L415.6,203.8 L409.2,202.1 L403.0,200.5 L396.9,198.7 L390.7,196.9 L384.2,194.8 L377.6,192.7 L371.1,190.4 L364.9,188.2 L359.0,186.1 L353.7,184.2 L348.8,182.4 L344.1,180.7 L339.8,179.1 L336.1,177.6 L332.9,176.4 L330.6,175.5Z"/>
<path fill="#dc5c1c" d="M87.1,226.1 L90.7,228.3 L95.8,231.4 L101.7,234.9 L108.0,238.8 L114.3,242.6 L119.8,246.0 L124.7,249.3 L129.6,252.9 L134.6,256.6 L139.8,260.3 L145.2,263.8 L150.9,266.7 L156.7,269.1 L162.4,271.1 L168.1,272.6 L173.8,273.7 L179.5,274.4 L185.0,274.7 L190.5,274.4 L195.9,273.6 L201.1,272.4 L206.1,270.7 L210.8,268.7 L215.3,266.1 L219.6,262.9 L223.2,259.1 L226.0,255.4 L228.4,251.9 L230.5,248.9 L232.8,246.0 L235.3,242.7 L237.8,239.1 L240.1,235.9 L242.1,233.3 L243.9,231.4 L245.4,230.2 L247.0,229.4 L249.1,228.7 L251.4,228.1 L254.0,227.8 L256.6,227.7 L259.3,227.8 L261.8,228.1 L264.3,228.6 L266.8,229.4 L269.3,230.3 L271.9,231.6 L274.4,233.2 L277.0,235.1 L279.7,237.5 L282.5,240.4 L285.6,243.8 L289.0,247.6 L292.5,251.6 L296.3,255.9 L300.3,260.6 L304.5,265.7 L308.7,271.0 L313.0,276.2 L317.3,281.4 L321.4,286.3 L325.4,291.2 L329.5,296.1 L333.6,301.1 L337.8,306.2 L342.2,311.4 L346.7,317.0 L351.5,323.1 L356.5,329.6 L361.8,336.1 L367.5,342.3 L373.5,347.8 L379.7,352.5 L386.1,356.6 L392.6,360.2 L399.2,363.2 L405.7,365.8 L412.2,367.9 L418.7,369.4 L425.2,370.5 L431.7,371.0 L438.1,371.1 L444.5,370.8 L451.1,370.2 L458.0,369.4 L465.5,368.3 L473.1,366.8 L480.9,364.8 L488.4,362.4 L495.7,359.3 L502.4,355.4 L508.5,350.9 L514.1,346.1 L519.2,341.2 L523.8,336.4 L528.0,331.7 L532.0,326.6 L535.5,321.2 L538.5,315.9 L541.0,311.3 L542.8,307.6 L544.2,305.0 L525.8,295.0 L524.2,297.9 L522.3,301.7 L520.1,305.9 L517.6,310.3 L515.0,314.5 L512.0,318.3 L508.4,322.3 L504.4,326.6 L500.1,330.7 L495.6,334.6 L491.0,338.0 L486.3,340.7 L481.1,343.0 L475.1,344.9 L468.6,346.6 L461.9,347.9 L455.2,349.0 L448.9,349.8 L443.1,350.3 L437.7,350.5 L432.6,350.5 L427.7,350.1 L422.8,349.3 L417.8,348.1 L412.5,346.5 L407.1,344.4 L401.8,341.9 L396.5,339.1 L391.4,335.8 L386.5,332.2 L381.8,327.9 L377.1,322.8 L372.3,316.9 L367.4,310.7 L362.6,304.5 L357.8,298.6 L353.3,293.2 L349.0,288.2 L344.9,283.3 L340.9,278.4 L336.8,273.5 L332.7,268.6 L328.5,263.5 L324.2,258.3 L319.9,253.0 L315.6,247.9 L311.4,242.9 L307.5,238.4 L303.8,234.3 L300.3,230.4 L296.9,226.7 L293.3,223.2 L289.6,219.8 L285.6,216.8 L281.5,214.3 L277.3,212.3 L273.2,210.6 L269.0,209.4 L264.8,208.6 L260.7,208.2 L256.6,208.0 L252.3,208.2 L248.0,208.8 L243.5,209.8 L239.1,211.4 L234.6,213.8 L230.6,217.0 L227.1,220.6 L224.3,224.3 L221.8,227.8 L219.6,231.0 L217.2,234.0 L214.7,237.4 L212.3,240.9 L210.2,244.0 L208.3,246.5 L206.5,248.4 L204.7,249.9 L202.2,251.2 L199.1,252.6 L195.8,253.7 L192.2,254.6 L188.6,255.1 L185.0,255.3 L181.1,255.1 L176.9,254.6 L172.5,253.8 L168.0,252.6 L163.4,251.0 L159.1,249.3 L154.8,247.1 L150.5,244.3 L145.8,241.0 L140.9,237.4 L135.7,233.6 L130.2,230.0 L124.3,226.3 L118.0,222.4 L111.5,218.6 L105.5,215.0 L100.5,212.0 L96.9,209.9Z"/>
<path fill="#f47a32" d="M88.7,223.5 L92.3,225.7 L97.3,228.7 L103.3,232.3 L109.6,236.1 L115.9,240.0 L121.5,243.5 L126.4,246.8 L131.4,250.4 L136.4,254.1 L141.5,257.7 L146.8,261.1 L152.2,263.9 L157.8,266.2 L163.3,268.1 L168.8,269.6 L174.3,270.7 L179.7,271.4 L185.0,271.6 L190.2,271.3 L195.3,270.6 L200.3,269.4 L205.0,267.8 L209.4,265.9 L213.6,263.5 L217.5,260.6 L220.8,257.1 L223.5,253.6 L225.8,250.2 L228.0,247.0 L230.3,244.0 L232.8,240.8 L235.3,237.3 L237.5,234.1 L239.7,231.3 L241.7,229.1 L243.6,227.6 L245.7,226.5 L248.2,225.6 L250.9,225.0 L253.7,224.7 L256.6,224.6 L259.5,224.7 L262.3,225.0 L265.1,225.6 L267.8,226.4 L270.6,227.4 L273.4,228.8 L276.2,230.6 L279.0,232.7 L281.8,235.2 L284.8,238.2 L288.0,241.6 L291.3,245.4 L294.9,249.5 L298.7,253.8 L302.8,258.6 L306.9,263.7 L311.2,268.9 L315.5,274.2 L319.8,279.3 L323.9,284.3 L327.9,289.2 L331.9,294.1 L336.0,299.0 L340.3,304.1 L344.7,309.4 L349.3,315.0 L354.0,321.1 L359.0,327.6 L364.2,333.9 L369.8,340.0 L375.6,345.3 L381.6,349.9 L387.8,353.8 L394.1,357.3 L400.4,360.2 L406.8,362.7 L413.1,364.7 L419.4,366.2 L425.6,367.2 L431.8,367.7 L438.0,367.8 L444.3,367.5 L450.7,367.0 L457.6,366.1 L464.9,365.0 L472.4,363.5 L480.0,361.7 L487.3,359.3 L494.2,356.3 L500.5,352.6 L506.5,348.3 L511.9,343.7 L516.9,338.9 L521.3,334.1 L525.4,329.6 L529.3,324.7 L532.7,319.4 L535.6,314.3 L538.0,309.7 L539.9,306.0 L541.3,303.4 L526.5,295.4 L525.0,298.3 L523.0,302.1 L520.8,306.3 L518.4,310.7 L515.6,315.0 L512.6,318.8 L509.1,322.8 L505.0,327.1 L500.7,331.4 L496.1,335.3 L491.5,338.7 L486.7,341.5 L481.4,343.7 L475.4,345.7 L468.8,347.4 L462.0,348.8 L455.3,349.8 L449.0,350.6 L443.2,351.1 L437.7,351.4 L432.6,351.3 L427.6,350.9 L422.6,350.2 L417.5,348.9 L412.2,347.2 L406.8,345.2 L401.4,342.7 L396.1,339.8 L390.9,336.5 L386.0,332.8 L381.3,328.5 L376.5,323.3 L371.6,317.4 L366.8,311.2 L361.9,305.0 L357.2,299.1 L352.6,293.8 L348.4,288.7 L344.3,283.8 L340.3,278.9 L336.2,274.0 L332.1,269.1 L327.9,264.0 L323.6,258.8 L319.3,253.5 L315.0,248.4 L310.8,243.4 L306.9,238.9 L303.2,234.9 L299.7,231.0 L296.3,227.3 L292.8,223.7 L289.1,220.4 L285.1,217.5 L281.1,215.0 L277.0,213.0 L272.9,211.4 L268.8,210.2 L264.7,209.4 L260.7,209.0 L256.6,208.8 L252.4,209.0 L248.1,209.5 L243.7,210.5 L239.4,212.1 L235.1,214.4 L231.1,217.6 L227.7,221.1 L224.9,224.8 L222.5,228.3 L220.2,231.5 L217.9,234.5 L215.3,237.9 L213.0,241.3 L210.8,244.4 L208.9,247.0 L207.1,249.0 L205.1,250.5 L202.5,251.9 L199.4,253.3 L196.0,254.5 L192.4,255.3 L188.7,255.9 L185.0,256.1 L181.0,255.9 L176.8,255.4 L172.3,254.5 L167.8,253.3 L163.2,251.8 L158.7,250.0 L154.5,247.7 L150.0,245.0 L145.4,241.7 L140.4,238.0 L135.2,234.3 L129.8,230.6 L123.9,227.0 L117.6,223.1 L111.1,219.2 L105.2,215.7 L100.1,212.7 L96.5,210.5Z"/>
<path fill="#ff9a58" d="M92.4,217.3 L96.0,219.5 L101.1,222.5 L107.0,226.1 L113.4,229.9 L119.7,233.8 L125.4,237.4 L130.6,240.9 L135.7,244.5 L140.6,248.2 L145.5,251.7 L150.4,254.8 L155.3,257.3 L160.3,259.4 L165.4,261.1 L170.5,262.4 L175.5,263.4 L180.4,264.0 L185.0,264.2 L189.5,264.0 L193.9,263.3 L198.2,262.3 L202.3,260.9 L206.1,259.3 L209.6,257.3 L212.6,255.1 L215.1,252.3 L217.5,249.2 L219.7,246.0 L222.0,242.7 L224.4,239.5 L226.8,236.4 L229.2,233.0 L231.6,229.7 L234.0,226.5 L236.7,223.6 L239.6,221.3 L242.7,219.7 L246.1,218.5 L249.5,217.7 L253.1,217.2 L256.6,217.1 L260.1,217.2 L263.5,217.6 L266.9,218.3 L270.3,219.3 L273.7,220.6 L277.1,222.3 L280.4,224.3 L283.8,226.9 L287.0,229.8 L290.3,233.0 L293.6,236.6 L297.0,240.4 L300.6,244.5 L304.5,248.9 L308.6,253.7 L312.8,258.9 L317.1,264.1 L321.4,269.4 L325.6,274.5 L329.7,279.4 L333.8,284.3 L337.8,289.2 L341.9,294.1 L346.2,299.2 L350.6,304.5 L355.3,310.2 L360.1,316.4 L365.0,322.7 L370.1,328.9 L375.2,334.5 L380.5,339.4 L386.0,343.5 L391.7,347.2 L397.6,350.3 L403.5,353.1 L409.4,355.4 L415.2,357.2 L420.9,358.6 L426.5,359.5 L432.2,359.9 L437.9,360.0 L443.8,359.7 L449.9,359.2 L456.5,358.4 L463.5,357.3 L470.7,355.9 L477.8,354.1 L484.5,351.9 L490.6,349.3 L496.2,346.0 L501.6,342.1 L506.6,337.8 L511.2,333.3 L515.5,328.8 L519.4,324.5 L522.8,320.1 L525.9,315.3 L528.6,310.5 L530.9,306.1 L532.8,302.3 L534.3,299.6 L529.1,296.8 L527.6,299.6 L525.7,303.4 L523.4,307.7 L520.9,312.3 L518.0,316.7 L514.9,320.7 L511.2,324.8 L507.1,329.2 L502.6,333.5 L497.9,337.6 L493.1,341.1 L488.0,344.1 L482.5,346.5 L476.2,348.5 L469.4,350.2 L462.5,351.6 L455.7,352.7 L449.3,353.4 L443.4,354.0 L437.8,354.2 L432.4,354.2 L427.2,353.8 L422.1,353.0 L416.8,351.7 L411.3,349.9 L405.7,347.8 L400.1,345.2 L394.6,342.2 L389.3,338.8 L384.2,335.0 L379.3,330.5 L374.3,325.2 L369.4,319.2 L364.6,313.0 L359.7,306.7 L355.0,300.9 L350.5,295.6 L346.2,290.5 L342.1,285.6 L338.1,280.7 L334.0,275.8 L329.9,270.9 L325.7,265.8 L321.4,260.6 L317.1,255.3 L312.9,250.2 L308.7,245.3 L304.8,240.8 L301.1,236.7 L297.7,232.8 L294.3,229.2 L290.9,225.7 L287.3,222.6 L283.6,219.8 L279.7,217.4 L275.9,215.5 L272.0,214.0 L268.2,212.9 L264.3,212.1 L260.5,211.7 L256.6,211.6 L252.6,211.7 L248.6,212.2 L244.5,213.2 L240.5,214.6 L236.6,216.7 L232.9,219.6 L229.8,222.9 L227.1,226.4 L224.7,229.9 L222.4,233.1 L220.0,236.2 L217.5,239.5 L215.2,242.9 L213.1,246.0 L211.0,248.8 L208.9,251.0 L206.6,252.8 L203.7,254.4 L200.4,255.9 L196.7,257.1 L192.9,258.0 L189.0,258.6 L185.0,258.8 L180.8,258.6 L176.4,258.1 L171.7,257.2 L167.0,255.9 L162.2,254.3 L157.6,252.4 L153.1,250.1 L148.5,247.2 L143.8,243.8 L138.8,240.2 L133.7,236.5 L128.3,232.9 L122.5,229.2 L116.2,225.4 L109.8,221.5 L103.8,218.0 L98.7,215.0 L95.1,212.8Z"/>
<path fill="#dc5c1c" d="M876.1,291.4 L871.8,288.8 L865.8,285.1 L858.7,280.8 L851.1,276.2 L843.5,271.5 L836.4,267.2 L829.9,263.0 L823.3,258.8 L816.6,254.5 L810.0,250.3 L803.3,246.0 L796.6,241.8 L789.9,237.8 L783.3,233.6 L776.5,229.6 L769.7,225.5 L762.8,221.7 L755.9,218.1 L749.0,214.7 L742.2,211.6 L735.2,208.5 L728.2,205.8 L721.2,203.2 L714.0,201.0 L706.9,199.2 L699.7,197.7 L692.7,196.4 L685.6,195.5 L678.6,194.8 L671.6,194.3 L664.6,194.0 L657.6,193.9 L650.5,194.0 L643.3,194.4 L636.2,195.1 L629.0,196.2 L621.8,197.5 L614.5,199.2 L607.2,201.1 L600.0,203.3 L592.9,205.9 L585.9,208.8 L579.2,212.0 L572.5,215.5 L566.0,219.3 L559.6,223.4 L553.5,227.8 L547.7,232.5 L542.3,237.4 L537.3,242.5 L532.6,247.9 L528.2,253.4 L524.1,259.1 L520.2,264.9 L516.3,270.9 L512.5,277.1 L508.7,283.7 L505.2,290.7 L502.0,298.3 L499.3,306.3 L497.1,314.7 L495.5,323.3 L494.3,332.1 L493.4,341.1 L492.8,350.3 L492.4,359.7 L492.3,369.5 L492.5,379.7 L493.0,389.9 L493.6,400.3 L494.3,410.6 L494.9,421.0 L495.6,431.7 L496.3,442.7 L497.1,453.9 L497.9,465.1 L498.7,475.9 L499.5,486.2 L500.3,496.7 L501.2,507.4 L502.1,517.9 L502.9,527.5 L503.6,535.5 L504.1,541.4 L533.9,538.6 L533.3,532.7 L532.5,524.7 L531.6,515.2 L530.5,504.8 L529.5,494.1 L528.5,483.8 L527.6,473.5 L526.6,462.7 L525.7,451.7 L524.7,440.6 L523.9,429.7 L523.1,419.0 L522.3,408.6 L521.4,398.3 L520.6,388.2 L520.0,378.5 L519.7,369.2 L519.6,360.3 L519.9,351.6 L520.3,343.2 L521.0,335.1 L521.9,327.5 L523.2,320.3 L524.7,313.7 L526.7,307.5 L529.1,301.6 L531.9,295.8 L535.0,290.2 L538.3,284.6 L541.8,279.1 L545.3,273.8 L548.8,268.8 L552.4,264.1 L556.1,259.7 L560.1,255.5 L564.3,251.5 L568.9,247.7 L573.9,244.0 L579.2,240.5 L584.7,237.1 L590.4,234.0 L596.1,231.2 L601.9,228.7 L607.9,226.4 L614.1,224.4 L620.5,222.6 L626.8,221.1 L633.0,219.8 L639.2,218.8 L645.3,218.2 L651.5,217.7 L657.8,217.5 L664.1,217.5 L670.4,217.7 L676.8,218.0 L683.1,218.6 L689.3,219.3 L695.6,220.3 L701.8,221.5 L708.0,223.0 L714.2,224.8 L720.4,226.9 L726.8,229.3 L733.2,232.0 L739.6,234.9 L746.1,237.9 L752.5,241.1 L758.9,244.6 L765.5,248.3 L772.1,252.2 L778.8,256.2 L785.4,260.2 L792.1,264.1 L798.7,268.2 L805.4,272.3 L812.1,276.5 L818.8,280.7 L825.6,284.8 L832.8,289.1 L840.6,293.7 L848.3,298.3 L855.5,302.5 L861.5,306.0 L865.9,308.6Z"/>
<path fill="#f47a32" d="M874.5,294.2 L870.1,291.5 L864.1,287.9 L857.0,283.6 L849.4,279.0 L841.8,274.3 L834.7,270.0 L828.1,265.9 L821.5,261.6 L814.8,257.4 L808.2,253.1 L801.5,248.9 L794.8,244.8 L788.1,240.7 L781.5,236.6 L774.8,232.6 L768.0,228.6 L761.2,224.8 L754.3,221.3 L747.5,218.0 L740.7,214.8 L733.9,211.9 L727.0,209.1 L720.0,206.7 L713.1,204.5 L706.1,202.7 L699.1,201.3 L692.1,200.1 L685.2,199.2 L678.3,198.5 L671.4,198.1 L664.5,197.8 L657.6,197.7 L650.6,197.8 L643.7,198.2 L636.6,198.9 L629.6,200.0 L622.6,201.3 L615.5,202.9 L608.3,204.8 L601.3,207.0 L594.3,209.5 L587.6,212.4 L581.0,215.5 L574.4,218.9 L568.1,222.7 L561.9,226.7 L556.0,231.0 L550.4,235.5 L545.1,240.3 L540.3,245.3 L535.8,250.5 L531.5,255.9 L527.5,261.5 L523.6,267.2 L519.8,273.1 L516.1,279.2 L512.4,285.6 L509.0,292.5 L505.9,299.8 L503.3,307.5 L501.3,315.6 L499.7,324.0 L498.5,332.6 L497.7,341.5 L497.1,350.5 L496.7,359.8 L496.6,369.5 L496.9,379.5 L497.4,389.6 L498.1,399.9 L498.8,410.3 L499.4,420.7 L500.1,431.3 L500.9,442.4 L501.7,453.6 L502.5,464.7 L503.3,475.5 L504.1,485.8 L505.0,496.3 L505.9,507.0 L506.8,517.5 L507.6,527.1 L508.3,535.1 L508.8,540.9 L532.7,538.7 L532.2,532.9 L531.3,524.8 L530.4,515.3 L529.4,504.9 L528.3,494.2 L527.4,483.9 L526.4,473.6 L525.5,462.8 L524.5,451.8 L523.6,440.7 L522.7,429.7 L521.9,419.1 L521.1,408.7 L520.3,398.3 L519.5,388.3 L518.9,378.5 L518.6,369.2 L518.5,360.3 L518.8,351.5 L519.2,343.1 L519.9,335.0 L520.9,327.3 L522.1,320.1 L523.7,313.4 L525.7,307.1 L528.1,301.1 L531.0,295.4 L534.1,289.7 L537.5,284.1 L541.0,278.5 L544.5,273.2 L548.0,268.2 L551.6,263.4 L555.4,259.0 L559.4,254.8 L563.6,250.8 L568.3,246.9 L573.3,243.2 L578.6,239.6 L584.2,236.3 L589.9,233.1 L595.7,230.3 L601.5,227.8 L607.6,225.5 L613.9,223.5 L620.2,221.7 L626.6,220.1 L632.9,218.9 L639.1,217.9 L645.2,217.2 L651.5,216.8 L657.8,216.6 L664.1,216.6 L670.5,216.7 L676.8,217.1 L683.2,217.6 L689.5,218.4 L695.8,219.4 L702.0,220.6 L708.2,222.1 L714.4,223.9 L720.7,226.1 L727.1,228.5 L733.5,231.2 L740.0,234.1 L746.5,237.1 L752.9,240.3 L759.4,243.8 L765.9,247.6 L772.5,251.5 L779.2,255.4 L785.9,259.4 L792.5,263.4 L799.1,267.5 L805.8,271.6 L812.5,275.8 L819.3,280.0 L826.0,284.1 L833.2,288.4 L841.0,293.0 L848.7,297.6 L855.9,301.8 L861.9,305.3 L866.3,307.9Z"/>
<path fill="#ff9a58" d="M870.6,300.7 L866.2,298.1 L860.2,294.5 L853.1,290.3 L845.4,285.7 L837.7,281.0 L830.6,276.7 L823.9,272.6 L817.2,268.4 L810.5,264.1 L803.9,259.9 L797.2,255.8 L790.6,251.7 L783.9,247.7 L777.2,243.7 L770.6,239.7 L763.9,235.8 L757.3,232.2 L750.6,228.8 L744.0,225.6 L737.3,222.6 L730.7,219.8 L724.0,217.2 L717.4,214.9 L710.8,212.9 L704.1,211.2 L697.5,209.9 L690.9,208.8 L684.2,208.0 L677.6,207.4 L671.0,206.9 L664.3,206.7 L657.7,206.6 L651.0,206.8 L644.4,207.2 L637.8,207.9 L631.2,208.9 L624.5,210.2 L617.7,211.8 L611.0,213.7 L604.3,215.8 L597.7,218.2 L591.4,220.9 L585.2,223.9 L579.1,227.2 L573.1,230.7 L567.3,234.5 L561.8,238.6 L556.7,242.8 L551.9,247.2 L547.5,251.8 L543.3,256.6 L539.3,261.7 L535.6,267.0 L531.9,272.6 L528.2,278.3 L524.6,284.2 L521.2,290.2 L518.1,296.6 L515.3,303.2 L513.0,310.3 L511.2,317.7 L509.8,325.6 L508.7,333.7 L507.9,342.2 L507.4,351.0 L507.1,360.0 L507.1,369.3 L507.4,379.0 L507.9,389.0 L508.6,399.2 L509.4,409.5 L510.1,419.9 L510.8,430.6 L511.7,441.6 L512.5,452.7 L513.4,463.8 L514.3,474.6 L515.2,484.9 L516.1,495.3 L517.0,506.0 L518.0,516.5 L518.9,526.0 L519.6,534.0 L520.2,539.9 L528.6,539.1 L528.0,533.2 L527.2,525.2 L526.3,515.7 L525.2,505.3 L524.2,494.6 L523.3,484.2 L522.4,473.9 L521.5,463.1 L520.5,452.1 L519.6,441.0 L518.8,430.0 L518.0,419.4 L517.2,409.0 L516.4,398.6 L515.7,388.5 L515.1,378.7 L514.7,369.2 L514.7,360.2 L515.0,351.4 L515.5,342.8 L516.2,334.6 L517.2,326.7 L518.5,319.3 L520.2,312.3 L522.3,305.8 L524.8,299.6 L527.7,293.7 L530.9,287.8 L534.4,282.1 L537.9,276.5 L541.5,271.1 L545.1,266.0 L548.8,261.2 L552.7,256.6 L556.9,252.2 L561.3,248.1 L566.1,244.1 L571.3,240.3 L576.8,236.6 L582.5,233.2 L588.3,230.1 L594.2,227.2 L600.3,224.6 L606.5,222.3 L612.9,220.2 L619.4,218.4 L625.9,216.8 L632.3,215.6 L638.6,214.6 L645.0,213.9 L651.3,213.4 L657.7,213.3 L664.2,213.3 L670.6,213.5 L677.1,213.9 L683.5,214.4 L689.9,215.2 L696.3,216.2 L702.7,217.5 L709.1,219.0 L715.4,220.9 L721.8,223.1 L728.3,225.6 L734.8,228.3 L741.3,231.3 L747.9,234.3 L754.4,237.6 L760.9,241.2 L767.5,244.9 L774.1,248.9 L780.8,252.9 L787.4,256.9 L794.1,260.9 L800.7,265.0 L807.4,269.1 L814.1,273.3 L820.8,277.5 L827.5,281.6 L834.7,286.0 L842.4,290.6 L850.2,295.1 L857.3,299.4 L863.4,302.9 L867.7,305.5Z"/>
<path fill="#dc5c1c" d="M452.4,253.3 L447.9,252.0 L441.6,250.1 L434.0,247.9 L425.9,245.7 L418.1,243.8 L411.2,242.5 L405.3,242.1 L400.2,242.2 L395.6,242.7 L391.4,243.5 L387.3,244.4 L382.8,245.4 L377.4,246.6 L371.4,248.0 L365.1,249.5 L358.7,251.3 L352.4,253.3 L346.4,255.4 L340.9,257.4 L335.9,259.6 L330.9,261.8 L325.9,264.4 L320.5,267.3 L314.5,270.8 L307.7,274.7 L300.0,279.2 L291.8,284.1 L283.5,289.5 L275.2,295.3 L267.5,301.4 L260.4,307.8 L253.8,314.5 L247.6,321.4 L241.7,328.5 L236.0,335.6 L230.4,342.7 L224.8,349.8 L219.4,357.1 L214.1,364.6 L208.8,372.3 L203.7,380.4 L198.8,388.8 L194.0,397.7 L189.3,406.8 L184.9,416.2 L180.5,425.7 L176.4,435.4 L172.4,445.1 L168.4,455.1 L164.5,465.5 L160.8,476.0 L157.3,486.5 L154.0,496.6 L151.1,506.2 L148.5,515.9 L146.2,525.7 L144.3,535.0 L142.6,543.3 L141.3,550.2 L140.3,555.2 L169.7,560.8 L170.7,555.6 L171.8,548.7 L173.2,540.5 L174.9,531.7 L176.7,522.6 L178.9,513.8 L181.4,504.7 L184.2,494.9 L187.3,484.8 L190.7,474.6 L194.1,464.6 L197.6,454.9 L201.3,445.5 L205.0,436.2 L208.9,427.0 L212.9,418.0 L217.0,409.4 L221.2,401.2 L225.6,393.3 L230.0,385.8 L234.7,378.5 L239.5,371.4 L244.5,364.4 L249.6,357.3 L254.9,350.3 L260.2,343.4 L265.5,336.7 L271.0,330.3 L276.6,324.3 L282.5,318.6 L289.0,313.2 L296.2,307.9 L303.8,302.8 L311.4,297.9 L318.8,293.3 L325.5,289.2 L331.1,285.8 L336.0,283.0 L340.3,280.7 L344.5,278.6 L348.9,276.6 L353.6,274.6 L359.0,272.7 L364.6,270.7 L370.5,269.0 L376.4,267.3 L382.0,265.9 L387.2,264.6 L391.8,263.5 L395.6,262.5 L398.8,261.8 L401.6,261.4 L404.8,261.3 L408.8,261.5 L414.4,262.3 L421.5,263.8 L429.1,265.7 L436.6,267.7 L443.0,269.5 L447.6,270.7Z"/>
<path fill="#f47a32" d="M451.6,256.1 L447.1,254.8 L440.8,252.9 L433.2,250.7 L425.2,248.6 L417.5,246.7 L410.8,245.6 L405.2,245.1 L400.4,245.2 L396.1,245.7 L392.1,246.5 L388.1,247.5 L383.5,248.5 L378.1,249.6 L372.2,251.0 L366.0,252.7 L359.6,254.4 L353.4,256.4 L347.5,258.4 L342.2,260.5 L337.2,262.6 L332.4,264.9 L327.5,267.4 L322.2,270.3 L316.3,273.7 L309.5,277.7 L301.9,282.2 L293.8,287.1 L285.5,292.4 L277.4,298.1 L269.9,304.1 L263.0,310.4 L256.6,317.0 L250.5,323.9 L244.6,330.9 L239.0,337.9 L233.4,345.0 L228.0,352.2 L222.6,359.4 L217.4,366.8 L212.2,374.5 L207.2,382.5 L202.4,390.8 L197.7,399.5 L193.1,408.6 L188.7,417.9 L184.5,427.4 L180.4,437.0 L176.4,446.7 L172.5,456.6 L168.7,467.0 L165.0,477.4 L161.6,487.8 L158.4,497.9 L155.6,507.4 L153.0,517.0 L150.8,526.6 L148.9,535.9 L147.3,544.2 L146.0,551.1 L145.0,556.1 L168.6,560.6 L169.5,555.4 L170.7,548.5 L172.1,540.3 L173.7,531.4 L175.6,522.3 L177.8,513.5 L180.3,504.4 L183.1,494.6 L186.3,484.5 L189.6,474.3 L193.1,464.2 L196.6,454.5 L200.3,445.1 L204.0,435.7 L207.9,426.5 L211.9,417.6 L216.1,408.9 L220.3,400.7 L224.7,392.8 L229.2,385.3 L233.9,378.0 L238.7,370.8 L243.7,363.8 L248.9,356.7 L254.1,349.7 L259.4,342.8 L264.8,336.1 L270.3,329.7 L276.0,323.6 L281.9,317.9 L288.4,312.5 L295.6,307.2 L303.3,302.0 L311.0,297.1 L318.4,292.6 L325.0,288.5 L330.7,285.1 L335.6,282.3 L339.9,279.9 L344.2,277.8 L348.5,275.9 L353.4,273.9 L358.7,271.9 L364.4,270.0 L370.3,268.2 L376.2,266.5 L381.8,265.1 L387.0,263.8 L391.6,262.7 L395.5,261.7 L398.6,261.0 L401.6,260.6 L404.9,260.5 L408.9,260.7 L414.6,261.5 L421.6,263.1 L429.3,265.0 L436.8,267.0 L443.2,268.8 L447.8,270.0Z"/>
<path fill="#ff9a58" d="M449.8,262.7 L445.3,261.5 L438.9,259.6 L431.4,257.5 L423.5,255.5 L416.1,253.8 L409.9,252.8 L405.1,252.4 L401.0,252.5 L397.3,253.0 L393.7,253.8 L389.8,254.7 L385.2,255.8 L379.9,257.0 L374.1,258.4 L368.0,260.0 L361.9,261.8 L355.9,263.7 L350.3,265.8 L345.2,267.8 L340.5,269.8 L336.0,272.0 L331.3,274.4 L326.2,277.3 L320.4,280.7 L313.7,284.8 L306.2,289.3 L298.3,294.2 L290.3,299.4 L282.6,305.0 L275.6,310.7 L269.2,316.7 L263.1,323.0 L257.3,329.7 L251.7,336.5 L246.2,343.5 L240.8,350.6 L235.4,357.7 L230.2,364.8 L225.2,372.1 L220.3,379.6 L215.5,387.4 L210.9,395.5 L206.4,404.0 L202.1,412.9 L197.8,422.0 L193.8,431.3 L189.8,440.8 L186.0,450.4 L182.3,460.2 L178.6,470.4 L175.1,480.8 L171.8,491.0 L168.8,501.0 L166.1,510.3 L163.8,519.5 L161.7,528.9 L159.9,538.0 L158.4,546.2 L157.1,553.1 L156.2,558.2 L164.4,559.8 L165.4,554.7 L166.6,547.7 L168.0,539.5 L169.7,530.6 L171.7,521.4 L173.9,512.4 L176.4,503.2 L179.4,493.4 L182.6,483.3 L186.0,473.0 L189.5,462.9 L193.1,453.1 L196.8,443.7 L200.6,434.3 L204.6,425.0 L208.6,416.0 L212.9,407.3 L217.2,398.9 L221.6,391.0 L226.2,383.4 L231.0,376.0 L235.9,368.8 L240.9,361.7 L246.2,354.7 L251.5,347.6 L256.9,340.7 L262.3,333.9 L267.9,327.5 L273.7,321.3 L279.8,315.5 L286.5,310.0 L293.9,304.6 L301.6,299.4 L309.4,294.5 L316.8,290.0 L323.5,285.9 L329.2,282.5 L334.2,279.7 L338.6,277.3 L343.0,275.2 L347.4,273.2 L352.3,271.2 L357.8,269.2 L363.6,267.3 L369.5,265.5 L375.5,263.8 L381.1,262.4 L386.4,261.1 L391.0,260.0 L394.9,259.1 L398.2,258.4 L401.4,257.9 L404.9,257.8 L409.3,258.1 L415.1,259.0 L422.3,260.5 L430.0,262.5 L437.5,264.6 L443.9,266.3 L448.5,267.6Z"/>
<path fill="#1426cc" d="M56.9,455.1 L64.3,455.1 L74.6,455.3 L86.9,455.5 L100.0,455.5 L113.2,455.4 L125.3,454.9 L136.6,454.2 L147.7,453.2 L158.8,452.0 L169.7,450.7 L180.4,449.3 L191.0,447.7 L201.4,446.2 L211.9,444.5 L222.1,442.6 L232.2,440.7 L242.1,438.7 L251.5,436.5 L260.5,434.3 L269.1,432.1 L277.5,429.7 L285.8,427.2 L294.0,424.3 L302.4,421.1 L311.0,417.6 L319.7,413.7 L328.5,409.6 L337.1,405.2 L345.6,400.4 L353.6,395.4 L361.3,389.9 L368.7,384.0 L375.8,377.8 L382.6,371.5 L388.8,365.3 L394.6,359.4 L399.9,353.6 L404.6,348.0 L408.8,342.4 L412.7,336.8 L416.5,331.2 L420.3,325.4 L424.1,319.4 L427.8,313.3 L431.4,307.1 L434.9,300.7 L438.3,294.3 L441.6,287.7 L444.8,280.9 L447.8,273.9 L450.8,266.8 L453.6,259.8 L456.2,252.8 L458.7,246.1 L461.1,239.6 L463.3,233.3 L465.3,227.1 L467.3,220.9 L469.1,214.7 L470.8,208.6 L472.5,202.4 L474.1,196.2 L475.5,190.0 L476.9,183.8 L478.0,177.7 L478.9,171.8 L479.5,165.6 L479.8,159.4 L479.9,153.3 L479.9,147.8 L479.9,143.3 L479.9,140.0 L468.1,140.0 L468.1,143.3 L468.1,147.9 L468.1,153.2 L468.0,158.9 L467.6,164.7 L467.1,170.2 L466.2,175.7 L465.1,181.4 L463.8,187.3 L462.4,193.3 L460.8,199.4 L459.2,205.4 L457.5,211.4 L455.7,217.3 L453.8,223.3 L451.8,229.4 L449.6,235.5 L447.3,241.9 L444.8,248.5 L442.1,255.3 L439.4,262.2 L436.5,269.0 L433.5,275.8 L430.4,282.3 L427.2,288.6 L424.0,294.8 L420.6,300.9 L417.1,306.9 L413.5,312.8 L409.7,318.6 L406.0,324.2 L402.3,329.6 L398.6,334.9 L394.6,340.0 L390.3,345.3 L385.4,350.6 L379.8,356.3 L373.7,362.3 L367.3,368.2 L360.5,374.0 L353.5,379.6 L346.4,384.6 L338.9,389.3 L331.0,393.7 L322.8,397.9 L314.3,401.8 L305.9,405.5 L297.6,408.9 L289.5,411.9 L281.7,414.6 L273.8,417.0 L265.7,419.2 L257.3,421.4 L248.5,423.5 L239.2,425.6 L229.6,427.5 L219.7,429.4 L209.6,431.1 L199.4,432.7 L189.0,434.3 L178.6,435.7 L168.0,437.1 L157.2,438.4 L146.4,439.5 L135.5,440.4 L124.7,441.1 L112.9,441.4 L100.0,441.5 L87.0,441.4 L74.9,441.2 L64.5,441.0 L57.1,440.9Z"/>
<path fill="#1d35ee" d="M56.9,452.8 L64.4,452.9 L74.7,453.0 L86.9,453.2 L100.0,453.3 L113.2,453.1 L125.2,452.7 L136.4,452.0 L147.5,451.0 L158.5,449.8 L169.4,448.5 L180.1,447.1 L190.7,445.6 L201.1,444.0 L211.5,442.3 L221.8,440.5 L231.8,438.6 L241.6,436.6 L251.0,434.4 L260.0,432.3 L268.6,430.0 L276.9,427.7 L285.1,425.2 L293.3,422.3 L301.6,419.2 L310.2,415.6 L318.9,411.8 L327.6,407.7 L336.2,403.3 L344.5,398.7 L352.4,393.7 L360.1,388.2 L367.4,382.4 L374.5,376.3 L381.2,370.0 L387.4,363.9 L393.1,358.0 L398.3,352.3 L403.0,346.7 L407.2,341.2 L411.0,335.7 L414.8,330.1 L418.6,324.3 L422.4,318.4 L426.1,312.3 L429.7,306.1 L433.2,299.8 L436.5,293.4 L439.8,286.8 L443.0,280.1 L446.0,273.1 L448.9,266.1 L451.7,259.0 L454.4,252.1 L456.9,245.4 L459.2,239.0 L461.4,232.7 L463.5,226.5 L465.4,220.3 L467.2,214.2 L469.0,208.1 L470.6,201.9 L472.2,195.7 L473.7,189.5 L475.0,183.4 L476.1,177.4 L477.0,171.5 L477.6,165.5 L477.9,159.3 L478.0,153.3 L478.0,147.8 L478.0,143.3 L478.0,140.0 L468.6,140.0 L468.5,143.3 L468.6,147.9 L468.5,153.2 L468.4,159.0 L468.1,164.8 L467.6,170.3 L466.7,175.8 L465.6,181.5 L464.3,187.4 L462.9,193.4 L461.3,199.5 L459.6,205.5 L457.9,211.5 L456.2,217.5 L454.2,223.5 L452.2,229.5 L450.1,235.7 L447.7,242.0 L445.2,248.6 L442.6,255.5 L439.8,262.4 L436.9,269.2 L433.9,276.0 L430.9,282.5 L427.7,288.8 L424.4,295.1 L421.0,301.2 L417.5,307.2 L413.9,313.0 L410.2,318.8 L406.4,324.5 L402.7,329.9 L399.0,335.2 L395.0,340.4 L390.7,345.6 L385.7,351.0 L380.2,356.7 L374.1,362.6 L367.6,368.6 L360.8,374.4 L353.8,380.0 L346.7,385.0 L339.2,389.7 L331.2,394.2 L323.0,398.4 L314.6,402.3 L306.1,406.0 L297.8,409.4 L289.7,412.4 L281.8,415.1 L273.9,417.5 L265.8,419.8 L257.4,421.9 L248.6,424.0 L239.3,426.1 L229.7,428.0 L219.8,429.9 L209.7,431.6 L199.4,433.3 L189.1,434.8 L178.6,436.2 L168.0,437.6 L157.3,438.9 L146.5,440.0 L135.6,440.9 L124.7,441.6 L112.9,442.0 L100.0,442.1 L87.0,442.0 L74.8,441.8 L64.5,441.6 L57.1,441.5Z"/>
<path fill="#3c5aff" d="M57.0,447.4 L64.4,447.5 L74.7,447.7 L86.9,447.9 L100.0,448.0 L113.0,447.8 L125.0,447.4 L136.0,446.7 L147.0,445.8 L157.9,444.6 L168.7,443.3 L179.4,441.9 L189.9,440.5 L200.3,438.9 L210.7,437.2 L220.8,435.5 L230.8,433.6 L240.5,431.6 L249.9,429.5 L258.8,427.3 L267.3,425.2 L275.5,422.9 L283.5,420.4 L291.6,417.6 L299.8,414.5 L308.2,411.0 L316.8,407.3 L325.4,403.3 L333.8,399.0 L342.0,394.4 L349.7,389.6 L357.1,384.3 L364.3,378.6 L371.2,372.6 L377.8,366.5 L384.0,360.5 L389.6,354.7 L394.7,349.1 L399.2,343.7 L403.3,338.3 L407.1,332.9 L410.8,327.4 L414.6,321.7 L418.4,315.8 L422.0,309.9 L425.6,303.8 L429.0,297.5 L432.3,291.2 L435.6,284.8 L438.7,278.1 L441.7,271.3 L444.6,264.3 L447.4,257.3 L450.0,250.5 L452.5,243.8 L454.9,237.4 L457.1,231.2 L459.1,225.0 L461.0,219.0 L462.8,212.9 L464.5,206.9 L466.2,200.8 L467.8,194.6 L469.2,188.5 L470.5,182.5 L471.6,176.6 L472.5,170.9 L473.1,165.1 L473.4,159.1 L473.5,153.2 L473.5,147.9 L473.5,143.3 L473.5,140.0 L470.2,140.0 L470.2,143.3 L470.2,147.9 L470.2,153.2 L470.1,159.0 L469.8,164.9 L469.2,170.5 L468.4,176.0 L467.2,181.8 L465.9,187.8 L464.5,193.8 L462.9,199.9 L461.3,206.0 L459.6,212.0 L457.8,218.0 L455.9,224.0 L453.8,230.1 L451.7,236.3 L449.3,242.6 L446.8,249.3 L444.2,256.1 L441.4,263.0 L438.5,269.9 L435.5,276.7 L432.4,283.3 L429.2,289.6 L425.9,295.9 L422.5,302.0 L419.0,308.1 L415.4,314.0 L411.6,319.8 L407.9,325.5 L404.2,330.9 L400.4,336.2 L396.4,341.5 L392.0,346.8 L387.0,352.2 L381.4,357.9 L375.3,363.9 L368.8,369.9 L362.0,375.8 L354.9,381.4 L347.7,386.6 L340.1,391.3 L332.1,395.8 L323.8,400.0 L315.3,404.0 L306.8,407.7 L298.4,411.1 L290.3,414.1 L282.4,416.9 L274.4,419.3 L266.3,421.6 L257.9,423.7 L249.0,425.8 L239.7,427.9 L230.1,429.9 L220.2,431.7 L210.0,433.5 L199.7,435.1 L189.4,436.7 L178.9,438.1 L168.3,439.5 L157.5,440.8 L146.7,441.9 L135.7,442.9 L124.8,443.6 L113.0,443.9 L100.0,444.0 L87.0,443.9 L74.8,443.8 L64.5,443.6 L57.0,443.5Z"/>
<path fill="#1426cc" d="M441.5,257.5 L444.6,259.4 L448.8,262.2 L453.9,265.5 L459.5,269.1 L465.3,272.6 L470.8,275.8 L476.2,278.6 L481.4,281.2 L486.8,283.7 L492.2,286.2 L497.9,289.0 L504.0,292.0 L510.4,295.3 L517.0,298.7 L523.9,302.3 L531.2,306.3 L539.2,310.5 L547.8,315.0 L557.3,320.0 L567.6,325.4 L578.4,331.1 L589.6,337.0 L601.1,343.1 L612.7,349.2 L624.6,355.6 L636.9,362.3 L649.5,369.2 L662.2,376.2 L675.1,383.0 L687.7,389.5 L700.6,395.8 L713.6,402.0 L726.7,408.1 L739.4,413.9 L751.5,419.5 L762.8,424.8 L773.7,430.0 L784.6,435.1 L794.9,440.1 L804.2,444.5 L812.0,448.2 L817.7,450.9 L824.3,437.1 L818.5,434.4 L810.7,430.7 L801.4,426.3 L791.1,421.5 L780.2,416.3 L769.2,411.2 L757.8,406.0 L745.6,400.4 L732.8,394.7 L719.8,388.7 L706.9,382.6 L694.3,376.5 L681.7,370.1 L669.0,363.5 L656.3,356.7 L643.7,349.8 L631.3,343.2 L619.3,336.8 L607.6,330.7 L596.0,324.6 L584.8,318.8 L573.9,313.2 L563.7,307.9 L554.2,303.0 L545.5,298.4 L537.5,294.3 L530.1,290.4 L523.2,286.8 L516.5,283.3 L510.0,280.0 L503.7,276.9 L497.9,274.2 L492.4,271.7 L487.2,269.3 L482.1,266.8 L477.2,264.2 L471.9,261.3 L466.4,257.9 L460.9,254.5 L455.9,251.3 L451.6,248.5 L448.5,246.5Z"/>
<path fill="#1d35ee" d="M442.6,255.7 L445.7,257.7 L450.0,260.5 L455.1,263.7 L460.6,267.3 L466.3,270.8 L471.8,273.9 L477.1,276.7 L482.4,279.3 L487.7,281.8 L493.1,284.3 L498.8,287.0 L505.0,290.1 L511.4,293.4 L518.0,296.8 L524.9,300.4 L532.2,304.3 L540.2,308.5 L548.8,313.1 L558.3,318.1 L568.6,323.5 L579.4,329.1 L590.6,335.0 L602.1,341.1 L613.8,347.2 L625.6,353.6 L638.0,360.3 L650.6,367.2 L663.3,374.1 L676.1,380.9 L688.8,387.4 L701.6,393.7 L714.6,399.9 L727.7,405.9 L740.4,411.8 L752.5,417.4 L763.8,422.6 L774.8,427.8 L785.7,432.9 L796.0,437.9 L805.3,442.3 L813.0,446.0 L818.8,448.7 L824.0,437.6 L818.3,434.9 L810.5,431.3 L801.2,426.9 L790.8,422.0 L779.9,416.9 L768.9,411.7 L757.5,406.5 L745.3,401.0 L732.6,395.2 L719.6,389.2 L706.6,383.2 L694.0,377.0 L681.5,370.7 L668.7,364.0 L656.0,357.2 L643.4,350.3 L631.0,343.7 L619.0,337.3 L607.3,331.2 L595.8,325.1 L584.5,319.3 L573.7,313.7 L563.4,308.4 L553.9,303.4 L545.2,298.9 L537.3,294.7 L529.9,290.9 L522.9,287.3 L516.3,283.8 L509.8,280.5 L503.5,277.4 L497.6,274.7 L492.1,272.2 L486.9,269.7 L481.9,267.3 L476.9,264.7 L471.7,261.7 L466.1,258.4 L460.7,254.9 L455.6,251.7 L451.3,249.0 L448.2,247.0Z"/>
<path fill="#3c5aff" d="M445.3,251.6 L448.4,253.5 L452.7,256.3 L457.7,259.6 L463.2,263.0 L468.9,266.5 L474.3,269.5 L479.4,272.2 L484.5,274.7 L489.8,277.2 L495.3,279.7 L501.0,282.5 L507.2,285.5 L513.7,288.8 L520.3,292.3 L527.3,295.9 L534.6,299.8 L542.6,304.0 L551.3,308.5 L560.8,313.5 L571.0,318.8 L581.8,324.4 L593.1,330.3 L604.6,336.4 L616.3,342.5 L628.2,348.9 L640.5,355.6 L653.1,362.4 L665.9,369.3 L678.7,376.0 L691.3,382.5 L704.0,388.7 L717.0,394.8 L730.0,400.8 L742.7,406.6 L754.9,412.2 L766.3,417.5 L777.2,422.6 L788.1,427.7 L798.4,432.6 L807.7,437.0 L815.5,440.7 L821.3,443.4 L823.1,439.6 L817.3,436.8 L809.6,433.2 L800.3,428.8 L789.9,423.9 L779.0,418.8 L768.0,413.7 L756.7,408.4 L744.5,402.9 L731.7,397.1 L718.7,391.1 L705.8,385.0 L693.1,378.8 L680.5,372.4 L667.8,365.8 L655.1,358.9 L642.4,352.1 L630.1,345.4 L618.1,339.0 L606.4,332.9 L594.9,326.9 L583.6,321.0 L572.8,315.4 L562.5,310.1 L553.0,305.1 L544.3,300.6 L536.4,296.4 L529.0,292.6 L522.1,288.9 L515.4,285.5 L508.9,282.2 L502.7,279.1 L496.8,276.4 L491.4,273.8 L486.1,271.4 L481.1,268.9 L476.0,266.3 L470.7,263.3 L465.2,259.9 L459.7,256.5 L454.6,253.2 L450.4,250.5 L447.2,248.5Z"/>
<path fill="#1426cc" d="M202.2,232.1 L204.1,230.2 L206.6,227.6 L209.5,224.6 L212.6,221.6 L215.6,219.0 L218.3,217.0 L221.0,215.5 L223.9,214.1 L226.9,212.9 L229.8,212.0 L232.6,211.4 L235.4,211.1 L238.3,211.1 L241.3,211.3 L244.3,211.8 L247.0,212.6 L249.3,213.6 L251.0,214.8 L252.5,216.3 L253.9,218.4 L255.3,221.0 L256.5,224.2 L257.8,227.9 L258.9,231.7 L259.9,235.7 L260.7,240.2 L261.3,245.2 L262.0,250.5 L262.7,255.9 L263.7,261.3 L264.8,266.5 L266.0,271.8 L267.2,277.2 L268.6,282.5 L270.2,287.6 L271.8,292.1 L272.9,295.5 L273.5,298.5 L274.6,302.2 L276.9,306.4 L280.6,310.7 L286.0,315.4 L293.7,320.7 L303.4,326.6 L314.3,332.8 L325.6,339.2 L336.6,345.3 L346.5,351.1 L355.5,356.4 L364.2,361.5 L372.6,366.5 L380.7,371.3 L388.5,376.2 L395.9,381.0 L403.1,386.1 L410.0,391.2 L416.7,396.5 L423.2,401.6 L429.5,406.5 L435.6,411.1 L441.7,415.4 L447.6,419.4 L453.3,423.2 L458.4,426.6 L462.7,429.4 L465.8,431.4 L474.2,418.6 L471.0,416.5 L466.7,413.8 L461.7,410.5 L456.1,406.9 L450.2,402.9 L444.4,398.9 L438.5,394.6 L432.3,389.9 L425.8,384.8 L418.9,379.5 L411.6,374.2 L404.1,369.0 L396.2,363.9 L388.2,359.0 L379.9,354.2 L371.4,349.2 L362.6,344.2 L353.5,338.9 L343.4,333.2 L332.3,327.1 L321.0,320.9 L310.2,314.9 L301.0,309.4 L294.0,304.6 L289.8,301.1 L287.7,298.7 L286.9,297.2 L286.3,295.2 L285.6,292.0 L284.2,287.9 L282.6,283.5 L281.2,278.9 L279.9,274.0 L278.6,268.9 L277.4,263.7 L276.3,258.7 L275.4,253.8 L274.6,248.8 L273.9,243.5 L273.2,238.3 L272.3,233.1 L271.1,228.3 L269.7,224.0 L268.3,219.8 L266.6,215.8 L264.6,212.0 L262.1,208.4 L259.0,205.2 L255.2,202.7 L251.1,201.0 L247.0,199.8 L242.8,199.1 L238.6,198.8 L234.6,198.9 L230.6,199.4 L226.7,200.2 L222.8,201.5 L219.0,203.0 L215.3,204.9 L211.7,207.0 L208.0,209.7 L204.4,212.9 L201.0,216.3 L198.0,219.4 L195.5,222.1 L193.8,223.9Z"/>
<path fill="#1d35ee" d="M200.9,230.8 L202.7,228.9 L205.2,226.3 L208.1,223.3 L211.2,220.2 L214.4,217.5 L217.2,215.4 L220.1,213.8 L223.1,212.3 L226.2,211.1 L229.3,210.1 L232.3,209.5 L235.2,209.1 L238.3,209.1 L241.5,209.4 L244.7,209.9 L247.7,210.7 L250.2,211.9 L252.3,213.2 L254.0,215.0 L255.6,217.4 L257.1,220.2 L258.4,223.5 L259.7,227.2 L260.9,231.1 L261.9,235.3 L262.7,239.9 L263.3,244.9 L264.0,250.2 L264.7,255.6 L265.7,260.9 L266.8,266.1 L268.0,271.4 L269.3,276.7 L270.7,282.0 L272.2,287.0 L273.8,291.5 L274.9,295.0 L275.6,298.0 L276.6,301.4 L278.6,305.2 L282.0,309.2 L287.3,313.6 L294.9,318.9 L304.5,324.7 L315.4,330.9 L326.7,337.3 L337.7,343.4 L347.6,349.1 L356.6,354.4 L365.3,359.5 L373.8,364.5 L381.9,369.4 L389.7,374.2 L397.2,379.1 L404.5,384.2 L411.4,389.4 L418.2,394.6 L424.7,399.7 L431.0,404.6 L437.0,409.1 L443.0,413.4 L449.0,417.4 L454.7,421.2 L459.8,424.5 L464.0,427.3 L467.1,429.4 L473.9,419.1 L470.7,417.0 L466.4,414.3 L461.3,411.0 L455.7,407.4 L449.9,403.4 L444.0,399.4 L438.2,395.1 L432.0,390.3 L425.4,385.3 L418.5,380.0 L411.3,374.6 L403.7,369.4 L395.9,364.4 L387.9,359.5 L379.6,354.6 L371.1,349.7 L362.3,344.7 L353.2,339.4 L343.2,333.7 L332.0,327.6 L320.7,321.4 L310.0,315.4 L300.7,309.8 L293.7,305.1 L289.4,301.5 L287.3,299.1 L286.4,297.4 L285.8,295.3 L285.1,292.1 L283.7,288.0 L282.1,283.7 L280.7,279.1 L279.4,274.2 L278.1,269.0 L276.9,263.8 L275.8,258.8 L274.9,253.9 L274.1,248.8 L273.4,243.6 L272.7,238.4 L271.8,233.2 L270.6,228.5 L269.2,224.1 L267.8,220.0 L266.2,216.0 L264.2,212.2 L261.7,208.7 L258.6,205.6 L255.0,203.2 L251.0,201.4 L246.8,200.3 L242.7,199.6 L238.6,199.3 L234.7,199.4 L230.7,199.8 L226.8,200.7 L222.9,201.9 L219.2,203.5 L215.5,205.3 L212.0,207.4 L208.3,210.0 L204.7,213.2 L201.4,216.6 L198.3,219.8 L195.9,222.4 L194.1,224.2Z"/>
<path fill="#3c5aff" d="M197.7,227.7 L199.5,225.8 L202.0,223.2 L204.9,220.1 L208.2,216.9 L211.5,214.0 L214.7,211.6 L217.9,209.7 L221.2,208.1 L224.6,206.7 L228.1,205.6 L231.6,204.9 L235.0,204.5 L238.5,204.5 L242.1,204.7 L245.7,205.3 L249.2,206.3 L252.5,207.7 L255.3,209.6 L257.7,212.0 L259.7,214.9 L261.4,218.2 L262.9,221.9 L264.2,225.8 L265.5,229.9 L266.6,234.3 L267.4,239.2 L268.1,244.3 L268.8,249.6 L269.6,254.8 L270.5,259.9 L271.6,265.0 L272.8,270.3 L274.1,275.5 L275.4,280.6 L276.9,285.4 L278.5,289.8 L279.7,293.6 L280.4,296.7 L281.2,299.5 L282.7,302.3 L285.5,305.5 L290.3,309.6 L297.6,314.6 L307.1,320.3 L317.9,326.4 L329.2,332.7 L340.3,338.8 L350.3,344.5 L359.3,349.8 L368.1,354.9 L376.5,359.8 L384.7,364.7 L392.7,369.6 L400.3,374.5 L407.7,379.6 L414.8,384.9 L421.6,390.2 L428.1,395.3 L434.4,400.1 L440.4,404.5 L446.3,408.6 L452.2,412.6 L457.8,416.4 L462.9,419.7 L467.2,422.4 L470.3,424.5 L472.7,420.9 L469.5,418.8 L465.2,416.1 L460.2,412.8 L454.5,409.1 L448.7,405.2 L442.8,401.1 L436.9,396.8 L430.7,392.0 L424.2,386.9 L417.3,381.6 L410.1,376.3 L402.6,371.1 L394.8,366.1 L386.8,361.2 L378.6,356.4 L370.1,351.4 L361.3,346.4 L352.2,341.1 L342.2,335.4 L331.1,329.3 L319.8,323.1 L309.0,317.0 L299.7,311.4 L292.6,306.6 L288.1,302.8 L285.8,300.1 L284.7,298.1 L284.0,295.8 L283.3,292.6 L282.0,288.6 L280.4,284.3 L278.9,279.6 L277.6,274.6 L276.3,269.4 L275.2,264.2 L274.0,259.2 L273.1,254.2 L272.4,249.1 L271.7,243.8 L270.9,238.6 L270.0,233.6 L268.9,228.9 L267.6,224.7 L266.2,220.6 L264.6,216.8 L262.7,213.1 L260.4,209.8 L257.5,206.9 L254.1,204.7 L250.4,203.1 L246.5,202.0 L242.5,201.3 L238.6,201.1 L234.8,201.1 L231.0,201.5 L227.2,202.4 L223.5,203.5 L219.9,205.0 L216.3,206.8 L212.9,208.8 L209.4,211.3 L205.9,214.5 L202.5,217.8 L199.5,220.9 L197.1,223.5 L195.3,225.4Z"/>
<path fill="#7fadd0" d="M283.9,532.7 L283.7,527.5 L283.4,520.3 L283.0,511.9 L282.7,502.8 L282.5,493.7 L282.7,485.2 L283.0,477.2 L283.4,469.0 L284.0,460.8 L284.8,452.6 L285.8,444.5 L287.2,436.4 L288.9,428.2 L290.9,419.8 L293.2,411.4 L295.7,403.2 L298.4,395.3 L301.5,387.8 L304.7,380.8 L308.3,374.0 L312.1,367.4 L316.2,361.1 L320.5,355.1 L325.2,349.4 L330.0,343.9 L335.2,338.7 L340.6,333.8 L346.3,329.1 L352.2,324.7 L358.5,320.5 L365.0,316.6 L372.0,312.8 L379.2,309.4 L386.6,306.2 L394.1,303.4 L401.7,301.0 L409.6,298.9 L417.8,297.0 L426.2,295.5 L434.5,294.4 L442.4,293.9 L449.7,293.9 L456.5,294.6 L463.1,295.8 L469.5,297.5 L475.7,299.7 L481.6,302.2 L487.3,305.0 L492.6,308.2 L497.8,311.9 L502.9,316.2 L507.7,320.6 L512.1,324.9 L516.1,328.8 L519.4,332.4 L522.4,336.0 L525.0,339.6 L527.2,342.9 L529.1,345.8 L530.6,348.0 L539.4,342.0 L538.0,339.9 L536.1,337.1 L533.8,333.5 L531.0,329.5 L527.7,325.3 L523.9,321.2 L519.8,317.1 L515.3,312.6 L510.2,307.8 L504.8,303.2 L498.9,298.8 L492.7,295.0 L486.4,291.8 L479.9,289.0 L473.0,286.5 L465.8,284.4 L458.2,282.9 L450.3,282.1 L442.0,281.9 L433.3,282.5 L424.4,283.5 L415.5,285.0 L406.7,286.9 L398.3,289.0 L390.1,291.5 L381.9,294.5 L374.0,297.7 L366.2,301.4 L358.7,305.3 L351.5,309.5 L344.7,313.9 L338.2,318.7 L331.9,323.7 L325.9,329.0 L320.3,334.7 L314.8,340.6 L309.7,346.8 L304.9,353.3 L300.4,360.1 L296.1,367.2 L292.2,374.5 L288.5,382.2 L285.2,390.2 L282.1,398.7 L279.3,407.3 L276.9,416.1 L274.7,424.9 L272.8,433.6 L271.2,442.2 L270.0,450.8 L269.0,459.4 L268.3,468.0 L267.8,476.4 L267.3,484.8 L267.1,493.6 L267.2,503.1 L267.4,512.4 L267.6,520.9 L267.9,528.1 L268.1,533.3Z"/>
<path fill="#a8d0ea" d="M281.4,532.8 L281.2,527.6 L280.9,520.4 L280.5,511.9 L280.2,502.8 L280.1,493.7 L280.2,485.2 L280.5,477.0 L281.0,468.8 L281.6,460.6 L282.4,452.3 L283.5,444.1 L284.9,436.0 L286.7,427.7 L288.7,419.2 L291.0,410.8 L293.5,402.5 L296.3,394.5 L299.4,386.9 L302.7,379.8 L306.4,372.9 L310.2,366.2 L314.4,359.9 L318.8,353.8 L323.5,348.0 L328.5,342.5 L333.7,337.2 L339.2,332.2 L345.0,327.4 L351.0,323.0 L357.3,318.8 L364.0,314.8 L371.0,311.0 L378.3,307.5 L385.8,304.3 L393.5,301.5 L401.2,299.1 L409.1,296.9 L417.5,295.1 L425.9,293.6 L434.3,292.5 L442.3,292.0 L449.8,292.0 L456.8,292.7 L463.5,294.0 L470.1,295.8 L476.3,298.0 L482.4,300.6 L488.1,303.4 L493.6,306.7 L498.9,310.5 L504.1,314.8 L508.9,319.3 L513.4,323.6 L517.3,327.6 L520.7,331.3 L523.7,335.0 L526.4,338.6 L528.6,342.0 L530.5,344.9 L532.0,347.0 L539.0,342.2 L537.6,340.2 L535.8,337.3 L533.4,333.8 L530.6,329.8 L527.3,325.6 L523.6,321.5 L519.5,317.4 L515.0,312.9 L509.9,308.2 L504.5,303.5 L498.6,299.2 L492.5,295.4 L486.2,292.3 L479.7,289.4 L472.9,286.9 L465.7,284.9 L458.1,283.4 L450.3,282.6 L442.0,282.4 L433.4,282.9 L424.5,284.0 L415.6,285.5 L406.8,287.3 L398.4,289.5 L390.2,292.0 L382.1,294.9 L374.2,298.2 L366.4,301.8 L359.0,305.7 L351.8,309.9 L345.0,314.4 L338.5,319.1 L332.3,324.1 L326.3,329.4 L320.6,335.0 L315.3,340.9 L310.2,347.1 L305.4,353.6 L300.9,360.4 L296.6,367.4 L292.7,374.8 L289.1,382.4 L285.7,390.4 L282.6,398.8 L279.9,407.5 L277.4,416.3 L275.2,425.1 L273.3,433.7 L271.8,442.3 L270.5,450.9 L269.6,459.5 L268.9,468.0 L268.4,476.4 L268.0,484.8 L267.7,493.6 L267.8,503.1 L268.0,512.4 L268.3,520.9 L268.5,528.1 L268.7,533.3Z"/>
<path fill="#dcf1fc" d="M275.4,533.0 L275.2,527.8 L274.9,520.7 L274.6,512.1 L274.3,502.9 L274.2,493.7 L274.4,485.0 L274.8,476.8 L275.2,468.4 L275.9,460.1 L276.8,451.7 L277.9,443.3 L279.4,434.9 L281.2,426.4 L283.3,417.8 L285.7,409.2 L288.3,400.7 L291.3,392.6 L294.5,384.8 L298.0,377.4 L301.7,370.3 L305.8,363.5 L310.1,356.9 L314.7,350.6 L319.6,344.6 L324.7,338.9 L330.2,333.5 L335.9,328.3 L341.9,323.5 L348.2,318.9 L354.7,314.6 L361.6,310.5 L368.8,306.7 L376.4,303.1 L384.1,299.9 L391.9,297.0 L399.9,294.5 L408.0,292.4 L416.6,290.5 L425.2,289.0 L433.8,288.0 L442.2,287.4 L450.0,287.5 L457.4,288.3 L464.6,289.7 L471.4,291.6 L477.9,293.9 L484.2,296.6 L490.2,299.6 L496.0,303.1 L501.6,307.2 L506.9,311.7 L511.8,316.2 L516.3,320.7 L520.3,324.7 L523.9,328.6 L527.0,332.5 L529.7,336.3 L532.0,339.8 L533.9,342.6 L535.3,344.8 L537.8,343.1 L536.4,341.0 L534.5,338.1 L532.2,334.6 L529.4,330.7 L526.2,326.6 L522.5,322.6 L518.5,318.5 L513.9,314.0 L508.9,309.3 L503.5,304.7 L497.8,300.5 L491.8,296.8 L485.6,293.7 L479.1,290.9 L472.4,288.5 L465.3,286.5 L457.9,285.0 L450.2,284.2 L442.1,284.1 L433.5,284.6 L424.7,285.7 L415.9,287.2 L407.2,289.0 L398.9,291.2 L390.8,293.7 L382.8,296.6 L374.9,299.8 L367.2,303.4 L359.8,307.3 L352.8,311.5 L346.1,315.9 L339.6,320.5 L333.5,325.5 L327.6,330.8 L322.0,336.3 L316.7,342.2 L311.7,348.3 L306.9,354.7 L302.5,361.4 L298.3,368.4 L294.5,375.6 L290.9,383.2 L287.6,391.1 L284.5,399.5 L281.8,408.1 L279.4,416.8 L277.2,425.5 L275.4,434.1 L273.8,442.6 L272.6,451.2 L271.7,459.7 L271.0,468.2 L270.5,476.5 L270.1,484.8 L269.9,493.7 L270.0,503.0 L270.2,512.3 L270.5,520.8 L270.8,528.0 L270.9,533.2Z"/>
<path fill="#7fadd0" d="M415.8,218.2 L415.9,221.7 L416.1,226.7 L416.3,232.6 L416.7,239.1 L417.5,245.8 L418.8,252.1 L420.6,258.1 L422.9,264.1 L425.5,270.1 L428.3,276.0 L431.2,281.7 L434.0,287.1 L436.8,292.4 L439.6,297.6 L442.5,302.7 L445.6,307.6 L448.9,312.4 L452.5,317.0 L456.6,321.5 L461.3,325.9 L466.1,330.0 L470.6,333.6 L474.4,336.5 L477.0,338.7 L483.0,331.3 L480.3,329.1 L476.5,326.1 L472.1,322.7 L467.5,318.9 L463.2,314.9 L459.5,311.0 L456.3,306.9 L453.3,302.6 L450.4,297.9 L447.5,293.1 L444.8,288.1 L442.0,282.9 L439.2,277.6 L436.3,272.0 L433.6,266.4 L431.1,260.8 L428.9,255.2 L427.2,249.9 L426.1,244.4 L425.3,238.3 L424.9,232.1 L424.6,226.4 L424.4,221.4 L424.2,217.8Z"/>
<path fill="#a8d0ea" d="M417.1,218.2 L417.3,221.7 L417.4,226.6 L417.6,232.5 L418.1,239.0 L418.9,245.5 L420.1,251.7 L422.0,257.7 L424.2,263.6 L426.8,269.5 L429.6,275.3 L432.5,281.0 L435.3,286.4 L438.0,291.7 L440.9,296.9 L443.8,301.9 L446.8,306.8 L450.1,311.6 L453.6,316.1 L457.7,320.5 L462.3,324.8 L467.1,328.8 L471.6,332.4 L475.3,335.3 L477.9,337.5 L482.8,331.6 L480.1,329.4 L476.3,326.4 L471.9,323.0 L467.3,319.1 L463.0,315.2 L459.2,311.2 L456.0,307.2 L453.0,302.8 L450.0,298.1 L447.2,293.3 L444.4,288.2 L441.7,283.1 L438.9,277.7 L436.0,272.2 L433.3,266.5 L430.8,260.9 L428.6,255.3 L426.9,250.0 L425.7,244.4 L425.0,238.3 L424.5,232.2 L424.3,226.4 L424.1,221.4 L423.9,217.8Z"/>
<path fill="#dcf1fc" d="M420.3,218.0 L420.5,221.6 L420.7,226.5 L420.9,232.4 L421.3,238.7 L422.1,245.0 L423.3,250.9 L425.1,256.6 L427.3,262.3 L429.9,268.1 L432.7,273.8 L435.5,279.4 L438.3,284.8 L441.1,290.0 L443.9,295.2 L446.8,300.1 L449.8,304.9 L452.9,309.5 L456.3,313.8 L460.2,317.9 L464.7,322.1 L469.4,326.0 L473.8,329.6 L477.6,332.5 L480.2,334.7 L481.9,332.6 L479.2,330.4 L475.4,327.5 L471.0,324.0 L466.4,320.1 L462.0,316.1 L458.3,312.1 L455.0,307.9 L451.9,303.5 L448.9,298.8 L446.1,293.9 L443.3,288.8 L440.6,283.7 L437.7,278.3 L434.9,272.7 L432.1,267.1 L429.6,261.4 L427.4,255.7 L425.7,250.3 L424.5,244.6 L423.8,238.4 L423.3,232.2 L423.1,226.4 L422.9,221.5 L422.7,217.9Z"/>
<path fill="#1426cc" d="M491.3,211.5 L496.8,211.2 L504.3,210.9 L513.2,210.5 L522.9,210.0 L532.6,209.3 L541.7,208.6 L550.2,207.6 L558.6,206.5 L567.0,205.2 L575.3,203.9 L583.6,202.7 L591.8,201.7 L600.1,200.7 L608.4,199.8 L616.7,199.0 L625.0,198.2 L633.3,197.5 L641.6,196.8 L649.9,196.1 L658.2,195.5 L666.5,194.9 L674.7,194.4 L682.9,194.0 L691.0,193.9 L699.3,194.0 L707.8,194.3 L716.2,194.7 L724.5,195.3 L732.5,196.0 L740.0,197.0 L747.2,198.1 L754.0,199.4 L760.6,200.8 L766.8,202.5 L772.6,204.4 L778.2,206.6 L783.5,209.1 L788.7,211.9 L793.6,215.0 L798.1,218.3 L802.3,221.7 L805.9,225.1 L808.9,228.4 L811.4,231.8 L813.6,235.4 L815.5,239.3 L817.4,243.4 L819.2,247.7 L820.9,252.1 L822.4,256.6 L823.7,261.2 L824.9,266.0 L825.9,271.0 L826.7,276.1 L827.3,281.1 L827.7,286.1 L827.9,291.5 L828.0,297.3 L828.2,303.6 L828.6,310.5 L829.1,318.0 L829.8,326.0 L830.5,334.4 L831.3,343.0 L831.9,351.7 L832.5,360.4 L832.9,369.8 L833.3,380.3 L833.6,390.9 L833.9,400.8 L834.2,409.2 L834.3,415.2 L849.7,414.8 L849.5,408.7 L849.2,400.3 L848.9,390.4 L848.5,379.7 L848.0,369.2 L847.5,359.6 L846.9,350.7 L846.2,341.8 L845.5,333.1 L844.7,324.7 L844.0,316.8 L843.4,309.5 L843.0,302.9 L842.8,296.8 L842.6,291.0 L842.4,285.3 L842.0,279.7 L841.3,273.9 L840.3,268.3 L839.2,262.9 L837.9,257.5 L836.4,252.3 L834.7,247.2 L832.8,242.3 L830.7,237.5 L828.6,232.9 L826.2,228.3 L823.4,223.7 L820.0,219.2 L816.1,214.9 L811.7,210.8 L806.9,206.9 L801.6,203.1 L795.9,199.6 L790.0,196.3 L783.8,193.4 L777.4,191.0 L770.8,188.8 L763.9,187.0 L756.8,185.5 L749.5,184.2 L742.0,183.0 L734.0,182.0 L725.6,181.3 L717.0,180.7 L708.3,180.3 L699.6,180.1 L691.0,180.1 L682.5,180.2 L674.0,180.6 L665.5,181.1 L657.1,181.8 L648.8,182.5 L640.4,183.2 L632.1,183.9 L623.7,184.7 L615.3,185.5 L607.0,186.4 L598.6,187.3 L590.2,188.3 L581.7,189.5 L573.3,190.7 L565.0,192.0 L556.7,193.3 L548.5,194.5 L540.3,195.4 L531.6,196.2 L522.1,196.9 L512.5,197.4 L503.7,197.9 L496.1,198.2 L490.7,198.5Z"/>
<path fill="#1d35ee" d="M491.2,209.4 L496.7,209.1 L504.2,208.8 L513.1,208.4 L522.8,207.9 L532.4,207.2 L541.4,206.5 L549.9,205.5 L558.3,204.4 L566.7,203.1 L575.0,201.8 L583.3,200.6 L591.6,199.5 L599.8,198.6 L608.2,197.7 L616.5,196.8 L624.8,196.0 L633.1,195.3 L641.4,194.6 L649.7,194.0 L658.0,193.3 L666.3,192.7 L674.6,192.2 L682.8,191.8 L691.0,191.7 L699.4,191.8 L707.9,192.0 L716.4,192.4 L724.7,193.0 L732.7,193.8 L740.3,194.7 L747.6,195.9 L754.5,197.2 L761.1,198.6 L767.4,200.3 L773.4,202.2 L779.1,204.5 L784.5,207.0 L789.8,209.9 L794.8,213.1 L799.5,216.5 L803.8,220.0 L807.5,223.5 L810.6,226.9 L813.3,230.5 L815.6,234.3 L817.6,238.3 L819.6,242.5 L821.4,246.9 L823.1,251.3 L824.7,255.9 L826.0,260.6 L827.2,265.5 L828.2,270.6 L829.0,275.7 L829.7,280.9 L830.0,286.0 L830.2,291.4 L830.4,297.2 L830.6,303.5 L831.0,310.3 L831.5,317.8 L832.2,325.8 L832.9,334.2 L833.7,342.8 L834.3,351.6 L834.9,360.3 L835.3,369.7 L835.7,380.2 L836.1,390.8 L836.4,400.7 L836.6,409.1 L836.8,415.2 L849.1,414.8 L848.8,408.7 L848.6,400.3 L848.3,390.4 L847.9,379.7 L847.4,369.2 L846.9,359.6 L846.3,350.7 L845.6,341.8 L844.9,333.2 L844.1,324.8 L843.4,316.8 L842.8,309.5 L842.4,302.9 L842.2,296.8 L842.0,291.0 L841.8,285.4 L841.4,279.7 L840.7,274.0 L839.7,268.4 L838.6,263.0 L837.3,257.7 L835.8,252.5 L834.1,247.4 L832.2,242.5 L830.2,237.8 L828.1,233.2 L825.7,228.6 L822.9,224.1 L819.6,219.6 L815.7,215.3 L811.3,211.3 L806.5,207.3 L801.3,203.6 L795.6,200.1 L789.7,196.8 L783.6,194.0 L777.2,191.5 L770.6,189.4 L763.8,187.6 L756.7,186.1 L749.4,184.7 L741.9,183.6 L733.9,182.6 L725.6,181.8 L717.0,181.3 L708.3,180.9 L699.6,180.7 L691.0,180.6 L682.5,180.8 L674.0,181.1 L665.6,181.7 L657.2,182.3 L648.8,183.0 L640.5,183.7 L632.1,184.5 L623.8,185.2 L615.4,186.1 L607.0,186.9 L598.6,187.9 L590.2,188.9 L581.8,190.0 L573.4,191.3 L565.1,192.6 L556.8,193.8 L548.6,195.0 L540.4,196.0 L531.6,196.7 L522.1,197.4 L512.6,197.9 L503.7,198.4 L496.1,198.7 L490.7,199.0Z"/>
<path fill="#3c5aff" d="M491.0,204.5 L496.4,204.2 L503.9,203.8 L512.8,203.4 L522.4,202.9 L532.0,202.2 L540.9,201.5 L549.3,200.5 L557.6,199.4 L565.9,198.1 L574.3,196.8 L582.6,195.6 L590.9,194.5 L599.3,193.5 L607.6,192.6 L615.9,191.7 L624.3,190.9 L632.6,190.2 L641.0,189.5 L649.3,188.8 L657.6,188.1 L666.0,187.5 L674.3,186.9 L682.7,186.6 L691.0,186.4 L699.5,186.5 L708.1,186.7 L716.7,187.1 L725.1,187.7 L733.3,188.5 L741.1,189.4 L748.5,190.6 L755.6,191.9 L762.4,193.4 L768.9,195.1 L775.2,197.1 L781.2,199.5 L787.0,202.2 L792.6,205.2 L797.9,208.6 L802.8,212.1 L807.4,215.8 L811.4,219.6 L814.9,223.5 L817.9,227.5 L820.4,231.6 L822.6,235.9 L824.6,240.3 L826.5,244.8 L828.4,249.5 L830.0,254.3 L831.4,259.2 L832.6,264.3 L833.7,269.5 L834.6,274.9 L835.2,280.3 L835.6,285.7 L835.8,291.2 L836.0,297.0 L836.2,303.2 L836.6,310.0 L837.2,317.4 L837.9,325.3 L838.6,333.7 L839.3,342.4 L840.0,351.2 L840.6,360.0 L841.1,369.5 L841.5,380.0 L841.9,390.6 L842.2,400.5 L842.4,408.9 L842.6,415.0 L846.9,414.8 L846.7,408.8 L846.4,400.4 L846.1,390.5 L845.7,379.8 L845.3,369.3 L844.8,359.7 L844.2,350.9 L843.5,342.0 L842.8,333.3 L842.0,325.0 L841.3,317.0 L840.7,309.7 L840.4,303.0 L840.1,296.9 L840.0,291.1 L839.8,285.5 L839.4,279.9 L838.7,274.3 L837.7,268.8 L836.6,263.4 L835.3,258.2 L833.9,253.1 L832.2,248.1 L830.3,243.2 L828.3,238.6 L826.3,234.1 L823.9,229.6 L821.2,225.2 L818.0,220.9 L814.3,216.8 L810.0,212.8 L805.3,208.9 L800.1,205.2 L794.6,201.8 L788.8,198.6 L782.8,195.8 L776.6,193.4 L770.1,191.3 L763.3,189.5 L756.3,188.0 L749.1,186.7 L741.6,185.5 L733.7,184.6 L725.4,183.8 L716.9,183.2 L708.2,182.8 L699.5,182.6 L691.0,182.6 L682.5,182.7 L674.1,183.1 L665.7,183.6 L657.3,184.3 L649.0,184.9 L640.6,185.6 L632.3,186.4 L623.9,187.1 L615.6,187.9 L607.2,188.8 L598.8,189.7 L590.5,190.7 L582.1,191.9 L573.7,193.1 L565.4,194.4 L557.1,195.7 L548.8,196.8 L540.6,197.8 L531.8,198.6 L522.2,199.2 L512.7,199.8 L503.8,200.2 L496.2,200.6 L490.8,200.9Z"/>
</svg>
<div id="cap">コンパウンド分子構造イメージ図</div>
</body>
</html>
